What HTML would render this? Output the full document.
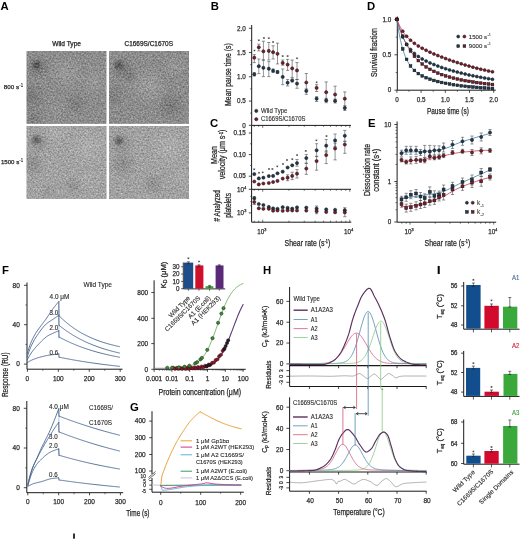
<!DOCTYPE html>
<html><head><meta charset="utf-8"><style>
html,body{margin:0;padding:0;background:#fff;width:520px;height:540px;overflow:hidden}
svg{display:block;will-change:transform}
text{font-family:"Liberation Sans", sans-serif}
</style></head><body>
<svg width="520" height="540" viewBox="0 0 520 540" font-family="Liberation Sans, sans-serif">
<defs>
<filter id="tex" x="0" y="0" width="1" height="1" color-interpolation-filters="sRGB">
<feTurbulence type="fractalNoise" baseFrequency="0.6" numOctaves="2" seed="7" result="n"/>
<feColorMatrix in="n" type="matrix" values="1 0 0 0 0  1 0 0 0 0  1 0 0 0 0  0 0 0 0 1" result="g"/>
<feGaussianBlur in="g" stdDeviation="0.35" result="gb"/>
<feComposite in="SourceGraphic" in2="gb" operator="arithmetic" k1="0" k2="1" k3="0.42" k4="-0.21"/>
</filter>
</defs>
<rect width="520" height="540" fill="#fff"/>
<text x="0.4" y="9.5" font-size="11.3" fill="#000" font-weight="bold">A</text>
<text x="52.2" y="45.8" font-size="6.3" fill="#262626" stroke="#262626" stroke-width="0.25" textLength="28.8" lengthAdjust="spacingAndGlyphs">Wild Type</text>
<text x="124.5" y="45.8" font-size="6.3" fill="#262626" stroke="#262626" stroke-width="0.25" textLength="48.5" lengthAdjust="spacingAndGlyphs">C1669S/C1670S</text>
<text x="3.75" y="89.4" font-size="6.2" fill="#262626" stroke="#262626" stroke-width="0.25" textLength="15.3" lengthAdjust="spacingAndGlyphs">800 s</text>
<text x="19.3" y="87.3" font-size="4.8" fill="#2b2b2b" stroke="#2b2b2b" stroke-width="0.12" textLength="3.9" lengthAdjust="spacingAndGlyphs">-1</text>
<text x="0.9" y="164.4" font-size="6.2" fill="#262626" stroke="#262626" stroke-width="0.25" textLength="18.4" lengthAdjust="spacingAndGlyphs">1500 s</text>
<text x="19.3" y="162.3" font-size="4.8" fill="#2b2b2b" stroke="#2b2b2b" stroke-width="0.12" textLength="3.9" lengthAdjust="spacingAndGlyphs">-1</text>
<defs><radialGradient id="blobk"><stop offset="0" stop-color="#000" stop-opacity="1"/><stop offset="1" stop-color="#000" stop-opacity="0"/></radialGradient><radialGradient id="blobw"><stop offset="0" stop-color="#fff" stop-opacity="1"/><stop offset="1" stop-color="#fff" stop-opacity="0"/></radialGradient></defs>
<clipPath id="cq0"><rect x="26.5" y="51.0" width="80" height="72.7"/></clipPath>
<g clip-path="url(#cq0)"><g filter="url(#tex)"><rect x="26.5" y="51.0" width="80" height="72.7" fill="#8c8c8c"/><circle cx="36.3" cy="65.2" r="6" fill="url(#blobk)" opacity="0.4"/><circle cx="38.5" cy="67.0" r="13" fill="url(#blobk)" opacity="0.16"/><circle cx="31.5" cy="96.0" r="16" fill="url(#blobk)" opacity="0.14"/><circle cx="34.5" cy="119.0" r="12" fill="url(#blobk)" opacity="0.1"/><circle cx="76.5" cy="103.0" r="12" fill="url(#blobk)" opacity="0.12"/><circle cx="66.5" cy="73.0" r="18" fill="url(#blobw)" opacity="0.12"/><circle cx="94.5" cy="81.0" r="16" fill="url(#blobw)" opacity="0.1"/><circle cx="56.5" cy="111.0" r="12" fill="url(#blobw)" opacity="0.05"/></g></g>
<clipPath id="cq1"><rect x="109.0" y="51.0" width="80" height="72.7"/></clipPath>
<g clip-path="url(#cq1)"><g filter="url(#tex)"><rect x="109.0" y="51.0" width="80" height="72.7" fill="#8c8c8c"/><circle cx="118.8" cy="65.0" r="6" fill="url(#blobk)" opacity="0.4"/><circle cx="123.0" cy="69.0" r="13" fill="url(#blobk)" opacity="0.16"/><circle cx="131.0" cy="77.0" r="8" fill="url(#blobk)" opacity="0.1"/><circle cx="113.0" cy="96.0" r="14" fill="url(#blobk)" opacity="0.1"/><circle cx="171.0" cy="106.0" r="15" fill="url(#blobk)" opacity="0.14"/><circle cx="149.0" cy="86.0" r="20" fill="url(#blobw)" opacity="0.14"/><circle cx="174.0" cy="66.0" r="14" fill="url(#blobw)" opacity="0.08"/></g></g>
<clipPath id="cq2"><rect x="26.5" y="126.0" width="80" height="72.7"/></clipPath>
<g clip-path="url(#cq2)"><g filter="url(#tex)"><rect x="26.5" y="126.0" width="80" height="72.7" fill="#a2a2a2"/><circle cx="36.4" cy="139.9" r="6" fill="url(#blobk)" opacity="0.4"/><circle cx="38.5" cy="142.0" r="13" fill="url(#blobk)" opacity="0.14"/><circle cx="32.5" cy="164.0" r="14" fill="url(#blobk)" opacity="0.14"/><circle cx="73.5" cy="186.0" r="10" fill="url(#blobk)" opacity="0.12"/><circle cx="48.5" cy="191.0" r="10" fill="url(#blobk)" opacity="0.06"/><circle cx="54.5" cy="132.0" r="14" fill="url(#blobw)" opacity="0.1"/><circle cx="88.5" cy="148.0" r="20" fill="url(#blobw)" opacity="0.12"/><circle cx="88.5" cy="181.0" r="14" fill="url(#blobw)" opacity="0.06"/></g></g>
<clipPath id="cq3"><rect x="109.0" y="126.0" width="80" height="72.7"/></clipPath>
<g clip-path="url(#cq3)"><g filter="url(#tex)"><rect x="109.0" y="126.0" width="80" height="72.7" fill="#a1a1a1"/><circle cx="118.8" cy="140.5" r="6" fill="url(#blobk)" opacity="0.4"/><circle cx="121.0" cy="143.0" r="13" fill="url(#blobk)" opacity="0.14"/><circle cx="123.0" cy="164.0" r="15" fill="url(#blobk)" opacity="0.14"/><circle cx="153.0" cy="184.0" r="12" fill="url(#blobk)" opacity="0.12"/><circle cx="169.0" cy="148.0" r="20" fill="url(#blobw)" opacity="0.14"/><circle cx="181.0" cy="176.0" r="12" fill="url(#blobw)" opacity="0.08"/></g></g>
<text x="210.7" y="9.5" font-size="11.3" fill="#000" font-weight="bold">B</text>
<line x1="251.7" y1="25" x2="251.7" y2="125.4" stroke="#1a1a1a" stroke-width="1.0" />
<line x1="248.9" y1="125.3" x2="251.7" y2="125.3" stroke="#1a1a1a" stroke-width="0.8" />
<text x="245.8" y="127.5" font-size="7.09" text-anchor="end" fill="#2a2a2a" stroke="#2a2a2a" stroke-width="0.25" textLength="3.51" lengthAdjust="spacingAndGlyphs">0</text>
<line x1="248.9" y1="101.05" x2="251.7" y2="101.05" stroke="#1a1a1a" stroke-width="0.8" />
<text x="245.8" y="103.25" font-size="7.09" text-anchor="end" fill="#2a2a2a" stroke="#2a2a2a" stroke-width="0.25" textLength="8.77" lengthAdjust="spacingAndGlyphs">0.5</text>
<line x1="248.9" y1="76.8" x2="251.7" y2="76.8" stroke="#1a1a1a" stroke-width="0.8" />
<text x="245.8" y="79" font-size="7.09" text-anchor="end" fill="#2a2a2a" stroke="#2a2a2a" stroke-width="0.25" textLength="8.77" lengthAdjust="spacingAndGlyphs">1.0</text>
<line x1="248.9" y1="52.55" x2="251.7" y2="52.55" stroke="#1a1a1a" stroke-width="0.8" />
<text x="245.8" y="54.75" font-size="7.09" text-anchor="end" fill="#2a2a2a" stroke="#2a2a2a" stroke-width="0.25" textLength="8.77" lengthAdjust="spacingAndGlyphs">1.5</text>
<line x1="248.9" y1="28.3" x2="251.7" y2="28.3" stroke="#1a1a1a" stroke-width="0.8" />
<text x="245.8" y="30.5" font-size="7.09" text-anchor="end" fill="#2a2a2a" stroke="#2a2a2a" stroke-width="0.25" textLength="8.77" lengthAdjust="spacingAndGlyphs">2.0</text>
<line x1="250.1" y1="113.17" x2="251.7" y2="113.17" stroke="#1a1a1a" stroke-width="0.6" />
<line x1="250.1" y1="88.92" x2="251.7" y2="88.92" stroke="#1a1a1a" stroke-width="0.6" />
<line x1="250.1" y1="64.67" x2="251.7" y2="64.67" stroke="#1a1a1a" stroke-width="0.6" />
<line x1="250.1" y1="40.42" x2="251.7" y2="40.42" stroke="#1a1a1a" stroke-width="0.6" />
<text x="231.2" y="74.6" font-size="8.6" text-anchor="middle" fill="#262626" stroke="#262626" stroke-width="0.25" textLength="62.6" lengthAdjust="spacingAndGlyphs" transform="rotate(-90 231.2 74.6)">Mean pause time (s)</text>
<line x1="251.7" y1="125.4" x2="351" y2="125.4" stroke="#1a1a1a" stroke-width="1.0" />
<line x1="254.26" y1="125.4" x2="254.26" y2="126.9" stroke="#1a1a1a" stroke-width="0.6" />
<line x1="258.71" y1="125.4" x2="258.71" y2="126.9" stroke="#1a1a1a" stroke-width="0.6" />
<line x1="262.7" y1="125.4" x2="262.7" y2="127.9" stroke="#1a1a1a" stroke-width="0.6" />
<line x1="288.92" y1="125.4" x2="288.92" y2="126.9" stroke="#1a1a1a" stroke-width="0.6" />
<line x1="304.26" y1="125.4" x2="304.26" y2="126.9" stroke="#1a1a1a" stroke-width="0.6" />
<line x1="315.14" y1="125.4" x2="315.14" y2="126.9" stroke="#1a1a1a" stroke-width="0.6" />
<line x1="323.58" y1="125.4" x2="323.58" y2="126.9" stroke="#1a1a1a" stroke-width="0.6" />
<line x1="330.48" y1="125.4" x2="330.48" y2="126.9" stroke="#1a1a1a" stroke-width="0.6" />
<line x1="336.31" y1="125.4" x2="336.31" y2="126.9" stroke="#1a1a1a" stroke-width="0.6" />
<line x1="341.36" y1="125.4" x2="341.36" y2="126.9" stroke="#1a1a1a" stroke-width="0.6" />
<line x1="345.81" y1="125.4" x2="345.81" y2="126.9" stroke="#1a1a1a" stroke-width="0.6" />
<line x1="349.8" y1="125.4" x2="349.8" y2="127.9" stroke="#1a1a1a" stroke-width="0.6" />
<line x1="254.3" y1="72.5" x2="254.3" y2="76" stroke="#4a5058" stroke-width="0.6" />
<line x1="252.7" y1="72.5" x2="255.9" y2="72.5" stroke="#4a5058" stroke-width="0.6" />
<line x1="252.7" y1="76" x2="255.9" y2="76" stroke="#4a5058" stroke-width="0.6" />
<line x1="254.3" y1="54.6" x2="254.3" y2="62.6" stroke="#4a4a4a" stroke-width="0.6" />
<line x1="252.7" y1="54.6" x2="255.9" y2="54.6" stroke="#4a4a4a" stroke-width="0.6" />
<line x1="252.7" y1="62.6" x2="255.9" y2="62.6" stroke="#4a4a4a" stroke-width="0.6" />
<line x1="258.8" y1="59" x2="258.8" y2="73.6" stroke="#4a5058" stroke-width="0.6" />
<line x1="257.2" y1="59" x2="260.4" y2="59" stroke="#4a5058" stroke-width="0.6" />
<line x1="257.2" y1="73.6" x2="260.4" y2="73.6" stroke="#4a5058" stroke-width="0.6" />
<line x1="258.8" y1="44.2" x2="258.8" y2="50.9" stroke="#4a4a4a" stroke-width="0.6" />
<line x1="257.2" y1="44.2" x2="260.4" y2="44.2" stroke="#4a4a4a" stroke-width="0.6" />
<line x1="257.2" y1="50.9" x2="260.4" y2="50.9" stroke="#4a4a4a" stroke-width="0.6" />
<line x1="263.4" y1="60" x2="263.4" y2="76.6" stroke="#4a5058" stroke-width="0.6" />
<line x1="261.8" y1="60" x2="265" y2="60" stroke="#4a5058" stroke-width="0.6" />
<line x1="261.8" y1="76.6" x2="265" y2="76.6" stroke="#4a5058" stroke-width="0.6" />
<line x1="263.4" y1="41.2" x2="263.4" y2="60" stroke="#4a4a4a" stroke-width="0.6" />
<line x1="261.8" y1="41.2" x2="265" y2="41.2" stroke="#4a4a4a" stroke-width="0.6" />
<line x1="261.8" y1="60" x2="265" y2="60" stroke="#4a4a4a" stroke-width="0.6" />
<line x1="268.8" y1="61.6" x2="268.8" y2="76.6" stroke="#4a5058" stroke-width="0.6" />
<line x1="267.2" y1="61.6" x2="270.4" y2="61.6" stroke="#4a5058" stroke-width="0.6" />
<line x1="267.2" y1="76.6" x2="270.4" y2="76.6" stroke="#4a5058" stroke-width="0.6" />
<line x1="268.8" y1="42.5" x2="268.8" y2="60" stroke="#4a4a4a" stroke-width="0.6" />
<line x1="267.2" y1="42.5" x2="270.4" y2="42.5" stroke="#4a4a4a" stroke-width="0.6" />
<line x1="267.2" y1="60" x2="270.4" y2="60" stroke="#4a4a4a" stroke-width="0.6" />
<line x1="273.1" y1="69" x2="273.1" y2="72.5" stroke="#4a5058" stroke-width="0.6" />
<line x1="271.5" y1="69" x2="274.7" y2="69" stroke="#4a5058" stroke-width="0.6" />
<line x1="271.5" y1="72.5" x2="274.7" y2="72.5" stroke="#4a5058" stroke-width="0.6" />
<line x1="273.1" y1="45.8" x2="273.1" y2="59" stroke="#4a4a4a" stroke-width="0.6" />
<line x1="271.5" y1="45.8" x2="274.7" y2="45.8" stroke="#4a4a4a" stroke-width="0.6" />
<line x1="271.5" y1="59" x2="274.7" y2="59" stroke="#4a4a4a" stroke-width="0.6" />
<line x1="277.5" y1="70.5" x2="277.5" y2="73.5" stroke="#4a5058" stroke-width="0.6" />
<line x1="275.9" y1="70.5" x2="279.1" y2="70.5" stroke="#4a5058" stroke-width="0.6" />
<line x1="275.9" y1="73.5" x2="279.1" y2="73.5" stroke="#4a5058" stroke-width="0.6" />
<line x1="277.5" y1="43.2" x2="277.5" y2="63.9" stroke="#4a4a4a" stroke-width="0.6" />
<line x1="275.9" y1="43.2" x2="279.1" y2="43.2" stroke="#4a4a4a" stroke-width="0.6" />
<line x1="275.9" y1="63.9" x2="279.1" y2="63.9" stroke="#4a4a4a" stroke-width="0.6" />
<line x1="282.7" y1="69" x2="282.7" y2="84.7" stroke="#4a5058" stroke-width="0.6" />
<line x1="281.1" y1="69" x2="284.3" y2="69" stroke="#4a5058" stroke-width="0.6" />
<line x1="281.1" y1="84.7" x2="284.3" y2="84.7" stroke="#4a5058" stroke-width="0.6" />
<line x1="282.7" y1="60" x2="282.7" y2="65.2" stroke="#4a4a4a" stroke-width="0.6" />
<line x1="281.1" y1="60" x2="284.3" y2="60" stroke="#4a4a4a" stroke-width="0.6" />
<line x1="281.1" y1="65.2" x2="284.3" y2="65.2" stroke="#4a4a4a" stroke-width="0.6" />
<line x1="287.6" y1="79.5" x2="287.6" y2="86" stroke="#4a5058" stroke-width="0.6" />
<line x1="286" y1="79.5" x2="289.2" y2="79.5" stroke="#4a5058" stroke-width="0.6" />
<line x1="286" y1="86" x2="289.2" y2="86" stroke="#4a5058" stroke-width="0.6" />
<line x1="287.6" y1="59.4" x2="287.6" y2="70.4" stroke="#4a4a4a" stroke-width="0.6" />
<line x1="286" y1="59.4" x2="289.2" y2="59.4" stroke="#4a4a4a" stroke-width="0.6" />
<line x1="286" y1="70.4" x2="289.2" y2="70.4" stroke="#4a4a4a" stroke-width="0.6" />
<line x1="292.2" y1="79" x2="292.2" y2="82" stroke="#4a5058" stroke-width="0.6" />
<line x1="290.6" y1="79" x2="293.8" y2="79" stroke="#4a5058" stroke-width="0.6" />
<line x1="290.6" y1="82" x2="293.8" y2="82" stroke="#4a5058" stroke-width="0.6" />
<line x1="292.2" y1="60" x2="292.2" y2="77.5" stroke="#4a4a4a" stroke-width="0.6" />
<line x1="290.6" y1="60" x2="293.8" y2="60" stroke="#4a4a4a" stroke-width="0.6" />
<line x1="290.6" y1="77.5" x2="293.8" y2="77.5" stroke="#4a4a4a" stroke-width="0.6" />
<line x1="297" y1="79.5" x2="297" y2="88.3" stroke="#4a5058" stroke-width="0.6" />
<line x1="295.4" y1="79.5" x2="298.6" y2="79.5" stroke="#4a5058" stroke-width="0.6" />
<line x1="295.4" y1="88.3" x2="298.6" y2="88.3" stroke="#4a5058" stroke-width="0.6" />
<line x1="297" y1="62.6" x2="297" y2="79.5" stroke="#4a4a4a" stroke-width="0.6" />
<line x1="295.4" y1="62.6" x2="298.6" y2="62.6" stroke="#4a4a4a" stroke-width="0.6" />
<line x1="295.4" y1="79.5" x2="298.6" y2="79.5" stroke="#4a4a4a" stroke-width="0.6" />
<line x1="306.3" y1="88.9" x2="306.3" y2="94.3" stroke="#4a5058" stroke-width="0.6" />
<line x1="304.7" y1="88.9" x2="307.9" y2="88.9" stroke="#4a5058" stroke-width="0.6" />
<line x1="304.7" y1="94.3" x2="307.9" y2="94.3" stroke="#4a5058" stroke-width="0.6" />
<line x1="306.3" y1="73.5" x2="306.3" y2="90.1" stroke="#4a4a4a" stroke-width="0.6" />
<line x1="304.7" y1="73.5" x2="307.9" y2="73.5" stroke="#4a4a4a" stroke-width="0.6" />
<line x1="304.7" y1="90.1" x2="307.9" y2="90.1" stroke="#4a4a4a" stroke-width="0.6" />
<line x1="316.6" y1="96.7" x2="316.6" y2="101.5" stroke="#4a5058" stroke-width="0.6" />
<line x1="315" y1="96.7" x2="318.2" y2="96.7" stroke="#4a5058" stroke-width="0.6" />
<line x1="315" y1="101.5" x2="318.2" y2="101.5" stroke="#4a5058" stroke-width="0.6" />
<line x1="316.6" y1="84.7" x2="316.6" y2="91.5" stroke="#4a4a4a" stroke-width="0.6" />
<line x1="315" y1="84.7" x2="318.2" y2="84.7" stroke="#4a4a4a" stroke-width="0.6" />
<line x1="315" y1="91.5" x2="318.2" y2="91.5" stroke="#4a4a4a" stroke-width="0.6" />
<line x1="326.2" y1="98.3" x2="326.2" y2="102.7" stroke="#4a5058" stroke-width="0.6" />
<line x1="324.6" y1="98.3" x2="327.8" y2="98.3" stroke="#4a5058" stroke-width="0.6" />
<line x1="324.6" y1="102.7" x2="327.8" y2="102.7" stroke="#4a5058" stroke-width="0.6" />
<line x1="326.2" y1="81.9" x2="326.2" y2="101.5" stroke="#4a4a4a" stroke-width="0.6" />
<line x1="324.6" y1="81.9" x2="327.8" y2="81.9" stroke="#4a4a4a" stroke-width="0.6" />
<line x1="324.6" y1="101.5" x2="327.8" y2="101.5" stroke="#4a4a4a" stroke-width="0.6" />
<line x1="335.1" y1="99.1" x2="335.1" y2="103" stroke="#4a5058" stroke-width="0.6" />
<line x1="333.5" y1="99.1" x2="336.7" y2="99.1" stroke="#4a5058" stroke-width="0.6" />
<line x1="333.5" y1="103" x2="336.7" y2="103" stroke="#4a5058" stroke-width="0.6" />
<line x1="335.1" y1="86.2" x2="335.1" y2="101.5" stroke="#4a4a4a" stroke-width="0.6" />
<line x1="333.5" y1="86.2" x2="336.7" y2="86.2" stroke="#4a4a4a" stroke-width="0.6" />
<line x1="333.5" y1="101.5" x2="336.7" y2="101.5" stroke="#4a4a4a" stroke-width="0.6" />
<line x1="344.8" y1="105.7" x2="344.8" y2="110.5" stroke="#4a5058" stroke-width="0.6" />
<line x1="343.2" y1="105.7" x2="346.4" y2="105.7" stroke="#4a5058" stroke-width="0.6" />
<line x1="343.2" y1="110.5" x2="346.4" y2="110.5" stroke="#4a5058" stroke-width="0.6" />
<line x1="344.8" y1="91.9" x2="344.8" y2="106.9" stroke="#4a4a4a" stroke-width="0.6" />
<line x1="343.2" y1="91.9" x2="346.4" y2="91.9" stroke="#4a4a4a" stroke-width="0.6" />
<line x1="343.2" y1="106.9" x2="346.4" y2="106.9" stroke="#4a4a4a" stroke-width="0.6" />
<circle cx="254.30" cy="74.30" r="1.6" fill="#1d3a52" stroke="#111" stroke-width="0.5"/>
<circle cx="258.80" cy="66.20" r="1.6" fill="#1d3a52" stroke="#111" stroke-width="0.5"/>
<circle cx="263.40" cy="67.80" r="1.6" fill="#1d3a52" stroke="#111" stroke-width="0.5"/>
<circle cx="268.80" cy="68.70" r="1.6" fill="#1d3a52" stroke="#111" stroke-width="0.5"/>
<circle cx="273.10" cy="70.70" r="1.6" fill="#1d3a52" stroke="#111" stroke-width="0.5"/>
<circle cx="277.50" cy="72.00" r="1.6" fill="#1d3a52" stroke="#111" stroke-width="0.5"/>
<circle cx="282.70" cy="76.90" r="1.6" fill="#1d3a52" stroke="#111" stroke-width="0.5"/>
<circle cx="287.60" cy="82.70" r="1.6" fill="#1d3a52" stroke="#111" stroke-width="0.5"/>
<circle cx="292.20" cy="80.50" r="1.6" fill="#1d3a52" stroke="#111" stroke-width="0.5"/>
<circle cx="297.00" cy="83.60" r="1.6" fill="#1d3a52" stroke="#111" stroke-width="0.5"/>
<circle cx="306.30" cy="91.00" r="1.6" fill="#1d3a52" stroke="#111" stroke-width="0.5"/>
<circle cx="316.60" cy="98.70" r="1.6" fill="#1d3a52" stroke="#111" stroke-width="0.5"/>
<circle cx="326.20" cy="100.30" r="1.6" fill="#1d3a52" stroke="#111" stroke-width="0.5"/>
<circle cx="335.10" cy="100.90" r="1.6" fill="#1d3a52" stroke="#111" stroke-width="0.5"/>
<circle cx="344.80" cy="108.10" r="1.6" fill="#1d3a52" stroke="#111" stroke-width="0.5"/>
<circle cx="254.30" cy="57.70" r="1.6" fill="#7d1a2e" stroke="#111" stroke-width="0.5"/>
<circle cx="258.80" cy="47.30" r="1.6" fill="#7d1a2e" stroke="#111" stroke-width="0.5"/>
<circle cx="263.40" cy="51.30" r="1.6" fill="#7d1a2e" stroke="#111" stroke-width="0.5"/>
<circle cx="268.80" cy="50.90" r="1.6" fill="#7d1a2e" stroke="#111" stroke-width="0.5"/>
<circle cx="273.10" cy="52.20" r="1.6" fill="#7d1a2e" stroke="#111" stroke-width="0.5"/>
<circle cx="277.50" cy="53.80" r="1.6" fill="#7d1a2e" stroke="#111" stroke-width="0.5"/>
<circle cx="282.70" cy="62.90" r="1.6" fill="#7d1a2e" stroke="#111" stroke-width="0.5"/>
<circle cx="287.60" cy="64.60" r="1.6" fill="#7d1a2e" stroke="#111" stroke-width="0.5"/>
<circle cx="292.20" cy="68.40" r="1.6" fill="#7d1a2e" stroke="#111" stroke-width="0.5"/>
<circle cx="297.00" cy="70.40" r="1.6" fill="#7d1a2e" stroke="#111" stroke-width="0.5"/>
<circle cx="306.30" cy="82.50" r="1.6" fill="#7d1a2e" stroke="#111" stroke-width="0.5"/>
<circle cx="316.60" cy="87.90" r="1.6" fill="#7d1a2e" stroke="#111" stroke-width="0.5"/>
<circle cx="326.20" cy="92.20" r="1.6" fill="#7d1a2e" stroke="#111" stroke-width="0.5"/>
<circle cx="335.10" cy="94.50" r="1.6" fill="#7d1a2e" stroke="#111" stroke-width="0.5"/>
<circle cx="344.80" cy="98.70" r="1.6" fill="#7d1a2e" stroke="#111" stroke-width="0.5"/>
<path d="M253.60,50.50 h1.8 M254.50,49.60 v1.8 M253.85,49.85 l1.3,1.3 M253.85,51.15 l1.3,-1.3" stroke="#3a3a3a" stroke-width="0.55"/>
<path d="M257.90,40.30 h1.8 M258.80,39.40 v1.8 M258.15,39.65 l1.3,1.3 M258.15,40.95 l1.3,-1.3" stroke="#3a3a3a" stroke-width="0.55"/>
<path d="M263.00,38.00 h1.8 M263.90,37.10 v1.8 M263.25,37.35 l1.3,1.3 M263.25,38.65 l1.3,-1.3" stroke="#3a3a3a" stroke-width="0.55"/>
<path d="M267.90,38.20 h1.8 M268.80,37.30 v1.8 M268.15,37.55 l1.3,1.3 M268.15,38.85 l1.3,-1.3" stroke="#3a3a3a" stroke-width="0.55"/>
<path d="M272.20,42.00 h1.8 M273.10,41.10 v1.8 M272.45,41.35 l1.3,1.3 M272.45,42.65 l1.3,-1.3" stroke="#3a3a3a" stroke-width="0.55"/>
<path d="M281.80,56.10 h1.8 M282.70,55.20 v1.8 M282.05,55.45 l1.3,1.3 M282.05,56.75 l1.3,-1.3" stroke="#3a3a3a" stroke-width="0.55"/>
<path d="M286.70,56.10 h1.8 M287.60,55.20 v1.8 M286.95,55.45 l1.3,1.3 M286.95,56.75 l1.3,-1.3" stroke="#3a3a3a" stroke-width="0.55"/>
<path d="M296.10,58.30 h1.8 M297.00,57.40 v1.8 M296.35,57.65 l1.3,1.3 M296.35,58.95 l1.3,-1.3" stroke="#3a3a3a" stroke-width="0.55"/>
<path d="M315.70,82.30 h1.8 M316.60,81.40 v1.8 M315.95,81.65 l1.3,1.3 M315.95,82.95 l1.3,-1.3" stroke="#3a3a3a" stroke-width="0.55"/>
<circle cx="256.30" cy="110.90" r="1.6" fill="#1d3a52" stroke="#111" stroke-width="0.5"/>
<circle cx="256.30" cy="119.20" r="1.6" fill="#7d1a2e" stroke="#111" stroke-width="0.5"/>
<text x="261" y="113.2" font-size="6.3" fill="#2b2b2b" stroke="#2b2b2b" stroke-width="0.12" textLength="26.4" lengthAdjust="spacingAndGlyphs">Wild Type</text>
<text x="261" y="121.4" font-size="6.3" fill="#2b2b2b" stroke="#2b2b2b" stroke-width="0.12" textLength="44.4" lengthAdjust="spacingAndGlyphs">C1669S/C1670S</text>
<text x="210.1" y="127" font-size="11.3" fill="#000" font-weight="bold">C</text>
<line x1="251.6" y1="125.4" x2="251.6" y2="222.2" stroke="#1a1a1a" stroke-width="1.0" />
<line x1="248.8" y1="176.2" x2="251.6" y2="176.2" stroke="#1a1a1a" stroke-width="0.8" />
<text x="245.8" y="178.4" font-size="7.09" text-anchor="end" fill="#2a2a2a" stroke="#2a2a2a" stroke-width="0.25" textLength="12.27" lengthAdjust="spacingAndGlyphs">0.05</text>
<line x1="248.8" y1="154.6" x2="251.6" y2="154.6" stroke="#1a1a1a" stroke-width="0.8" />
<text x="245.8" y="156.8" font-size="7.09" text-anchor="end" fill="#2a2a2a" stroke="#2a2a2a" stroke-width="0.25" textLength="12.27" lengthAdjust="spacingAndGlyphs">0.10</text>
<line x1="248.8" y1="133" x2="251.6" y2="133" stroke="#1a1a1a" stroke-width="0.8" />
<text x="245.8" y="135.2" font-size="7.09" text-anchor="end" fill="#2a2a2a" stroke="#2a2a2a" stroke-width="0.25" textLength="12.27" lengthAdjust="spacingAndGlyphs">0.15</text>
<line x1="250" y1="165.4" x2="251.6" y2="165.4" stroke="#1a1a1a" stroke-width="0.6" />
<line x1="250" y1="143.8" x2="251.6" y2="143.8" stroke="#1a1a1a" stroke-width="0.6" />
<line x1="251.6" y1="189.3" x2="351" y2="189.3" stroke="#1a1a1a" stroke-width="1.0" />
<line x1="254.26" y1="189.3" x2="254.26" y2="190.8" stroke="#1a1a1a" stroke-width="0.6" />
<line x1="258.71" y1="189.3" x2="258.71" y2="190.8" stroke="#1a1a1a" stroke-width="0.6" />
<line x1="262.7" y1="189.3" x2="262.7" y2="191.8" stroke="#1a1a1a" stroke-width="0.6" />
<line x1="288.92" y1="189.3" x2="288.92" y2="190.8" stroke="#1a1a1a" stroke-width="0.6" />
<line x1="304.26" y1="189.3" x2="304.26" y2="190.8" stroke="#1a1a1a" stroke-width="0.6" />
<line x1="315.14" y1="189.3" x2="315.14" y2="190.8" stroke="#1a1a1a" stroke-width="0.6" />
<line x1="323.58" y1="189.3" x2="323.58" y2="190.8" stroke="#1a1a1a" stroke-width="0.6" />
<line x1="330.48" y1="189.3" x2="330.48" y2="190.8" stroke="#1a1a1a" stroke-width="0.6" />
<line x1="336.31" y1="189.3" x2="336.31" y2="190.8" stroke="#1a1a1a" stroke-width="0.6" />
<line x1="341.36" y1="189.3" x2="341.36" y2="190.8" stroke="#1a1a1a" stroke-width="0.6" />
<line x1="345.81" y1="189.3" x2="345.81" y2="190.8" stroke="#1a1a1a" stroke-width="0.6" />
<line x1="349.8" y1="189.3" x2="349.8" y2="191.8" stroke="#1a1a1a" stroke-width="0.6" />
<line x1="251.6" y1="222.2" x2="351.3" y2="222.2" stroke="#1a1a1a" stroke-width="1.0" />
<line x1="254.26" y1="222.2" x2="254.26" y2="220.7" stroke="#1a1a1a" stroke-width="0.6" />
<line x1="258.71" y1="222.2" x2="258.71" y2="220.7" stroke="#1a1a1a" stroke-width="0.6" />
<line x1="262.7" y1="222.2" x2="262.7" y2="219.7" stroke="#1a1a1a" stroke-width="0.6" />
<line x1="288.92" y1="222.2" x2="288.92" y2="220.7" stroke="#1a1a1a" stroke-width="0.6" />
<line x1="304.26" y1="222.2" x2="304.26" y2="220.7" stroke="#1a1a1a" stroke-width="0.6" />
<line x1="315.14" y1="222.2" x2="315.14" y2="220.7" stroke="#1a1a1a" stroke-width="0.6" />
<line x1="323.58" y1="222.2" x2="323.58" y2="220.7" stroke="#1a1a1a" stroke-width="0.6" />
<line x1="330.48" y1="222.2" x2="330.48" y2="220.7" stroke="#1a1a1a" stroke-width="0.6" />
<line x1="336.31" y1="222.2" x2="336.31" y2="220.7" stroke="#1a1a1a" stroke-width="0.6" />
<line x1="341.36" y1="222.2" x2="341.36" y2="220.7" stroke="#1a1a1a" stroke-width="0.6" />
<line x1="345.81" y1="222.2" x2="345.81" y2="220.7" stroke="#1a1a1a" stroke-width="0.6" />
<line x1="349.8" y1="222.2" x2="349.8" y2="219.7" stroke="#1a1a1a" stroke-width="0.6" />
<line x1="248.8" y1="212.9" x2="251.6" y2="212.9" stroke="#1a1a1a" stroke-width="0.8" />
<line x1="248.8" y1="189.3" x2="251.6" y2="189.3" stroke="#1a1a1a" stroke-width="0.8" />
<line x1="250.1" y1="205.8" x2="251.6" y2="205.8" stroke="#1a1a1a" stroke-width="0.5" />
<line x1="250.1" y1="201.64" x2="251.6" y2="201.64" stroke="#1a1a1a" stroke-width="0.5" />
<line x1="250.1" y1="196.4" x2="251.6" y2="196.4" stroke="#1a1a1a" stroke-width="0.5" />
<text x="240.5" y="191.6" font-size="7.09" text-anchor="middle" fill="#2a2a2a" stroke="#2a2a2a" stroke-width="0.25" textLength="7.01" lengthAdjust="spacingAndGlyphs">10</text>
<text x="245.2" y="188.8" font-size="4.34" text-anchor="middle" fill="#2a2a2a" stroke="#2a2a2a" stroke-width="0.25" textLength="2.15" lengthAdjust="spacingAndGlyphs">4</text>
<text x="240.5" y="215.2" font-size="7.09" text-anchor="middle" fill="#2a2a2a" stroke="#2a2a2a" stroke-width="0.25" textLength="7.01" lengthAdjust="spacingAndGlyphs">10</text>
<text x="245.2" y="212.4" font-size="4.34" text-anchor="middle" fill="#2a2a2a" stroke="#2a2a2a" stroke-width="0.25" textLength="2.15" lengthAdjust="spacingAndGlyphs">3</text>
<text x="217.2" y="155" font-size="8.2" text-anchor="middle" fill="#262626" stroke="#262626" stroke-width="0.25" textLength="17.8" lengthAdjust="spacingAndGlyphs" transform="rotate(-90 217.2 155)">Mean</text>
<text x="225.3" y="154.4" font-size="8.2" text-anchor="middle" fill="#262626" stroke="#262626" stroke-width="0.25" textLength="49.7" lengthAdjust="spacingAndGlyphs" transform="rotate(-90 225.3 154.4)">velocity (μm s<tspan dy="-2.6" font-size="4.8">-1</tspan><tspan dy="2.6">)</tspan></text>
<text x="219.8" y="205.8" font-size="8.2" text-anchor="middle" fill="#262626" stroke="#262626" stroke-width="0.25" textLength="31.5" lengthAdjust="spacingAndGlyphs" transform="rotate(-90 219.8 205.8)"># Analyzed</text>
<text x="230.6" y="205.4" font-size="8.2" text-anchor="middle" fill="#262626" stroke="#262626" stroke-width="0.25" textLength="24.7" lengthAdjust="spacingAndGlyphs" transform="rotate(-90 230.6 205.4)">platelets</text>
<line x1="287.6" y1="174.8" x2="287.6" y2="180.7" stroke="#4a4a4a" stroke-width="0.6" />
<line x1="286" y1="174.8" x2="289.2" y2="174.8" stroke="#4a4a4a" stroke-width="0.6" />
<line x1="286" y1="180.7" x2="289.2" y2="180.7" stroke="#4a4a4a" stroke-width="0.6" />
<line x1="292.2" y1="172.2" x2="292.2" y2="179.6" stroke="#4a4a4a" stroke-width="0.6" />
<line x1="290.6" y1="172.2" x2="293.8" y2="172.2" stroke="#4a4a4a" stroke-width="0.6" />
<line x1="290.6" y1="179.6" x2="293.8" y2="179.6" stroke="#4a4a4a" stroke-width="0.6" />
<line x1="297" y1="159.5" x2="297" y2="166.2" stroke="#4a5058" stroke-width="0.6" />
<line x1="295.4" y1="159.5" x2="298.6" y2="159.5" stroke="#4a5058" stroke-width="0.6" />
<line x1="295.4" y1="166.2" x2="298.6" y2="166.2" stroke="#4a5058" stroke-width="0.6" />
<line x1="297" y1="169.6" x2="297" y2="178" stroke="#4a4a4a" stroke-width="0.6" />
<line x1="295.4" y1="169.6" x2="298.6" y2="169.6" stroke="#4a4a4a" stroke-width="0.6" />
<line x1="295.4" y1="178" x2="298.6" y2="178" stroke="#4a4a4a" stroke-width="0.6" />
<line x1="306.3" y1="154.5" x2="306.3" y2="163.3" stroke="#4a5058" stroke-width="0.6" />
<line x1="304.7" y1="154.5" x2="307.9" y2="154.5" stroke="#4a5058" stroke-width="0.6" />
<line x1="304.7" y1="163.3" x2="307.9" y2="163.3" stroke="#4a5058" stroke-width="0.6" />
<line x1="306.3" y1="163.3" x2="306.3" y2="174.4" stroke="#4a4a4a" stroke-width="0.6" />
<line x1="304.7" y1="163.3" x2="307.9" y2="163.3" stroke="#4a4a4a" stroke-width="0.6" />
<line x1="304.7" y1="174.4" x2="307.9" y2="174.4" stroke="#4a4a4a" stroke-width="0.6" />
<line x1="316.6" y1="143.7" x2="316.6" y2="156.3" stroke="#4a5058" stroke-width="0.6" />
<line x1="315" y1="143.7" x2="318.2" y2="143.7" stroke="#4a5058" stroke-width="0.6" />
<line x1="315" y1="156.3" x2="318.2" y2="156.3" stroke="#4a5058" stroke-width="0.6" />
<line x1="316.6" y1="156.6" x2="316.6" y2="170.2" stroke="#4a4a4a" stroke-width="0.6" />
<line x1="315" y1="156.6" x2="318.2" y2="156.6" stroke="#4a4a4a" stroke-width="0.6" />
<line x1="315" y1="170.2" x2="318.2" y2="170.2" stroke="#4a4a4a" stroke-width="0.6" />
<line x1="326.2" y1="139.5" x2="326.2" y2="152.1" stroke="#4a5058" stroke-width="0.6" />
<line x1="324.6" y1="139.5" x2="327.8" y2="139.5" stroke="#4a5058" stroke-width="0.6" />
<line x1="324.6" y1="152.1" x2="327.8" y2="152.1" stroke="#4a5058" stroke-width="0.6" />
<line x1="326.2" y1="150.9" x2="326.2" y2="163.6" stroke="#4a4a4a" stroke-width="0.6" />
<line x1="324.6" y1="150.9" x2="327.8" y2="150.9" stroke="#4a4a4a" stroke-width="0.6" />
<line x1="324.6" y1="163.6" x2="327.8" y2="163.6" stroke="#4a4a4a" stroke-width="0.6" />
<line x1="335.1" y1="134" x2="335.1" y2="146.7" stroke="#4a5058" stroke-width="0.6" />
<line x1="333.5" y1="134" x2="336.7" y2="134" stroke="#4a5058" stroke-width="0.6" />
<line x1="333.5" y1="146.7" x2="336.7" y2="146.7" stroke="#4a5058" stroke-width="0.6" />
<line x1="335.1" y1="143.1" x2="335.1" y2="159.9" stroke="#4a4a4a" stroke-width="0.6" />
<line x1="333.5" y1="143.1" x2="336.7" y2="143.1" stroke="#4a4a4a" stroke-width="0.6" />
<line x1="333.5" y1="159.9" x2="336.7" y2="159.9" stroke="#4a4a4a" stroke-width="0.6" />
<line x1="344.8" y1="130.4" x2="344.8" y2="141.3" stroke="#4a5058" stroke-width="0.6" />
<line x1="343.2" y1="130.4" x2="346.4" y2="130.4" stroke="#4a5058" stroke-width="0.6" />
<line x1="343.2" y1="141.3" x2="346.4" y2="141.3" stroke="#4a5058" stroke-width="0.6" />
<line x1="344.8" y1="141.3" x2="344.8" y2="153.3" stroke="#4a4a4a" stroke-width="0.6" />
<line x1="343.2" y1="141.3" x2="346.4" y2="141.3" stroke="#4a4a4a" stroke-width="0.6" />
<line x1="343.2" y1="153.3" x2="346.4" y2="153.3" stroke="#4a4a4a" stroke-width="0.6" />
<circle cx="254.30" cy="174.10" r="1.6" fill="#1d3a52" stroke="#111" stroke-width="0.5"/>
<circle cx="258.80" cy="178.40" r="1.6" fill="#1d3a52" stroke="#111" stroke-width="0.5"/>
<circle cx="263.40" cy="177.70" r="1.6" fill="#1d3a52" stroke="#111" stroke-width="0.5"/>
<circle cx="268.80" cy="176.10" r="1.6" fill="#1d3a52" stroke="#111" stroke-width="0.5"/>
<circle cx="273.10" cy="175.90" r="1.6" fill="#1d3a52" stroke="#111" stroke-width="0.5"/>
<circle cx="277.50" cy="173.30" r="1.6" fill="#1d3a52" stroke="#111" stroke-width="0.5"/>
<circle cx="282.70" cy="171.70" r="1.6" fill="#1d3a52" stroke="#111" stroke-width="0.5"/>
<circle cx="287.60" cy="167.50" r="1.6" fill="#1d3a52" stroke="#111" stroke-width="0.5"/>
<circle cx="292.20" cy="165.30" r="1.6" fill="#1d3a52" stroke="#111" stroke-width="0.5"/>
<circle cx="297.00" cy="163.10" r="1.6" fill="#1d3a52" stroke="#111" stroke-width="0.5"/>
<circle cx="306.30" cy="158.10" r="1.6" fill="#1d3a52" stroke="#111" stroke-width="0.5"/>
<circle cx="316.60" cy="150.30" r="1.6" fill="#1d3a52" stroke="#111" stroke-width="0.5"/>
<circle cx="326.20" cy="145.70" r="1.6" fill="#1d3a52" stroke="#111" stroke-width="0.5"/>
<circle cx="335.10" cy="140.40" r="1.6" fill="#1d3a52" stroke="#111" stroke-width="0.5"/>
<circle cx="344.80" cy="135.80" r="1.6" fill="#1d3a52" stroke="#111" stroke-width="0.5"/>
<circle cx="254.30" cy="181.50" r="1.6" fill="#7d1a2e" stroke="#111" stroke-width="0.5"/>
<circle cx="258.80" cy="184.40" r="1.6" fill="#7d1a2e" stroke="#111" stroke-width="0.5"/>
<circle cx="263.40" cy="183.50" r="1.6" fill="#7d1a2e" stroke="#111" stroke-width="0.5"/>
<circle cx="268.80" cy="183.00" r="1.6" fill="#7d1a2e" stroke="#111" stroke-width="0.5"/>
<circle cx="273.10" cy="182.00" r="1.6" fill="#7d1a2e" stroke="#111" stroke-width="0.5"/>
<circle cx="277.50" cy="180.90" r="1.6" fill="#7d1a2e" stroke="#111" stroke-width="0.5"/>
<circle cx="282.70" cy="178.60" r="1.6" fill="#7d1a2e" stroke="#111" stroke-width="0.5"/>
<circle cx="287.60" cy="177.70" r="1.6" fill="#7d1a2e" stroke="#111" stroke-width="0.5"/>
<circle cx="292.20" cy="175.90" r="1.6" fill="#7d1a2e" stroke="#111" stroke-width="0.5"/>
<circle cx="297.00" cy="173.70" r="1.6" fill="#7d1a2e" stroke="#111" stroke-width="0.5"/>
<circle cx="306.30" cy="168.60" r="1.6" fill="#7d1a2e" stroke="#111" stroke-width="0.5"/>
<circle cx="316.60" cy="161.10" r="1.6" fill="#7d1a2e" stroke="#111" stroke-width="0.5"/>
<circle cx="326.20" cy="155.10" r="1.6" fill="#7d1a2e" stroke="#111" stroke-width="0.5"/>
<circle cx="335.10" cy="148.50" r="1.6" fill="#7d1a2e" stroke="#111" stroke-width="0.5"/>
<circle cx="344.80" cy="144.50" r="1.6" fill="#7d1a2e" stroke="#111" stroke-width="0.5"/>
<path d="M253.30,169.30 h1.8 M254.20,168.40 v1.8 M253.55,168.65 l1.3,1.3 M253.55,169.95 l1.3,-1.3" stroke="#3a3a3a" stroke-width="0.55"/>
<path d="M258.10,172.80 h1.8 M259.00,171.90 v1.8 M258.35,172.15 l1.3,1.3 M258.35,173.45 l1.3,-1.3" stroke="#3a3a3a" stroke-width="0.55"/>
<path d="M261.80,172.40 h1.8 M262.70,171.50 v1.8 M262.05,171.75 l1.3,1.3 M262.05,173.05 l1.3,-1.3" stroke="#3a3a3a" stroke-width="0.55"/>
<path d="M268.10,169.00 h1.8 M269.00,168.10 v1.8 M268.35,168.35 l1.3,1.3 M268.35,169.65 l1.3,-1.3" stroke="#3a3a3a" stroke-width="0.55"/>
<path d="M271.50,169.00 h1.8 M272.40,168.10 v1.8 M271.75,168.35 l1.3,1.3 M271.75,169.65 l1.3,-1.3" stroke="#3a3a3a" stroke-width="0.55"/>
<path d="M276.40,166.40 h1.8 M277.30,165.50 v1.8 M276.65,165.75 l1.3,1.3 M276.65,167.05 l1.3,-1.3" stroke="#3a3a3a" stroke-width="0.55"/>
<path d="M282.10,164.00 h1.8 M283.00,163.10 v1.8 M282.35,163.35 l1.3,1.3 M282.35,164.65 l1.3,-1.3" stroke="#3a3a3a" stroke-width="0.55"/>
<path d="M286.10,160.00 h1.8 M287.00,159.10 v1.8 M286.35,159.35 l1.3,1.3 M286.35,160.65 l1.3,-1.3" stroke="#3a3a3a" stroke-width="0.55"/>
<path d="M291.40,159.20 h1.8 M292.30,158.30 v1.8 M291.65,158.55 l1.3,1.3 M291.65,159.85 l1.3,-1.3" stroke="#3a3a3a" stroke-width="0.55"/>
<path d="M296.20,155.10 h1.8 M297.10,154.20 v1.8 M296.45,154.45 l1.3,1.3 M296.45,155.75 l1.3,-1.3" stroke="#3a3a3a" stroke-width="0.55"/>
<path d="M304.90,150.90 h1.8 M305.80,150.00 v1.8 M305.15,150.25 l1.3,1.3 M305.15,151.55 l1.3,-1.3" stroke="#3a3a3a" stroke-width="0.55"/>
<path d="M315.50,140.40 h1.8 M316.40,139.50 v1.8 M315.75,139.75 l1.3,1.3 M315.75,141.05 l1.3,-1.3" stroke="#3a3a3a" stroke-width="0.55"/>
<path d="M325.60,136.10 h1.8 M326.50,135.20 v1.8 M325.85,135.45 l1.3,1.3 M325.85,136.75 l1.3,-1.3" stroke="#3a3a3a" stroke-width="0.55"/>
<line x1="254.3" y1="196.5" x2="254.3" y2="204.5" stroke="#4a4a4a" stroke-width="0.6" />
<line x1="252.7" y1="196.5" x2="255.9" y2="196.5" stroke="#4a4a4a" stroke-width="0.6" />
<line x1="252.7" y1="204.5" x2="255.9" y2="204.5" stroke="#4a4a4a" stroke-width="0.6" />
<line x1="316.6" y1="206" x2="316.6" y2="213.7" stroke="#4a4a4a" stroke-width="0.6" />
<line x1="315" y1="206" x2="318.2" y2="206" stroke="#4a4a4a" stroke-width="0.6" />
<line x1="315" y1="213.7" x2="318.2" y2="213.7" stroke="#4a4a4a" stroke-width="0.6" />
<line x1="344.8" y1="207.7" x2="344.8" y2="216.7" stroke="#4a4a4a" stroke-width="0.6" />
<line x1="343.2" y1="207.7" x2="346.4" y2="207.7" stroke="#4a4a4a" stroke-width="0.6" />
<line x1="343.2" y1="216.7" x2="346.4" y2="216.7" stroke="#4a4a4a" stroke-width="0.6" />
<circle cx="254.30" cy="198.30" r="1.6" fill="#1d3a52" stroke="#111" stroke-width="0.5"/>
<circle cx="254.30" cy="202.00" r="1.6" fill="#7d1a2e" stroke="#111" stroke-width="0.5"/>
<circle cx="258.80" cy="204.00" r="1.6" fill="#1d3a52" stroke="#111" stroke-width="0.5"/>
<circle cx="258.80" cy="208.30" r="1.6" fill="#7d1a2e" stroke="#111" stroke-width="0.5"/>
<circle cx="263.40" cy="205.00" r="1.6" fill="#1d3a52" stroke="#111" stroke-width="0.5"/>
<circle cx="263.40" cy="208.80" r="1.6" fill="#7d1a2e" stroke="#111" stroke-width="0.5"/>
<circle cx="268.80" cy="206.90" r="1.6" fill="#1d3a52" stroke="#111" stroke-width="0.5"/>
<circle cx="268.80" cy="208.80" r="1.6" fill="#7d1a2e" stroke="#111" stroke-width="0.5"/>
<circle cx="273.10" cy="208.40" r="1.6" fill="#1d3a52" stroke="#111" stroke-width="0.5"/>
<circle cx="273.10" cy="210.70" r="1.6" fill="#7d1a2e" stroke="#111" stroke-width="0.5"/>
<circle cx="277.50" cy="208.80" r="1.6" fill="#1d3a52" stroke="#111" stroke-width="0.5"/>
<circle cx="277.50" cy="210.50" r="1.6" fill="#7d1a2e" stroke="#111" stroke-width="0.5"/>
<circle cx="282.70" cy="207.20" r="1.6" fill="#1d3a52" stroke="#111" stroke-width="0.5"/>
<circle cx="282.70" cy="210.80" r="1.6" fill="#7d1a2e" stroke="#111" stroke-width="0.5"/>
<circle cx="287.60" cy="207.90" r="1.6" fill="#1d3a52" stroke="#111" stroke-width="0.5"/>
<circle cx="287.60" cy="210.30" r="1.6" fill="#7d1a2e" stroke="#111" stroke-width="0.5"/>
<circle cx="292.20" cy="208.60" r="1.6" fill="#1d3a52" stroke="#111" stroke-width="0.5"/>
<circle cx="292.20" cy="210.50" r="1.6" fill="#7d1a2e" stroke="#111" stroke-width="0.5"/>
<circle cx="297.00" cy="207.40" r="1.6" fill="#1d3a52" stroke="#111" stroke-width="0.5"/>
<circle cx="297.00" cy="210.50" r="1.6" fill="#7d1a2e" stroke="#111" stroke-width="0.5"/>
<circle cx="306.30" cy="207.60" r="1.6" fill="#1d3a52" stroke="#111" stroke-width="0.5"/>
<circle cx="306.30" cy="210.60" r="1.6" fill="#7d1a2e" stroke="#111" stroke-width="0.5"/>
<circle cx="316.60" cy="208.60" r="1.6" fill="#1d3a52" stroke="#111" stroke-width="0.5"/>
<circle cx="316.60" cy="211.20" r="1.6" fill="#7d1a2e" stroke="#111" stroke-width="0.5"/>
<circle cx="326.20" cy="209.40" r="1.6" fill="#1d3a52" stroke="#111" stroke-width="0.5"/>
<circle cx="326.20" cy="212.00" r="1.6" fill="#7d1a2e" stroke="#111" stroke-width="0.5"/>
<circle cx="335.10" cy="209.80" r="1.6" fill="#1d3a52" stroke="#111" stroke-width="0.5"/>
<circle cx="335.10" cy="212.30" r="1.6" fill="#7d1a2e" stroke="#111" stroke-width="0.5"/>
<circle cx="344.80" cy="210.20" r="1.6" fill="#1d3a52" stroke="#111" stroke-width="0.5"/>
<circle cx="344.80" cy="212.40" r="1.6" fill="#7d1a2e" stroke="#111" stroke-width="0.5"/>
<text x="260.8" y="234.2" font-size="7.09" text-anchor="middle" fill="#2a2a2a" stroke="#2a2a2a" stroke-width="0.25" textLength="7.01" lengthAdjust="spacingAndGlyphs">10</text>
<text x="265.4" y="231.2" font-size="4.34" text-anchor="middle" fill="#2a2a2a" stroke="#2a2a2a" stroke-width="0.25" textLength="2.15" lengthAdjust="spacingAndGlyphs">3</text>
<text x="347.6" y="234.2" font-size="7.09" text-anchor="middle" fill="#2a2a2a" stroke="#2a2a2a" stroke-width="0.25" textLength="7.01" lengthAdjust="spacingAndGlyphs">10</text>
<text x="352.2" y="231.2" font-size="4.34" text-anchor="middle" fill="#2a2a2a" stroke="#2a2a2a" stroke-width="0.25" textLength="2.15" lengthAdjust="spacingAndGlyphs">4</text>
<text x="284.6" y="246.1" font-size="8.6" fill="#262626" stroke="#262626" stroke-width="0.25" textLength="45.6" lengthAdjust="spacingAndGlyphs">Shear rate (s<tspan dy="-3" font-size="4.8">-1</tspan><tspan dy="3">)</tspan></text>
<text x="366.9" y="9.8" font-size="11.3" fill="#000" font-weight="bold">D</text>
<line x1="397.3" y1="16.5" x2="397.3" y2="90.2" stroke="#1a1a1a" stroke-width="1.0" />
<line x1="394.5" y1="90.2" x2="397.3" y2="90.2" stroke="#1a1a1a" stroke-width="0.8" />
<text x="391.3" y="92.4" font-size="7.09" text-anchor="end" fill="#2a2a2a" stroke="#2a2a2a" stroke-width="0.25" textLength="3.51" lengthAdjust="spacingAndGlyphs">0</text>
<line x1="394.5" y1="54.8" x2="397.3" y2="54.8" stroke="#1a1a1a" stroke-width="0.8" />
<text x="391.3" y="57" font-size="7.09" text-anchor="end" fill="#2a2a2a" stroke="#2a2a2a" stroke-width="0.25" textLength="8.77" lengthAdjust="spacingAndGlyphs">0.5</text>
<line x1="394.5" y1="19.4" x2="397.3" y2="19.4" stroke="#1a1a1a" stroke-width="0.8" />
<text x="391.3" y="21.6" font-size="7.09" text-anchor="end" fill="#2a2a2a" stroke="#2a2a2a" stroke-width="0.25" textLength="8.77" lengthAdjust="spacingAndGlyphs">1.0</text>
<line x1="395.7" y1="72.5" x2="397.3" y2="72.5" stroke="#1a1a1a" stroke-width="0.6" />
<line x1="395.7" y1="37.1" x2="397.3" y2="37.1" stroke="#1a1a1a" stroke-width="0.6" />
<line x1="397.3" y1="90.2" x2="495.8" y2="90.2" stroke="#1a1a1a" stroke-width="1.0" />
<line x1="396.9" y1="90.2" x2="396.9" y2="92.8" stroke="#1a1a1a" stroke-width="0.8" />
<text x="396.9" y="102.2" font-size="7.09" text-anchor="middle" fill="#2a2a2a" stroke="#2a2a2a" stroke-width="0.25" textLength="3.51" lengthAdjust="spacingAndGlyphs">0</text>
<line x1="421.1" y1="90.2" x2="421.1" y2="92.8" stroke="#1a1a1a" stroke-width="0.8" />
<text x="421.1" y="102.2" font-size="7.09" text-anchor="middle" fill="#2a2a2a" stroke="#2a2a2a" stroke-width="0.25" textLength="8.77" lengthAdjust="spacingAndGlyphs">0.5</text>
<line x1="445.3" y1="90.2" x2="445.3" y2="92.8" stroke="#1a1a1a" stroke-width="0.8" />
<text x="445.3" y="102.2" font-size="7.09" text-anchor="middle" fill="#2a2a2a" stroke="#2a2a2a" stroke-width="0.25" textLength="8.77" lengthAdjust="spacingAndGlyphs">1.0</text>
<line x1="469.5" y1="90.2" x2="469.5" y2="92.8" stroke="#1a1a1a" stroke-width="0.8" />
<text x="469.5" y="102.2" font-size="7.09" text-anchor="middle" fill="#2a2a2a" stroke="#2a2a2a" stroke-width="0.25" textLength="8.77" lengthAdjust="spacingAndGlyphs">1.5</text>
<line x1="493.7" y1="90.2" x2="493.7" y2="92.8" stroke="#1a1a1a" stroke-width="0.8" />
<text x="493.7" y="102.2" font-size="7.09" text-anchor="middle" fill="#2a2a2a" stroke="#2a2a2a" stroke-width="0.25" textLength="8.77" lengthAdjust="spacingAndGlyphs">2.0</text>
<line x1="409" y1="90.2" x2="409" y2="91.8" stroke="#1a1a1a" stroke-width="0.6" />
<line x1="433.2" y1="90.2" x2="433.2" y2="91.8" stroke="#1a1a1a" stroke-width="0.6" />
<line x1="457.4" y1="90.2" x2="457.4" y2="91.8" stroke="#1a1a1a" stroke-width="0.6" />
<line x1="481.6" y1="90.2" x2="481.6" y2="91.8" stroke="#1a1a1a" stroke-width="0.6" />
<text x="447.9" y="114" font-size="8.6" text-anchor="middle" fill="#262626" stroke="#262626" stroke-width="0.25" textLength="42" lengthAdjust="spacingAndGlyphs">Pause time (s)</text>
<text x="377.2" y="52.6" font-size="8.6" text-anchor="middle" fill="#262626" stroke="#262626" stroke-width="0.25" textLength="48.7" lengthAdjust="spacingAndGlyphs" transform="rotate(-90 377.2 52.6)">Survival fraction</text>
<polyline points="396.90,19.40 398.13,22.46 399.35,25.18 400.58,27.59 401.80,29.74 403.03,31.68 404.25,33.42 405.48,35.00 406.70,36.45 407.93,37.77 409.15,38.99 410.38,40.12 411.60,41.17 412.83,42.16 414.05,43.09 415.28,43.97 416.51,44.80 417.73,45.59 418.96,46.35 420.18,47.08 421.41,47.79 422.63,48.46 423.86,49.12 425.08,49.76 426.31,50.38 427.53,50.98 428.76,51.57 429.98,52.14 431.21,52.71 432.43,53.26 433.66,53.80 434.88,54.32 436.11,54.84 437.34,55.35 438.56,55.85 439.79,56.35 441.01,56.83 442.24,57.31 443.46,57.77 444.69,58.23 445.91,58.69 447.14,59.14 448.36,59.58 449.59,60.01 450.81,60.44 452.04,60.86 453.26,61.27 454.49,61.68 455.72,62.08 456.94,62.48 458.17,62.87 459.39,63.26 460.62,63.64 461.84,64.01 463.07,64.38 464.29,64.74 465.52,65.10 466.74,65.46 467.97,65.81 469.19,66.15 470.42,66.49 471.64,66.82 472.87,67.15 474.09,67.48 475.32,67.80 476.55,68.11 477.77,68.42 479.00,68.73 480.22,69.03 481.45,69.33 482.67,69.62 483.90,69.91 485.12,70.20 486.35,70.48 487.57,70.76 488.80,71.03 490.02,71.30 491.25,71.57 492.47,71.83 493.70,72.09" fill="none" stroke="#c23a4e" stroke-width="0.8" stroke-linejoin="round" stroke-linecap="round" />
<polyline points="396.90,19.40 398.13,24.02 399.35,28.08 400.58,31.67 401.80,34.84 403.03,37.65 404.25,40.16 405.48,42.40 406.70,44.41 407.93,46.22 409.15,47.85 410.38,49.34 411.60,50.69 412.83,51.94 414.05,53.08 415.28,54.14 416.51,55.12 417.73,56.03 418.96,56.89 420.18,57.70 421.41,58.46 422.63,59.18 423.86,59.86 425.08,60.52 426.31,61.14 427.53,61.74 428.76,62.32 429.98,62.87 431.21,63.41 432.43,63.93 433.66,64.43 434.88,64.92 436.11,65.39 437.34,65.86 438.56,66.31 439.79,66.75 441.01,67.17 442.24,67.59 443.46,68.00 444.69,68.40 445.91,68.80 447.14,69.18 448.36,69.55 449.59,69.92 450.81,70.28 452.04,70.64 453.26,70.99 454.49,71.33 455.72,71.66 456.94,71.99 458.17,72.31 459.39,72.63 460.62,72.94 461.84,73.24 463.07,73.54 464.29,73.83 465.52,74.12 466.74,74.40 467.97,74.68 469.19,74.95 470.42,75.22 471.64,75.49 472.87,75.74 474.09,76.00 475.32,76.25 476.55,76.49 477.77,76.73 479.00,76.97 480.22,77.20 481.45,77.43 482.67,77.66 483.90,77.88 485.12,78.09 486.35,78.31 487.57,78.51 488.80,78.72 490.02,78.92 491.25,79.12 492.47,79.31 493.70,79.50" fill="none" stroke="#3d7ca0" stroke-width="0.8" stroke-linejoin="round" stroke-linecap="round" />
<polyline points="396.90,19.40 398.13,23.47 399.35,27.24 400.58,30.72 401.80,33.95 403.03,36.94 404.25,39.71 405.48,42.28 406.70,44.66 407.93,46.88 409.15,48.95 410.38,50.87 411.60,52.66 412.83,54.34 414.05,55.90 415.28,57.36 416.51,58.73 417.73,60.01 418.96,61.21 420.18,62.34 421.41,63.40 422.63,64.40 423.86,65.34 425.08,66.22 426.31,67.06 427.53,67.86 428.76,68.61 429.98,69.32 431.21,69.99 432.43,70.64 433.66,71.25 434.88,71.83 436.11,72.38 437.34,72.91 438.56,73.41 439.79,73.90 441.01,74.36 442.24,74.80 443.46,75.23 444.69,75.63 445.91,76.03 447.14,76.40 448.36,76.77 449.59,77.12 450.81,77.45 452.04,77.78 453.26,78.09 454.49,78.40 455.72,78.69 456.94,78.97 458.17,79.25 459.39,79.52 460.62,79.77 461.84,80.03 463.07,80.27 464.29,80.50 465.52,80.73 466.74,80.96 467.97,81.17 469.19,81.38 470.42,81.59 471.64,81.79 472.87,81.98 474.09,82.17 475.32,82.35 476.55,82.53 477.77,82.71 479.00,82.88 480.22,83.04 481.45,83.20 482.67,83.36 483.90,83.52 485.12,83.67 486.35,83.81 487.57,83.96 488.80,84.09 490.02,84.23 491.25,84.36 492.47,84.49 493.70,84.62" fill="none" stroke="#c23a4e" stroke-width="0.8" stroke-linejoin="round" stroke-linecap="round" />
<polyline points="396.90,19.40 398.13,27.68 399.35,34.69 400.58,40.63 401.80,45.68 403.03,49.99 404.25,53.68 405.48,56.85 406.70,59.59 407.93,61.96 409.15,64.03 410.38,65.84 411.60,67.43 412.83,68.85 414.05,70.10 415.28,71.23 416.51,72.24 417.73,73.16 418.96,73.99 420.18,74.75 421.41,75.46 422.63,76.11 423.86,76.71 425.08,77.27 426.31,77.80 427.53,78.29 428.76,78.76 429.98,79.20 431.21,79.62 432.43,80.02 433.66,80.39 434.88,80.75 436.11,81.10 437.34,81.43 438.56,81.74 439.79,82.05 441.01,82.34 442.24,82.61 443.46,82.88 444.69,83.14 445.91,83.39 447.14,83.63 448.36,83.85 449.59,84.08 450.81,84.29 452.04,84.49 453.26,84.69 454.49,84.88 455.72,85.07 456.94,85.25 458.17,85.42 459.39,85.58 460.62,85.74 461.84,85.90 463.07,86.05 464.29,86.19 465.52,86.33 466.74,86.46 467.97,86.59 469.19,86.72 470.42,86.84 471.64,86.95 472.87,87.06 474.09,87.17 475.32,87.28 476.55,87.38 477.77,87.48 479.00,87.57 480.22,87.66 481.45,87.75 482.67,87.83 483.90,87.91 485.12,87.99 486.35,88.07 487.57,88.14 488.80,88.21 490.02,88.28 491.25,88.35 492.47,88.41 493.70,88.47" fill="none" stroke="#3d7ca0" stroke-width="0.8" stroke-linejoin="round" stroke-linecap="round" />
<rect x="395.55" y="18.05" width="2.70" height="2.70" fill="#1d3a52" stroke="#111" stroke-width="0.5"/>
<rect x="401.36" y="47.58" width="2.70" height="2.70" fill="#1d3a52" stroke="#111" stroke-width="0.5"/>
<rect x="405.26" y="58.04" width="2.70" height="2.70" fill="#1d3a52" stroke="#111" stroke-width="0.5"/>
<rect x="409.16" y="64.67" width="2.70" height="2.70" fill="#1d3a52" stroke="#111" stroke-width="0.5"/>
<rect x="413.06" y="69.09" width="2.70" height="2.70" fill="#1d3a52" stroke="#111" stroke-width="0.5"/>
<rect x="416.96" y="72.21" width="2.70" height="2.70" fill="#1d3a52" stroke="#111" stroke-width="0.5"/>
<rect x="420.86" y="74.54" width="2.70" height="2.70" fill="#1d3a52" stroke="#111" stroke-width="0.5"/>
<rect x="424.76" y="76.37" width="2.70" height="2.70" fill="#1d3a52" stroke="#111" stroke-width="0.5"/>
<rect x="428.67" y="77.86" width="2.70" height="2.70" fill="#1d3a52" stroke="#111" stroke-width="0.5"/>
<rect x="432.57" y="79.12" width="2.70" height="2.70" fill="#1d3a52" stroke="#111" stroke-width="0.5"/>
<rect x="436.47" y="80.20" width="2.70" height="2.70" fill="#1d3a52" stroke="#111" stroke-width="0.5"/>
<rect x="440.37" y="81.15" width="2.70" height="2.70" fill="#1d3a52" stroke="#111" stroke-width="0.5"/>
<rect x="444.27" y="81.98" width="2.70" height="2.70" fill="#1d3a52" stroke="#111" stroke-width="0.5"/>
<rect x="448.17" y="82.71" width="2.70" height="2.70" fill="#1d3a52" stroke="#111" stroke-width="0.5"/>
<rect x="452.07" y="83.37" width="2.70" height="2.70" fill="#1d3a52" stroke="#111" stroke-width="0.5"/>
<rect x="455.97" y="83.95" width="2.70" height="2.70" fill="#1d3a52" stroke="#111" stroke-width="0.5"/>
<rect x="459.87" y="84.47" width="2.70" height="2.70" fill="#1d3a52" stroke="#111" stroke-width="0.5"/>
<rect x="463.77" y="84.93" width="2.70" height="2.70" fill="#1d3a52" stroke="#111" stroke-width="0.5"/>
<rect x="467.68" y="85.35" width="2.70" height="2.70" fill="#1d3a52" stroke="#111" stroke-width="0.5"/>
<rect x="471.58" y="85.72" width="2.70" height="2.70" fill="#1d3a52" stroke="#111" stroke-width="0.5"/>
<rect x="475.48" y="86.05" width="2.70" height="2.70" fill="#1d3a52" stroke="#111" stroke-width="0.5"/>
<rect x="479.38" y="86.35" width="2.70" height="2.70" fill="#1d3a52" stroke="#111" stroke-width="0.5"/>
<rect x="483.28" y="86.61" width="2.70" height="2.70" fill="#1d3a52" stroke="#111" stroke-width="0.5"/>
<rect x="487.18" y="86.85" width="2.70" height="2.70" fill="#1d3a52" stroke="#111" stroke-width="0.5"/>
<rect x="491.08" y="87.06" width="2.70" height="2.70" fill="#1d3a52" stroke="#111" stroke-width="0.5"/>
<rect x="395.55" y="18.05" width="2.70" height="2.70" fill="#7d1a2e" stroke="#111" stroke-width="0.5"/>
<rect x="401.36" y="34.83" width="2.70" height="2.70" fill="#7d1a2e" stroke="#111" stroke-width="0.5"/>
<rect x="405.26" y="43.14" width="2.70" height="2.70" fill="#7d1a2e" stroke="#111" stroke-width="0.5"/>
<rect x="409.16" y="49.72" width="2.70" height="2.70" fill="#7d1a2e" stroke="#111" stroke-width="0.5"/>
<rect x="413.06" y="54.98" width="2.70" height="2.70" fill="#7d1a2e" stroke="#111" stroke-width="0.5"/>
<rect x="416.96" y="59.24" width="2.70" height="2.70" fill="#7d1a2e" stroke="#111" stroke-width="0.5"/>
<rect x="420.86" y="62.71" width="2.70" height="2.70" fill="#7d1a2e" stroke="#111" stroke-width="0.5"/>
<rect x="424.76" y="65.58" width="2.70" height="2.70" fill="#7d1a2e" stroke="#111" stroke-width="0.5"/>
<rect x="428.67" y="67.99" width="2.70" height="2.70" fill="#7d1a2e" stroke="#111" stroke-width="0.5"/>
<rect x="432.57" y="70.02" width="2.70" height="2.70" fill="#7d1a2e" stroke="#111" stroke-width="0.5"/>
<rect x="436.47" y="71.76" width="2.70" height="2.70" fill="#7d1a2e" stroke="#111" stroke-width="0.5"/>
<rect x="440.37" y="73.27" width="2.70" height="2.70" fill="#7d1a2e" stroke="#111" stroke-width="0.5"/>
<rect x="444.27" y="74.58" width="2.70" height="2.70" fill="#7d1a2e" stroke="#111" stroke-width="0.5"/>
<rect x="448.17" y="75.75" width="2.70" height="2.70" fill="#7d1a2e" stroke="#111" stroke-width="0.5"/>
<rect x="452.07" y="76.78" width="2.70" height="2.70" fill="#7d1a2e" stroke="#111" stroke-width="0.5"/>
<rect x="455.97" y="77.71" width="2.70" height="2.70" fill="#7d1a2e" stroke="#111" stroke-width="0.5"/>
<rect x="459.87" y="78.55" width="2.70" height="2.70" fill="#7d1a2e" stroke="#111" stroke-width="0.5"/>
<rect x="463.77" y="79.31" width="2.70" height="2.70" fill="#7d1a2e" stroke="#111" stroke-width="0.5"/>
<rect x="467.68" y="80.00" width="2.70" height="2.70" fill="#7d1a2e" stroke="#111" stroke-width="0.5"/>
<rect x="471.58" y="80.64" width="2.70" height="2.70" fill="#7d1a2e" stroke="#111" stroke-width="0.5"/>
<rect x="475.48" y="81.22" width="2.70" height="2.70" fill="#7d1a2e" stroke="#111" stroke-width="0.5"/>
<rect x="479.38" y="81.76" width="2.70" height="2.70" fill="#7d1a2e" stroke="#111" stroke-width="0.5"/>
<rect x="483.28" y="82.26" width="2.70" height="2.70" fill="#7d1a2e" stroke="#111" stroke-width="0.5"/>
<rect x="487.18" y="82.71" width="2.70" height="2.70" fill="#7d1a2e" stroke="#111" stroke-width="0.5"/>
<rect x="491.08" y="83.14" width="2.70" height="2.70" fill="#7d1a2e" stroke="#111" stroke-width="0.5"/>
<circle cx="396.90" cy="19.40" r="1.5" fill="#1d3a52" stroke="#111" stroke-width="0.5"/>
<circle cx="402.71" cy="36.95" r="1.5" fill="#1d3a52" stroke="#111" stroke-width="0.5"/>
<circle cx="406.61" cy="44.26" r="1.5" fill="#1d3a52" stroke="#111" stroke-width="0.5"/>
<circle cx="410.51" cy="49.49" r="1.5" fill="#1d3a52" stroke="#111" stroke-width="0.5"/>
<circle cx="414.41" cy="53.40" r="1.5" fill="#1d3a52" stroke="#111" stroke-width="0.5"/>
<circle cx="418.31" cy="56.45" r="1.5" fill="#1d3a52" stroke="#111" stroke-width="0.5"/>
<circle cx="422.21" cy="58.94" r="1.5" fill="#1d3a52" stroke="#111" stroke-width="0.5"/>
<circle cx="426.11" cy="61.05" r="1.5" fill="#1d3a52" stroke="#111" stroke-width="0.5"/>
<circle cx="430.02" cy="62.89" r="1.5" fill="#1d3a52" stroke="#111" stroke-width="0.5"/>
<circle cx="433.92" cy="64.54" r="1.5" fill="#1d3a52" stroke="#111" stroke-width="0.5"/>
<circle cx="437.82" cy="66.04" r="1.5" fill="#1d3a52" stroke="#111" stroke-width="0.5"/>
<circle cx="441.72" cy="67.42" r="1.5" fill="#1d3a52" stroke="#111" stroke-width="0.5"/>
<circle cx="445.62" cy="68.70" r="1.5" fill="#1d3a52" stroke="#111" stroke-width="0.5"/>
<circle cx="449.52" cy="69.90" r="1.5" fill="#1d3a52" stroke="#111" stroke-width="0.5"/>
<circle cx="453.42" cy="71.03" r="1.5" fill="#1d3a52" stroke="#111" stroke-width="0.5"/>
<circle cx="457.32" cy="72.09" r="1.5" fill="#1d3a52" stroke="#111" stroke-width="0.5"/>
<circle cx="461.22" cy="73.09" r="1.5" fill="#1d3a52" stroke="#111" stroke-width="0.5"/>
<circle cx="465.12" cy="74.03" r="1.5" fill="#1d3a52" stroke="#111" stroke-width="0.5"/>
<circle cx="469.03" cy="74.92" r="1.5" fill="#1d3a52" stroke="#111" stroke-width="0.5"/>
<circle cx="472.93" cy="75.76" r="1.5" fill="#1d3a52" stroke="#111" stroke-width="0.5"/>
<circle cx="476.83" cy="76.55" r="1.5" fill="#1d3a52" stroke="#111" stroke-width="0.5"/>
<circle cx="480.73" cy="77.30" r="1.5" fill="#1d3a52" stroke="#111" stroke-width="0.5"/>
<circle cx="484.63" cy="78.01" r="1.5" fill="#1d3a52" stroke="#111" stroke-width="0.5"/>
<circle cx="488.53" cy="78.67" r="1.5" fill="#1d3a52" stroke="#111" stroke-width="0.5"/>
<circle cx="492.43" cy="79.31" r="1.5" fill="#1d3a52" stroke="#111" stroke-width="0.5"/>
<circle cx="396.90" cy="19.40" r="1.5" fill="#7d1a2e" stroke="#111" stroke-width="0.5"/>
<circle cx="402.71" cy="31.19" r="1.5" fill="#7d1a2e" stroke="#111" stroke-width="0.5"/>
<circle cx="406.61" cy="36.34" r="1.5" fill="#7d1a2e" stroke="#111" stroke-width="0.5"/>
<circle cx="410.51" cy="40.24" r="1.5" fill="#7d1a2e" stroke="#111" stroke-width="0.5"/>
<circle cx="414.41" cy="43.35" r="1.5" fill="#7d1a2e" stroke="#111" stroke-width="0.5"/>
<circle cx="418.31" cy="45.96" r="1.5" fill="#7d1a2e" stroke="#111" stroke-width="0.5"/>
<circle cx="422.21" cy="48.24" r="1.5" fill="#7d1a2e" stroke="#111" stroke-width="0.5"/>
<circle cx="426.11" cy="50.28" r="1.5" fill="#7d1a2e" stroke="#111" stroke-width="0.5"/>
<circle cx="430.02" cy="52.16" r="1.5" fill="#7d1a2e" stroke="#111" stroke-width="0.5"/>
<circle cx="433.92" cy="53.91" r="1.5" fill="#7d1a2e" stroke="#111" stroke-width="0.5"/>
<circle cx="437.82" cy="55.55" r="1.5" fill="#7d1a2e" stroke="#111" stroke-width="0.5"/>
<circle cx="441.72" cy="57.10" r="1.5" fill="#7d1a2e" stroke="#111" stroke-width="0.5"/>
<circle cx="445.62" cy="58.58" r="1.5" fill="#7d1a2e" stroke="#111" stroke-width="0.5"/>
<circle cx="449.52" cy="59.99" r="1.5" fill="#7d1a2e" stroke="#111" stroke-width="0.5"/>
<circle cx="453.42" cy="61.32" r="1.5" fill="#7d1a2e" stroke="#111" stroke-width="0.5"/>
<circle cx="457.32" cy="62.60" r="1.5" fill="#7d1a2e" stroke="#111" stroke-width="0.5"/>
<circle cx="461.22" cy="63.82" r="1.5" fill="#7d1a2e" stroke="#111" stroke-width="0.5"/>
<circle cx="465.12" cy="64.99" r="1.5" fill="#7d1a2e" stroke="#111" stroke-width="0.5"/>
<circle cx="469.03" cy="66.10" r="1.5" fill="#7d1a2e" stroke="#111" stroke-width="0.5"/>
<circle cx="472.93" cy="67.17" r="1.5" fill="#7d1a2e" stroke="#111" stroke-width="0.5"/>
<circle cx="476.83" cy="68.18" r="1.5" fill="#7d1a2e" stroke="#111" stroke-width="0.5"/>
<circle cx="480.73" cy="69.16" r="1.5" fill="#7d1a2e" stroke="#111" stroke-width="0.5"/>
<circle cx="484.63" cy="70.08" r="1.5" fill="#7d1a2e" stroke="#111" stroke-width="0.5"/>
<circle cx="488.53" cy="70.97" r="1.5" fill="#7d1a2e" stroke="#111" stroke-width="0.5"/>
<circle cx="492.43" cy="71.82" r="1.5" fill="#7d1a2e" stroke="#111" stroke-width="0.5"/>
<circle cx="458.20" cy="36.50" r="1.5" fill="#1d3a52" stroke="#111" stroke-width="0.5"/>
<circle cx="464.40" cy="36.50" r="1.5" fill="#7d1a2e" stroke="#111" stroke-width="0.5"/>
<rect x="456.85" y="44.75" width="2.70" height="2.70" fill="#1d3a52" stroke="#111" stroke-width="0.5"/>
<rect x="463.05" y="44.75" width="2.70" height="2.70" fill="#7d1a2e" stroke="#111" stroke-width="0.5"/>
<text x="468.8" y="38.5" font-size="6.2" fill="#2b2b2b" stroke="#2b2b2b" stroke-width="0.12" textLength="18.2" lengthAdjust="spacingAndGlyphs">1500 s</text>
<text x="487.6" y="35.6" font-size="3.6" fill="#555" stroke="#555" stroke-width="0.12" textLength="3.4" lengthAdjust="spacingAndGlyphs">-1</text>
<text x="468.8" y="48.3" font-size="6.2" fill="#2b2b2b" stroke="#2b2b2b" stroke-width="0.12" textLength="18.2" lengthAdjust="spacingAndGlyphs">9000 s</text>
<text x="487.6" y="45.4" font-size="3.6" fill="#555" stroke="#555" stroke-width="0.12" textLength="3.4" lengthAdjust="spacingAndGlyphs">-1</text>
<text x="368" y="126.8" font-size="11.3" fill="#000" font-weight="bold">E</text>
<line x1="397.1" y1="121.5" x2="397.1" y2="222.2" stroke="#1a1a1a" stroke-width="1.0" />
<line x1="394.3" y1="124.5" x2="397.1" y2="124.5" stroke="#1a1a1a" stroke-width="0.8" />
<text x="391.3" y="126.7" font-size="7.09" text-anchor="end" fill="#2a2a2a" stroke="#2a2a2a" stroke-width="0.25" textLength="7.01" lengthAdjust="spacingAndGlyphs">10</text>
<line x1="394.3" y1="181.5" x2="397.1" y2="181.5" stroke="#1a1a1a" stroke-width="0.8" />
<text x="391.3" y="183.7" font-size="7.09" text-anchor="end" fill="#2a2a2a" stroke="#2a2a2a" stroke-width="0.25" textLength="3.51" lengthAdjust="spacingAndGlyphs">1</text>
<line x1="394.3" y1="222" x2="397.1" y2="222" stroke="#1a1a1a" stroke-width="0.8" />
<text x="391.3" y="224.2" font-size="7.09" text-anchor="end" fill="#2a2a2a" stroke="#2a2a2a" stroke-width="0.25" textLength="3.51" lengthAdjust="spacingAndGlyphs">0</text>
<line x1="395.5" y1="164.43" x2="397.1" y2="164.43" stroke="#1a1a1a" stroke-width="0.6" />
<line x1="395.5" y1="154.45" x2="397.1" y2="154.45" stroke="#1a1a1a" stroke-width="0.6" />
<line x1="395.5" y1="147.36" x2="397.1" y2="147.36" stroke="#1a1a1a" stroke-width="0.6" />
<line x1="395.5" y1="141.87" x2="397.1" y2="141.87" stroke="#1a1a1a" stroke-width="0.6" />
<line x1="395.5" y1="137.38" x2="397.1" y2="137.38" stroke="#1a1a1a" stroke-width="0.6" />
<line x1="395.5" y1="133.58" x2="397.1" y2="133.58" stroke="#1a1a1a" stroke-width="0.6" />
<line x1="395.5" y1="130.29" x2="397.1" y2="130.29" stroke="#1a1a1a" stroke-width="0.6" />
<line x1="395.5" y1="127.39" x2="397.1" y2="127.39" stroke="#1a1a1a" stroke-width="0.6" />
<line x1="395.5" y1="209.81" x2="397.1" y2="209.81" stroke="#1a1a1a" stroke-width="0.6" />
<line x1="395.5" y1="202.68" x2="397.1" y2="202.68" stroke="#1a1a1a" stroke-width="0.6" />
<line x1="395.5" y1="197.62" x2="397.1" y2="197.62" stroke="#1a1a1a" stroke-width="0.6" />
<line x1="395.5" y1="193.69" x2="397.1" y2="193.69" stroke="#1a1a1a" stroke-width="0.6" />
<line x1="395.5" y1="190.48" x2="397.1" y2="190.48" stroke="#1a1a1a" stroke-width="0.6" />
<line x1="395.5" y1="187.77" x2="397.1" y2="187.77" stroke="#1a1a1a" stroke-width="0.6" />
<line x1="395.5" y1="185.42" x2="397.1" y2="185.42" stroke="#1a1a1a" stroke-width="0.6" />
<line x1="395.5" y1="183.35" x2="397.1" y2="183.35" stroke="#1a1a1a" stroke-width="0.6" />
<line x1="397.1" y1="222.2" x2="496.2" y2="222.2" stroke="#1a1a1a" stroke-width="1.0" />
<line x1="401.89" y1="222.2" x2="401.89" y2="223.7" stroke="#1a1a1a" stroke-width="0.6" />
<line x1="406.17" y1="222.2" x2="406.17" y2="223.7" stroke="#1a1a1a" stroke-width="0.6" />
<line x1="410" y1="222.2" x2="410" y2="224.7" stroke="#1a1a1a" stroke-width="0.6" />
<line x1="435.2" y1="222.2" x2="435.2" y2="223.7" stroke="#1a1a1a" stroke-width="0.6" />
<line x1="449.94" y1="222.2" x2="449.94" y2="223.7" stroke="#1a1a1a" stroke-width="0.6" />
<line x1="460.39" y1="222.2" x2="460.39" y2="223.7" stroke="#1a1a1a" stroke-width="0.6" />
<line x1="468.5" y1="222.2" x2="468.5" y2="223.7" stroke="#1a1a1a" stroke-width="0.6" />
<line x1="475.13" y1="222.2" x2="475.13" y2="223.7" stroke="#1a1a1a" stroke-width="0.6" />
<line x1="480.73" y1="222.2" x2="480.73" y2="223.7" stroke="#1a1a1a" stroke-width="0.6" />
<line x1="485.59" y1="222.2" x2="485.59" y2="223.7" stroke="#1a1a1a" stroke-width="0.6" />
<line x1="489.87" y1="222.2" x2="489.87" y2="223.7" stroke="#1a1a1a" stroke-width="0.6" />
<line x1="493.7" y1="222.2" x2="493.7" y2="224.7" stroke="#1a1a1a" stroke-width="0.6" />
<text x="408" y="234" font-size="7.09" text-anchor="middle" fill="#2a2a2a" stroke="#2a2a2a" stroke-width="0.25" textLength="7.01" lengthAdjust="spacingAndGlyphs">10</text>
<text x="412.6" y="231" font-size="4.34" text-anchor="middle" fill="#2a2a2a" stroke="#2a2a2a" stroke-width="0.25" textLength="2.15" lengthAdjust="spacingAndGlyphs">3</text>
<text x="491.7" y="234" font-size="7.09" text-anchor="middle" fill="#2a2a2a" stroke="#2a2a2a" stroke-width="0.25" textLength="7.01" lengthAdjust="spacingAndGlyphs">10</text>
<text x="496.3" y="231" font-size="4.34" text-anchor="middle" fill="#2a2a2a" stroke="#2a2a2a" stroke-width="0.25" textLength="2.15" lengthAdjust="spacingAndGlyphs">4</text>
<text x="424.6" y="245.8" font-size="8.6" fill="#262626" stroke="#262626" stroke-width="0.25" textLength="45.6" lengthAdjust="spacingAndGlyphs">Shear rate (s<tspan dy="-3" font-size="4.8">-1</tspan><tspan dy="3">)</tspan></text>
<text x="370" y="170" font-size="8.6" text-anchor="middle" fill="#262626" stroke="#262626" stroke-width="0.25" textLength="52.2" lengthAdjust="spacingAndGlyphs" transform="rotate(-90 370 170)">Dissociation rate</text>
<text x="379.2" y="170.2" font-size="8.6" text-anchor="middle" fill="#262626" stroke="#262626" stroke-width="0.25" textLength="43" lengthAdjust="spacingAndGlyphs" transform="rotate(-90 379.2 170.2)">constant (s<tspan dy="-2.6" font-size="4.8">-1</tspan><tspan dy="2.6">)</tspan></text>
<polyline points="401.50,152.30 403.00,152.26 404.50,152.22 406.00,152.17 407.50,152.11 409.00,152.05 410.50,151.99 412.00,151.92 413.50,151.85 415.00,151.77 416.50,151.69 418.00,151.61 419.50,151.53 421.00,151.44 422.50,151.36 424.00,151.27 425.50,151.17 427.00,151.07 428.50,150.97 430.00,150.85 431.50,150.73 433.00,150.60 434.50,150.45 436.00,150.29 437.50,150.12 439.00,149.93 440.50,149.73 442.00,149.43 443.50,149.05 445.00,148.58 446.50,148.05 448.00,147.47 449.50,146.85 451.00,146.20 452.50,145.54 454.00,144.88 455.50,144.23 457.00,143.61 458.50,143.03 460.00,142.50 461.50,142.00 463.00,141.51 464.50,141.03 466.00,140.54 467.50,140.06 469.00,139.59 470.50,139.12 472.00,138.65 473.50,138.19 475.00,137.74 476.50,137.29 478.00,136.84 479.50,136.40 481.00,135.97 482.50,135.54 484.00,135.12 485.50,134.71 487.00,134.30 488.50,133.89 490.00,133.50" fill="none" stroke="#3d7ca0" stroke-width="0.8" stroke-linejoin="round" stroke-linecap="round" />
<polyline points="401.50,161.50 403.00,161.41 404.50,161.31 406.00,161.20 407.50,161.08 409.00,160.95 410.50,160.81 412.00,160.67 413.50,160.52 415.00,160.36 416.50,160.20 418.00,160.03 419.50,159.86 421.00,159.68 422.50,159.48 424.00,159.27 425.50,159.05 427.00,158.81 428.50,158.56 430.00,158.31 431.50,158.05 433.00,157.78 434.50,157.51 436.00,157.23 437.50,156.96 439.00,156.68 440.50,156.41 442.00,156.12 443.50,155.80 445.00,155.47 446.50,155.13 448.00,154.78 449.50,154.44 451.00,154.10 452.50,153.77 454.00,153.46 455.50,153.17 457.00,152.91 458.50,152.69 460.00,152.50 461.50,152.33 463.00,152.17 464.50,152.01 466.00,151.85 467.50,151.69 469.00,151.54 470.50,151.39 472.00,151.25 473.50,151.11 475.00,150.98 476.50,150.87 478.00,150.76 479.50,150.66 481.00,150.57 482.50,150.49 484.00,150.42 485.50,150.37 487.00,150.33 488.50,150.31 490.00,150.30" fill="none" stroke="#c23a4e" stroke-width="0.8" stroke-linejoin="round" stroke-linecap="round" />
<polyline points="401.50,198.50 403.00,198.29 404.50,198.09 406.00,197.87 407.50,197.66 409.00,197.45 410.50,197.23 412.00,197.01 413.50,196.79 415.00,196.56 416.50,196.34 418.00,196.11 419.50,195.88 421.00,195.65 422.50,195.43 424.00,195.22 425.50,195.01 427.00,194.80 428.50,194.59 430.00,194.37 431.50,194.14 433.00,193.90 434.50,193.64 436.00,193.36 437.50,193.06 439.00,192.73 440.50,192.37 442.00,191.94 443.50,191.42 445.00,190.84 446.50,190.19 448.00,189.50 449.50,188.77 451.00,188.01 452.50,187.24 454.00,186.46 455.50,185.69 457.00,184.93 458.50,184.20 460.00,183.50 461.50,182.82 463.00,182.15 464.50,181.47 466.00,180.80 467.50,180.12 469.00,179.45 470.50,178.78 472.00,178.10 473.50,177.43 475.00,176.75 476.50,176.07 478.00,175.40 479.50,174.72 481.00,174.05 482.50,173.38 484.00,172.70 485.50,172.03 487.00,171.35 488.50,170.68 490.00,170.00" fill="none" stroke="#3d7ca0" stroke-width="0.8" stroke-linejoin="round" stroke-linecap="round" />
<polyline points="401.50,206.50 403.00,206.48 404.50,206.42 406.00,206.33 407.50,206.21 409.00,206.06 410.50,205.89 412.00,205.71 413.50,205.50 415.00,205.28 416.50,205.06 418.00,204.82 419.50,204.58 421.00,204.33 422.50,204.02 424.00,203.67 425.50,203.27 427.00,202.83 428.50,202.36 430.00,201.85 431.50,201.32 433.00,200.76 434.50,200.19 436.00,199.60 437.50,199.00 439.00,198.40 440.50,197.79 442.00,197.13 443.50,196.40 445.00,195.62 446.50,194.79 448.00,193.94 449.50,193.07 451.00,192.20 452.50,191.33 454.00,190.48 455.50,189.66 457.00,188.88 458.50,188.16 460.00,187.50 461.50,186.88 463.00,186.27 464.50,185.67 466.00,185.08 467.50,184.50 469.00,183.93 470.50,183.37 472.00,182.82 473.50,182.29 475.00,181.77 476.50,181.26 478.00,180.77 479.50,180.30 481.00,179.84 482.50,179.40 484.00,178.98 485.50,178.58 487.00,178.20 488.50,177.84 490.00,177.50" fill="none" stroke="#c23a4e" stroke-width="0.8" stroke-linejoin="round" stroke-linecap="round" />
<line x1="401.5" y1="150.2" x2="401.5" y2="156.2" stroke="#4a5058" stroke-width="0.6" />
<line x1="399.9" y1="150.2" x2="403.1" y2="150.2" stroke="#4a5058" stroke-width="0.6" />
<line x1="399.9" y1="156.2" x2="403.1" y2="156.2" stroke="#4a5058" stroke-width="0.6" />
<line x1="401.5" y1="157.9" x2="401.5" y2="161.9" stroke="#4a4a4a" stroke-width="0.6" />
<line x1="399.9" y1="157.9" x2="403.1" y2="157.9" stroke="#4a4a4a" stroke-width="0.6" />
<line x1="399.9" y1="161.9" x2="403.1" y2="161.9" stroke="#4a4a4a" stroke-width="0.6" />
<line x1="401.5" y1="196.3" x2="401.5" y2="202.3" stroke="#4a5058" stroke-width="0.6" />
<line x1="399.9" y1="196.3" x2="403.1" y2="196.3" stroke="#4a5058" stroke-width="0.6" />
<line x1="399.9" y1="202.3" x2="403.1" y2="202.3" stroke="#4a5058" stroke-width="0.6" />
<line x1="401.5" y1="201.2" x2="401.5" y2="207.2" stroke="#4a4a4a" stroke-width="0.6" />
<line x1="399.9" y1="201.2" x2="403.1" y2="201.2" stroke="#4a4a4a" stroke-width="0.6" />
<line x1="399.9" y1="207.2" x2="403.1" y2="207.2" stroke="#4a4a4a" stroke-width="0.6" />
<line x1="406.2" y1="146.3" x2="406.2" y2="154.3" stroke="#4a5058" stroke-width="0.6" />
<line x1="404.6" y1="146.3" x2="407.8" y2="146.3" stroke="#4a5058" stroke-width="0.6" />
<line x1="404.6" y1="154.3" x2="407.8" y2="154.3" stroke="#4a5058" stroke-width="0.6" />
<line x1="406.2" y1="160" x2="406.2" y2="164" stroke="#4a4a4a" stroke-width="0.6" />
<line x1="404.6" y1="160" x2="407.8" y2="160" stroke="#4a4a4a" stroke-width="0.6" />
<line x1="404.6" y1="164" x2="407.8" y2="164" stroke="#4a4a4a" stroke-width="0.6" />
<line x1="406.2" y1="193.3" x2="406.2" y2="201.3" stroke="#4a5058" stroke-width="0.6" />
<line x1="404.6" y1="193.3" x2="407.8" y2="193.3" stroke="#4a5058" stroke-width="0.6" />
<line x1="404.6" y1="201.3" x2="407.8" y2="201.3" stroke="#4a5058" stroke-width="0.6" />
<line x1="406.2" y1="204.1" x2="406.2" y2="212.1" stroke="#4a4a4a" stroke-width="0.6" />
<line x1="404.6" y1="204.1" x2="407.8" y2="204.1" stroke="#4a4a4a" stroke-width="0.6" />
<line x1="404.6" y1="212.1" x2="407.8" y2="212.1" stroke="#4a4a4a" stroke-width="0.6" />
<line x1="410.8" y1="146.3" x2="410.8" y2="154.3" stroke="#4a5058" stroke-width="0.6" />
<line x1="409.2" y1="146.3" x2="412.4" y2="146.3" stroke="#4a5058" stroke-width="0.6" />
<line x1="409.2" y1="154.3" x2="412.4" y2="154.3" stroke="#4a5058" stroke-width="0.6" />
<line x1="410.8" y1="156.9" x2="410.8" y2="163.9" stroke="#4a4a4a" stroke-width="0.6" />
<line x1="409.2" y1="156.9" x2="412.4" y2="156.9" stroke="#4a4a4a" stroke-width="0.6" />
<line x1="409.2" y1="163.9" x2="412.4" y2="163.9" stroke="#4a4a4a" stroke-width="0.6" />
<line x1="410.8" y1="190.7" x2="410.8" y2="198.7" stroke="#4a5058" stroke-width="0.6" />
<line x1="409.2" y1="190.7" x2="412.4" y2="190.7" stroke="#4a5058" stroke-width="0.6" />
<line x1="409.2" y1="198.7" x2="412.4" y2="198.7" stroke="#4a5058" stroke-width="0.6" />
<line x1="410.8" y1="203.3" x2="410.8" y2="211.3" stroke="#4a4a4a" stroke-width="0.6" />
<line x1="409.2" y1="203.3" x2="412.4" y2="203.3" stroke="#4a4a4a" stroke-width="0.6" />
<line x1="409.2" y1="211.3" x2="412.4" y2="211.3" stroke="#4a4a4a" stroke-width="0.6" />
<line x1="416.1" y1="146.3" x2="416.1" y2="154.3" stroke="#4a5058" stroke-width="0.6" />
<line x1="414.5" y1="146.3" x2="417.7" y2="146.3" stroke="#4a5058" stroke-width="0.6" />
<line x1="414.5" y1="154.3" x2="417.7" y2="154.3" stroke="#4a5058" stroke-width="0.6" />
<line x1="416.1" y1="156.4" x2="416.1" y2="163.4" stroke="#4a4a4a" stroke-width="0.6" />
<line x1="414.5" y1="156.4" x2="417.7" y2="156.4" stroke="#4a4a4a" stroke-width="0.6" />
<line x1="414.5" y1="163.4" x2="417.7" y2="163.4" stroke="#4a4a4a" stroke-width="0.6" />
<line x1="416.1" y1="189.5" x2="416.1" y2="197.5" stroke="#4a5058" stroke-width="0.6" />
<line x1="414.5" y1="189.5" x2="417.7" y2="189.5" stroke="#4a5058" stroke-width="0.6" />
<line x1="414.5" y1="197.5" x2="417.7" y2="197.5" stroke="#4a5058" stroke-width="0.6" />
<line x1="416.1" y1="201.8" x2="416.1" y2="209.8" stroke="#4a4a4a" stroke-width="0.6" />
<line x1="414.5" y1="201.8" x2="417.7" y2="201.8" stroke="#4a4a4a" stroke-width="0.6" />
<line x1="414.5" y1="209.8" x2="417.7" y2="209.8" stroke="#4a4a4a" stroke-width="0.6" />
<line x1="420.5" y1="149.5" x2="420.5" y2="155.5" stroke="#4a5058" stroke-width="0.6" />
<line x1="418.9" y1="149.5" x2="422.1" y2="149.5" stroke="#4a5058" stroke-width="0.6" />
<line x1="418.9" y1="155.5" x2="422.1" y2="155.5" stroke="#4a5058" stroke-width="0.6" />
<line x1="420.5" y1="158.4" x2="420.5" y2="162.4" stroke="#4a4a4a" stroke-width="0.6" />
<line x1="418.9" y1="158.4" x2="422.1" y2="158.4" stroke="#4a4a4a" stroke-width="0.6" />
<line x1="418.9" y1="162.4" x2="422.1" y2="162.4" stroke="#4a4a4a" stroke-width="0.6" />
<line x1="420.5" y1="192.5" x2="420.5" y2="200.5" stroke="#4a5058" stroke-width="0.6" />
<line x1="418.9" y1="192.5" x2="422.1" y2="192.5" stroke="#4a5058" stroke-width="0.6" />
<line x1="418.9" y1="200.5" x2="422.1" y2="200.5" stroke="#4a5058" stroke-width="0.6" />
<line x1="420.5" y1="200.5" x2="420.5" y2="208.5" stroke="#4a4a4a" stroke-width="0.6" />
<line x1="418.9" y1="200.5" x2="422.1" y2="200.5" stroke="#4a4a4a" stroke-width="0.6" />
<line x1="418.9" y1="208.5" x2="422.1" y2="208.5" stroke="#4a4a4a" stroke-width="0.6" />
<line x1="424.7" y1="145.4" x2="424.7" y2="157.4" stroke="#4a5058" stroke-width="0.6" />
<line x1="423.1" y1="145.4" x2="426.3" y2="145.4" stroke="#4a5058" stroke-width="0.6" />
<line x1="423.1" y1="157.4" x2="426.3" y2="157.4" stroke="#4a5058" stroke-width="0.6" />
<line x1="424.7" y1="157.9" x2="424.7" y2="162.9" stroke="#4a4a4a" stroke-width="0.6" />
<line x1="423.1" y1="157.9" x2="426.3" y2="157.9" stroke="#4a4a4a" stroke-width="0.6" />
<line x1="423.1" y1="162.9" x2="426.3" y2="162.9" stroke="#4a4a4a" stroke-width="0.6" />
<line x1="424.7" y1="193.8" x2="424.7" y2="201.8" stroke="#4a5058" stroke-width="0.6" />
<line x1="423.1" y1="193.8" x2="426.3" y2="193.8" stroke="#4a5058" stroke-width="0.6" />
<line x1="423.1" y1="201.8" x2="426.3" y2="201.8" stroke="#4a5058" stroke-width="0.6" />
<line x1="424.7" y1="199.5" x2="424.7" y2="207.5" stroke="#4a4a4a" stroke-width="0.6" />
<line x1="423.1" y1="199.5" x2="426.3" y2="199.5" stroke="#4a4a4a" stroke-width="0.6" />
<line x1="423.1" y1="207.5" x2="426.3" y2="207.5" stroke="#4a4a4a" stroke-width="0.6" />
<line x1="429.8" y1="145.4" x2="429.8" y2="157.4" stroke="#4a5058" stroke-width="0.6" />
<line x1="428.2" y1="145.4" x2="431.4" y2="145.4" stroke="#4a5058" stroke-width="0.6" />
<line x1="428.2" y1="157.4" x2="431.4" y2="157.4" stroke="#4a5058" stroke-width="0.6" />
<line x1="429.8" y1="152.7" x2="429.8" y2="159.7" stroke="#4a4a4a" stroke-width="0.6" />
<line x1="428.2" y1="152.7" x2="431.4" y2="152.7" stroke="#4a4a4a" stroke-width="0.6" />
<line x1="428.2" y1="159.7" x2="431.4" y2="159.7" stroke="#4a4a4a" stroke-width="0.6" />
<line x1="429.8" y1="186.9" x2="429.8" y2="196.9" stroke="#4a5058" stroke-width="0.6" />
<line x1="428.2" y1="186.9" x2="431.4" y2="186.9" stroke="#4a5058" stroke-width="0.6" />
<line x1="428.2" y1="196.9" x2="431.4" y2="196.9" stroke="#4a5058" stroke-width="0.6" />
<line x1="429.8" y1="197.2" x2="429.8" y2="205.2" stroke="#4a4a4a" stroke-width="0.6" />
<line x1="428.2" y1="197.2" x2="431.4" y2="197.2" stroke="#4a4a4a" stroke-width="0.6" />
<line x1="428.2" y1="205.2" x2="431.4" y2="205.2" stroke="#4a4a4a" stroke-width="0.6" />
<line x1="434.4" y1="145.8" x2="434.4" y2="154.8" stroke="#4a5058" stroke-width="0.6" />
<line x1="432.8" y1="145.8" x2="436" y2="145.8" stroke="#4a5058" stroke-width="0.6" />
<line x1="432.8" y1="154.8" x2="436" y2="154.8" stroke="#4a5058" stroke-width="0.6" />
<line x1="434.4" y1="155.8" x2="434.4" y2="159.8" stroke="#4a4a4a" stroke-width="0.6" />
<line x1="432.8" y1="155.8" x2="436" y2="155.8" stroke="#4a4a4a" stroke-width="0.6" />
<line x1="432.8" y1="159.8" x2="436" y2="159.8" stroke="#4a4a4a" stroke-width="0.6" />
<line x1="434.4" y1="190.8" x2="434.4" y2="200.8" stroke="#4a5058" stroke-width="0.6" />
<line x1="432.8" y1="190.8" x2="436" y2="190.8" stroke="#4a5058" stroke-width="0.6" />
<line x1="432.8" y1="200.8" x2="436" y2="200.8" stroke="#4a5058" stroke-width="0.6" />
<line x1="434.4" y1="196.4" x2="434.4" y2="204.4" stroke="#4a4a4a" stroke-width="0.6" />
<line x1="432.8" y1="196.4" x2="436" y2="196.4" stroke="#4a4a4a" stroke-width="0.6" />
<line x1="432.8" y1="204.4" x2="436" y2="204.4" stroke="#4a4a4a" stroke-width="0.6" />
<line x1="439.1" y1="145.8" x2="439.1" y2="154.8" stroke="#4a5058" stroke-width="0.6" />
<line x1="437.5" y1="145.8" x2="440.7" y2="145.8" stroke="#4a5058" stroke-width="0.6" />
<line x1="437.5" y1="154.8" x2="440.7" y2="154.8" stroke="#4a5058" stroke-width="0.6" />
<line x1="439.1" y1="155.2" x2="439.1" y2="159.2" stroke="#4a4a4a" stroke-width="0.6" />
<line x1="437.5" y1="155.2" x2="440.7" y2="155.2" stroke="#4a4a4a" stroke-width="0.6" />
<line x1="437.5" y1="159.2" x2="440.7" y2="159.2" stroke="#4a4a4a" stroke-width="0.6" />
<line x1="439.1" y1="191" x2="439.1" y2="199" stroke="#4a5058" stroke-width="0.6" />
<line x1="437.5" y1="191" x2="440.7" y2="191" stroke="#4a5058" stroke-width="0.6" />
<line x1="437.5" y1="199" x2="440.7" y2="199" stroke="#4a5058" stroke-width="0.6" />
<line x1="439.1" y1="193" x2="439.1" y2="201" stroke="#4a4a4a" stroke-width="0.6" />
<line x1="437.5" y1="193" x2="440.7" y2="193" stroke="#4a4a4a" stroke-width="0.6" />
<line x1="437.5" y1="201" x2="440.7" y2="201" stroke="#4a4a4a" stroke-width="0.6" />
<line x1="443.6" y1="143" x2="443.6" y2="152" stroke="#4a5058" stroke-width="0.6" />
<line x1="442" y1="143" x2="445.2" y2="143" stroke="#4a5058" stroke-width="0.6" />
<line x1="442" y1="152" x2="445.2" y2="152" stroke="#4a5058" stroke-width="0.6" />
<line x1="443.6" y1="153.6" x2="443.6" y2="157.6" stroke="#4a4a4a" stroke-width="0.6" />
<line x1="442" y1="153.6" x2="445.2" y2="153.6" stroke="#4a4a4a" stroke-width="0.6" />
<line x1="442" y1="157.6" x2="445.2" y2="157.6" stroke="#4a4a4a" stroke-width="0.6" />
<line x1="443.6" y1="185" x2="443.6" y2="194" stroke="#4a5058" stroke-width="0.6" />
<line x1="442" y1="185" x2="445.2" y2="185" stroke="#4a5058" stroke-width="0.6" />
<line x1="442" y1="194" x2="445.2" y2="194" stroke="#4a5058" stroke-width="0.6" />
<line x1="443.6" y1="190" x2="443.6" y2="200" stroke="#4a4a4a" stroke-width="0.6" />
<line x1="442" y1="190" x2="445.2" y2="190" stroke="#4a4a4a" stroke-width="0.6" />
<line x1="442" y1="200" x2="445.2" y2="200" stroke="#4a4a4a" stroke-width="0.6" />
<line x1="452.5" y1="140.5" x2="452.5" y2="148.5" stroke="#4a5058" stroke-width="0.6" />
<line x1="450.9" y1="140.5" x2="454.1" y2="140.5" stroke="#4a5058" stroke-width="0.6" />
<line x1="450.9" y1="148.5" x2="454.1" y2="148.5" stroke="#4a5058" stroke-width="0.6" />
<line x1="452.5" y1="150.5" x2="452.5" y2="154.5" stroke="#4a4a4a" stroke-width="0.6" />
<line x1="450.9" y1="150.5" x2="454.1" y2="150.5" stroke="#4a4a4a" stroke-width="0.6" />
<line x1="450.9" y1="154.5" x2="454.1" y2="154.5" stroke="#4a4a4a" stroke-width="0.6" />
<line x1="452.5" y1="182.3" x2="452.5" y2="190.3" stroke="#4a5058" stroke-width="0.6" />
<line x1="450.9" y1="182.3" x2="454.1" y2="182.3" stroke="#4a5058" stroke-width="0.6" />
<line x1="450.9" y1="190.3" x2="454.1" y2="190.3" stroke="#4a5058" stroke-width="0.6" />
<line x1="452.5" y1="184.5" x2="452.5" y2="194.5" stroke="#4a4a4a" stroke-width="0.6" />
<line x1="450.9" y1="184.5" x2="454.1" y2="184.5" stroke="#4a4a4a" stroke-width="0.6" />
<line x1="450.9" y1="194.5" x2="454.1" y2="194.5" stroke="#4a4a4a" stroke-width="0.6" />
<line x1="462.5" y1="137.3" x2="462.5" y2="145.3" stroke="#4a5058" stroke-width="0.6" />
<line x1="460.9" y1="137.3" x2="464.1" y2="137.3" stroke="#4a5058" stroke-width="0.6" />
<line x1="460.9" y1="145.3" x2="464.1" y2="145.3" stroke="#4a5058" stroke-width="0.6" />
<line x1="462.5" y1="149.3" x2="462.5" y2="153.3" stroke="#4a4a4a" stroke-width="0.6" />
<line x1="460.9" y1="149.3" x2="464.1" y2="149.3" stroke="#4a4a4a" stroke-width="0.6" />
<line x1="460.9" y1="153.3" x2="464.1" y2="153.3" stroke="#4a4a4a" stroke-width="0.6" />
<line x1="462.5" y1="178" x2="462.5" y2="186" stroke="#4a5058" stroke-width="0.6" />
<line x1="460.9" y1="178" x2="464.1" y2="178" stroke="#4a5058" stroke-width="0.6" />
<line x1="460.9" y1="186" x2="464.1" y2="186" stroke="#4a5058" stroke-width="0.6" />
<line x1="462.5" y1="182.3" x2="462.5" y2="190.3" stroke="#4a4a4a" stroke-width="0.6" />
<line x1="460.9" y1="182.3" x2="464.1" y2="182.3" stroke="#4a4a4a" stroke-width="0.6" />
<line x1="460.9" y1="190.3" x2="464.1" y2="190.3" stroke="#4a4a4a" stroke-width="0.6" />
<line x1="472" y1="136" x2="472" y2="144" stroke="#4a5058" stroke-width="0.6" />
<line x1="470.4" y1="136" x2="473.6" y2="136" stroke="#4a5058" stroke-width="0.6" />
<line x1="470.4" y1="144" x2="473.6" y2="144" stroke="#4a5058" stroke-width="0.6" />
<line x1="472" y1="149.5" x2="472" y2="155.5" stroke="#4a4a4a" stroke-width="0.6" />
<line x1="470.4" y1="149.5" x2="473.6" y2="149.5" stroke="#4a4a4a" stroke-width="0.6" />
<line x1="470.4" y1="155.5" x2="473.6" y2="155.5" stroke="#4a4a4a" stroke-width="0.6" />
<line x1="472" y1="175" x2="472" y2="185" stroke="#4a5058" stroke-width="0.6" />
<line x1="470.4" y1="175" x2="473.6" y2="175" stroke="#4a5058" stroke-width="0.6" />
<line x1="470.4" y1="185" x2="473.6" y2="185" stroke="#4a5058" stroke-width="0.6" />
<line x1="472" y1="177.5" x2="472" y2="187.5" stroke="#4a4a4a" stroke-width="0.6" />
<line x1="470.4" y1="177.5" x2="473.6" y2="177.5" stroke="#4a4a4a" stroke-width="0.6" />
<line x1="470.4" y1="187.5" x2="473.6" y2="187.5" stroke="#4a4a4a" stroke-width="0.6" />
<line x1="481.2" y1="133" x2="481.2" y2="141" stroke="#4a5058" stroke-width="0.6" />
<line x1="479.6" y1="133" x2="482.8" y2="133" stroke="#4a5058" stroke-width="0.6" />
<line x1="479.6" y1="141" x2="482.8" y2="141" stroke="#4a5058" stroke-width="0.6" />
<line x1="481.2" y1="147.8" x2="481.2" y2="153.8" stroke="#4a4a4a" stroke-width="0.6" />
<line x1="479.6" y1="147.8" x2="482.8" y2="147.8" stroke="#4a4a4a" stroke-width="0.6" />
<line x1="479.6" y1="153.8" x2="482.8" y2="153.8" stroke="#4a4a4a" stroke-width="0.6" />
<line x1="481.2" y1="168.5" x2="481.2" y2="176.5" stroke="#4a5058" stroke-width="0.6" />
<line x1="479.6" y1="168.5" x2="482.8" y2="168.5" stroke="#4a5058" stroke-width="0.6" />
<line x1="479.6" y1="176.5" x2="482.8" y2="176.5" stroke="#4a5058" stroke-width="0.6" />
<line x1="481.2" y1="176.3" x2="481.2" y2="186.3" stroke="#4a4a4a" stroke-width="0.6" />
<line x1="479.6" y1="176.3" x2="482.8" y2="176.3" stroke="#4a4a4a" stroke-width="0.6" />
<line x1="479.6" y1="186.3" x2="482.8" y2="186.3" stroke="#4a4a4a" stroke-width="0.6" />
<line x1="490" y1="129.5" x2="490" y2="135.5" stroke="#4a5058" stroke-width="0.6" />
<line x1="488.4" y1="129.5" x2="491.6" y2="129.5" stroke="#4a5058" stroke-width="0.6" />
<line x1="488.4" y1="135.5" x2="491.6" y2="135.5" stroke="#4a5058" stroke-width="0.6" />
<line x1="490" y1="148.5" x2="490" y2="152.5" stroke="#4a4a4a" stroke-width="0.6" />
<line x1="488.4" y1="148.5" x2="491.6" y2="148.5" stroke="#4a4a4a" stroke-width="0.6" />
<line x1="488.4" y1="152.5" x2="491.6" y2="152.5" stroke="#4a4a4a" stroke-width="0.6" />
<line x1="490" y1="167.5" x2="490" y2="171.5" stroke="#4a5058" stroke-width="0.6" />
<line x1="488.4" y1="167.5" x2="491.6" y2="167.5" stroke="#4a5058" stroke-width="0.6" />
<line x1="488.4" y1="171.5" x2="491.6" y2="171.5" stroke="#4a5058" stroke-width="0.6" />
<line x1="490" y1="174" x2="490" y2="180" stroke="#4a4a4a" stroke-width="0.6" />
<line x1="488.4" y1="174" x2="491.6" y2="174" stroke="#4a4a4a" stroke-width="0.6" />
<line x1="488.4" y1="180" x2="491.6" y2="180" stroke="#4a4a4a" stroke-width="0.6" />
<circle cx="401.50" cy="153.20" r="1.6" fill="#1d3a52" stroke="#111" stroke-width="0.5"/>
<circle cx="401.50" cy="159.90" r="1.6" fill="#7d1a2e" stroke="#111" stroke-width="0.5"/>
<rect x="400.05" y="197.85" width="2.90" height="2.90" fill="#1d3a52" stroke="#111" stroke-width="0.5"/>
<rect x="400.05" y="202.75" width="2.90" height="2.90" fill="#7d1a2e" stroke="#111" stroke-width="0.5"/>
<circle cx="406.20" cy="150.30" r="1.6" fill="#1d3a52" stroke="#111" stroke-width="0.5"/>
<circle cx="406.20" cy="162.00" r="1.6" fill="#7d1a2e" stroke="#111" stroke-width="0.5"/>
<rect x="404.75" y="195.85" width="2.90" height="2.90" fill="#1d3a52" stroke="#111" stroke-width="0.5"/>
<rect x="404.75" y="206.65" width="2.90" height="2.90" fill="#7d1a2e" stroke="#111" stroke-width="0.5"/>
<circle cx="410.80" cy="150.30" r="1.6" fill="#1d3a52" stroke="#111" stroke-width="0.5"/>
<circle cx="410.80" cy="160.40" r="1.6" fill="#7d1a2e" stroke="#111" stroke-width="0.5"/>
<rect x="409.35" y="193.25" width="2.90" height="2.90" fill="#1d3a52" stroke="#111" stroke-width="0.5"/>
<rect x="409.35" y="205.85" width="2.90" height="2.90" fill="#7d1a2e" stroke="#111" stroke-width="0.5"/>
<circle cx="416.10" cy="150.30" r="1.6" fill="#1d3a52" stroke="#111" stroke-width="0.5"/>
<circle cx="416.10" cy="159.90" r="1.6" fill="#7d1a2e" stroke="#111" stroke-width="0.5"/>
<rect x="414.65" y="192.05" width="2.90" height="2.90" fill="#1d3a52" stroke="#111" stroke-width="0.5"/>
<rect x="414.65" y="204.35" width="2.90" height="2.90" fill="#7d1a2e" stroke="#111" stroke-width="0.5"/>
<circle cx="420.50" cy="152.50" r="1.6" fill="#1d3a52" stroke="#111" stroke-width="0.5"/>
<circle cx="420.50" cy="160.40" r="1.6" fill="#7d1a2e" stroke="#111" stroke-width="0.5"/>
<rect x="419.05" y="195.05" width="2.90" height="2.90" fill="#1d3a52" stroke="#111" stroke-width="0.5"/>
<rect x="419.05" y="203.05" width="2.90" height="2.90" fill="#7d1a2e" stroke="#111" stroke-width="0.5"/>
<circle cx="424.70" cy="151.40" r="1.6" fill="#1d3a52" stroke="#111" stroke-width="0.5"/>
<circle cx="424.70" cy="160.40" r="1.6" fill="#7d1a2e" stroke="#111" stroke-width="0.5"/>
<rect x="423.25" y="196.35" width="2.90" height="2.90" fill="#1d3a52" stroke="#111" stroke-width="0.5"/>
<rect x="423.25" y="202.05" width="2.90" height="2.90" fill="#7d1a2e" stroke="#111" stroke-width="0.5"/>
<circle cx="429.80" cy="151.40" r="1.6" fill="#1d3a52" stroke="#111" stroke-width="0.5"/>
<circle cx="429.80" cy="156.20" r="1.6" fill="#7d1a2e" stroke="#111" stroke-width="0.5"/>
<rect x="428.35" y="190.45" width="2.90" height="2.90" fill="#1d3a52" stroke="#111" stroke-width="0.5"/>
<rect x="428.35" y="199.75" width="2.90" height="2.90" fill="#7d1a2e" stroke="#111" stroke-width="0.5"/>
<circle cx="434.40" cy="150.30" r="1.6" fill="#1d3a52" stroke="#111" stroke-width="0.5"/>
<circle cx="434.40" cy="157.80" r="1.6" fill="#7d1a2e" stroke="#111" stroke-width="0.5"/>
<rect x="432.95" y="194.35" width="2.90" height="2.90" fill="#1d3a52" stroke="#111" stroke-width="0.5"/>
<rect x="432.95" y="198.95" width="2.90" height="2.90" fill="#7d1a2e" stroke="#111" stroke-width="0.5"/>
<circle cx="439.10" cy="150.30" r="1.6" fill="#1d3a52" stroke="#111" stroke-width="0.5"/>
<circle cx="439.10" cy="157.20" r="1.6" fill="#7d1a2e" stroke="#111" stroke-width="0.5"/>
<rect x="437.65" y="193.55" width="2.90" height="2.90" fill="#1d3a52" stroke="#111" stroke-width="0.5"/>
<rect x="437.65" y="195.55" width="2.90" height="2.90" fill="#7d1a2e" stroke="#111" stroke-width="0.5"/>
<circle cx="443.60" cy="147.50" r="1.6" fill="#1d3a52" stroke="#111" stroke-width="0.5"/>
<circle cx="443.60" cy="155.60" r="1.6" fill="#7d1a2e" stroke="#111" stroke-width="0.5"/>
<rect x="442.15" y="188.05" width="2.90" height="2.90" fill="#1d3a52" stroke="#111" stroke-width="0.5"/>
<rect x="442.15" y="193.55" width="2.90" height="2.90" fill="#7d1a2e" stroke="#111" stroke-width="0.5"/>
<circle cx="452.50" cy="144.50" r="1.6" fill="#1d3a52" stroke="#111" stroke-width="0.5"/>
<circle cx="452.50" cy="152.50" r="1.6" fill="#7d1a2e" stroke="#111" stroke-width="0.5"/>
<rect x="451.05" y="184.85" width="2.90" height="2.90" fill="#1d3a52" stroke="#111" stroke-width="0.5"/>
<rect x="451.05" y="188.05" width="2.90" height="2.90" fill="#7d1a2e" stroke="#111" stroke-width="0.5"/>
<circle cx="462.50" cy="141.30" r="1.6" fill="#1d3a52" stroke="#111" stroke-width="0.5"/>
<circle cx="462.50" cy="151.30" r="1.6" fill="#7d1a2e" stroke="#111" stroke-width="0.5"/>
<rect x="461.05" y="180.55" width="2.90" height="2.90" fill="#1d3a52" stroke="#111" stroke-width="0.5"/>
<rect x="461.05" y="184.85" width="2.90" height="2.90" fill="#7d1a2e" stroke="#111" stroke-width="0.5"/>
<circle cx="472.00" cy="140.00" r="1.6" fill="#1d3a52" stroke="#111" stroke-width="0.5"/>
<circle cx="472.00" cy="152.50" r="1.6" fill="#7d1a2e" stroke="#111" stroke-width="0.5"/>
<rect x="470.55" y="178.55" width="2.90" height="2.90" fill="#1d3a52" stroke="#111" stroke-width="0.5"/>
<rect x="470.55" y="181.05" width="2.90" height="2.90" fill="#7d1a2e" stroke="#111" stroke-width="0.5"/>
<circle cx="481.20" cy="137.00" r="1.6" fill="#1d3a52" stroke="#111" stroke-width="0.5"/>
<circle cx="481.20" cy="150.80" r="1.6" fill="#7d1a2e" stroke="#111" stroke-width="0.5"/>
<rect x="479.75" y="171.05" width="2.90" height="2.90" fill="#1d3a52" stroke="#111" stroke-width="0.5"/>
<rect x="479.75" y="179.85" width="2.90" height="2.90" fill="#7d1a2e" stroke="#111" stroke-width="0.5"/>
<circle cx="490.00" cy="132.50" r="1.6" fill="#1d3a52" stroke="#111" stroke-width="0.5"/>
<circle cx="490.00" cy="150.50" r="1.6" fill="#7d1a2e" stroke="#111" stroke-width="0.5"/>
<rect x="488.55" y="168.05" width="2.90" height="2.90" fill="#1d3a52" stroke="#111" stroke-width="0.5"/>
<rect x="488.55" y="175.55" width="2.90" height="2.90" fill="#7d1a2e" stroke="#111" stroke-width="0.5"/>
<circle cx="466.90" cy="202.70" r="1.5" fill="#1d3a52" stroke="#111" stroke-width="0.5"/>
<circle cx="472.70" cy="202.70" r="1.5" fill="#7d1a2e" stroke="#111" stroke-width="0.5"/>
<rect x="465.55" y="210.55" width="2.70" height="2.70" fill="#1d3a52" stroke="#111" stroke-width="0.5"/>
<rect x="471.35" y="210.55" width="2.70" height="2.70" fill="#7d1a2e" stroke="#111" stroke-width="0.5"/>
<text x="477" y="204.6" font-size="6.4" fill="#444" stroke="#444" stroke-width="0.12">k</text>
<text x="480.5" y="206.6" font-size="3.6" fill="#555" stroke="#555" stroke-width="0.12" textLength="3.6" lengthAdjust="spacingAndGlyphs">-1</text>
<text x="477" y="213.8" font-size="6.4" fill="#444" stroke="#444" stroke-width="0.12">k</text>
<text x="480.5" y="215.8" font-size="3.6" fill="#555" stroke="#555" stroke-width="0.12" textLength="3.6" lengthAdjust="spacingAndGlyphs">-2</text>
<text x="2.1" y="273.5" font-size="11.3" fill="#000" font-weight="bold">F</text>
<line x1="27" y1="282.5" x2="27" y2="369.2" stroke="#1a1a1a" stroke-width="1.0" />
<line x1="27" y1="369.2" x2="122.5" y2="369.2" stroke="#1a1a1a" stroke-width="1.0" />
<line x1="24" y1="364.1" x2="27" y2="364.1" stroke="#1a1a1a" stroke-width="0.8" />
<text x="19.8" y="366.4" font-size="7.31" text-anchor="end" fill="#2a2a2a" stroke="#2a2a2a" stroke-width="0.25" textLength="3.62" lengthAdjust="spacingAndGlyphs">0</text>
<line x1="24" y1="324.7" x2="27" y2="324.7" stroke="#1a1a1a" stroke-width="0.8" />
<text x="19.8" y="327" font-size="7.31" text-anchor="end" fill="#2a2a2a" stroke="#2a2a2a" stroke-width="0.25" textLength="7.24" lengthAdjust="spacingAndGlyphs">40</text>
<line x1="24" y1="285.3" x2="27" y2="285.3" stroke="#1a1a1a" stroke-width="0.8" />
<text x="19.8" y="287.6" font-size="7.31" text-anchor="end" fill="#2a2a2a" stroke="#2a2a2a" stroke-width="0.25" textLength="7.24" lengthAdjust="spacingAndGlyphs">80</text>
<line x1="25.4" y1="344.4" x2="27" y2="344.4" stroke="#1a1a1a" stroke-width="0.6" />
<line x1="25.4" y1="305" x2="27" y2="305" stroke="#1a1a1a" stroke-width="0.6" />
<line x1="27.4" y1="369.2" x2="27.4" y2="371.8" stroke="#1a1a1a" stroke-width="0.8" />
<text x="27.4" y="380.6" font-size="7.31" text-anchor="middle" fill="#2a2a2a" stroke="#2a2a2a" stroke-width="0.25" textLength="3.62" lengthAdjust="spacingAndGlyphs">0</text>
<line x1="58.33" y1="369.2" x2="58.33" y2="371.8" stroke="#1a1a1a" stroke-width="0.8" />
<text x="58.33" y="380.6" font-size="7.31" text-anchor="middle" fill="#2a2a2a" stroke="#2a2a2a" stroke-width="0.25" textLength="10.86" lengthAdjust="spacingAndGlyphs">100</text>
<line x1="89.26" y1="369.2" x2="89.26" y2="371.8" stroke="#1a1a1a" stroke-width="0.8" />
<text x="89.26" y="380.6" font-size="7.31" text-anchor="middle" fill="#2a2a2a" stroke="#2a2a2a" stroke-width="0.25" textLength="10.86" lengthAdjust="spacingAndGlyphs">200</text>
<line x1="120.19" y1="369.2" x2="120.19" y2="371.8" stroke="#1a1a1a" stroke-width="0.8" />
<text x="120.19" y="380.6" font-size="7.31" text-anchor="middle" fill="#2a2a2a" stroke="#2a2a2a" stroke-width="0.25" textLength="10.86" lengthAdjust="spacingAndGlyphs">300</text>
<line x1="42.87" y1="369.2" x2="42.87" y2="370.8" stroke="#1a1a1a" stroke-width="0.6" />
<line x1="73.8" y1="369.2" x2="73.8" y2="370.8" stroke="#1a1a1a" stroke-width="0.6" />
<line x1="104.72" y1="369.2" x2="104.72" y2="370.8" stroke="#1a1a1a" stroke-width="0.6" />
<text x="8.3" y="374.7" font-size="8.6" text-anchor="middle" fill="#262626" stroke="#262626" stroke-width="0.25" textLength="44.8" lengthAdjust="spacingAndGlyphs" transform="rotate(-90 8.3 374.7)">Response (RU)</text>
<text x="83.5" y="286.8" font-size="6.3" fill="#2b2b2b" stroke="#2b2b2b" stroke-width="0.12" textLength="28.5" lengthAdjust="spacingAndGlyphs">Wild Type</text>
<line x1="58.9" y1="301.6" x2="58.9" y2="338.5" stroke="#b0c0d8" stroke-width="0.7" />
<polyline points="27.30,353.50 28.11,350.78 28.92,348.20 29.72,345.81 30.53,343.67 31.34,341.75 32.15,339.95 32.95,338.26 33.76,336.68 34.57,335.18 35.38,333.77 36.18,332.44 36.99,331.20 37.80,330.04 38.61,328.94 39.42,327.87 40.22,326.81 41.03,325.73 41.84,324.63 42.65,323.56 43.45,322.49 44.26,321.42 45.07,320.34 45.88,319.24 46.68,318.09 47.49,316.89 48.30,315.64 49.11,314.38 49.92,313.12 50.72,311.90 51.53,310.73 52.34,309.63 53.15,308.54 53.95,307.47 54.76,306.43 55.57,305.41 56.38,304.42 57.18,303.45 57.99,302.51 58.80,301.60" fill="none" stroke="#4a6890" stroke-width="0.9" stroke-linejoin="round" stroke-linecap="round" />
<polyline points="58.80,301.60 59.00,316.00" fill="none" stroke="#4a6890" stroke-width="0.9" stroke-linejoin="round" stroke-linecap="round" />
<polyline points="59.30,316.00 60.32,317.01 61.34,318.00 62.36,318.96 63.37,319.90 64.39,320.81 65.41,321.69 66.43,322.56 67.45,323.40 68.47,324.22 69.49,325.02 70.51,325.79 71.52,326.55 72.54,327.29 73.56,328.00 74.58,328.70 75.60,329.38 76.62,330.04 77.64,330.69 78.65,331.32 79.67,331.93 80.69,332.53 81.71,333.11 82.73,333.67 83.75,334.22 84.77,334.76 85.78,335.28 86.80,335.79 87.82,336.28 88.84,336.76 89.86,337.23 90.88,337.69 91.90,338.14 92.92,338.57 93.93,338.99 94.95,339.40 95.97,339.80 96.99,340.19 98.01,340.57 99.03,340.94 100.05,341.30 101.06,341.65 102.08,341.99 103.10,342.32 104.12,342.65 105.14,342.96 106.16,343.27 107.18,343.57 108.19,343.86 109.21,344.14 110.23,344.42 111.25,344.69 112.27,344.95 113.29,345.20 114.31,345.45 115.33,345.69 116.34,345.93 117.36,346.16 118.38,346.38 119.40,346.60" fill="none" stroke="#4a6890" stroke-width="0.9" stroke-linejoin="round" stroke-linecap="round" />
<polyline points="27.30,356.70 28.11,354.25 28.92,351.89 29.72,349.66 30.53,347.59 31.34,345.73 32.15,344.05 32.95,342.46 33.76,340.96 34.57,339.53 35.38,338.18 36.18,336.88 36.99,335.64 37.80,334.44 38.61,333.27 39.42,332.13 40.22,331.01 41.03,329.91 41.84,328.84 42.65,327.82 43.45,326.84 44.26,325.93 45.07,325.07 45.88,324.29 46.68,323.59 47.49,322.94 48.30,322.35 49.11,321.80 49.92,321.27 50.72,320.76 51.53,320.26 52.34,319.75 53.15,319.21 53.95,318.65 54.76,318.08 55.57,317.51 56.38,316.94 57.18,316.36 57.99,315.78 58.80,315.20" fill="none" stroke="#4a6890" stroke-width="0.9" stroke-linejoin="round" stroke-linecap="round" />
<polyline points="58.80,315.20 59.00,325.50" fill="none" stroke="#4a6890" stroke-width="0.9" stroke-linejoin="round" stroke-linecap="round" />
<polyline points="59.30,325.50 60.32,326.32 61.34,327.12 62.36,327.90 63.37,328.66 64.39,329.41 65.41,330.15 66.43,330.86 67.45,331.57 68.47,332.25 69.49,332.92 70.51,333.58 71.52,334.23 72.54,334.86 73.56,335.47 74.58,336.08 75.60,336.67 76.62,337.24 77.64,337.81 78.65,338.36 79.67,338.90 80.69,339.43 81.71,339.95 82.73,340.46 83.75,340.95 84.77,341.44 85.78,341.92 86.80,342.38 87.82,342.84 88.84,343.28 89.86,343.72 90.88,344.14 91.90,344.56 92.92,344.97 93.93,345.37 94.95,345.76 95.97,346.14 96.99,346.52 98.01,346.88 99.03,347.24 100.05,347.59 101.06,347.94 102.08,348.27 103.10,348.60 104.12,348.92 105.14,349.24 106.16,349.55 107.18,349.85 108.19,350.14 109.21,350.43 110.23,350.71 111.25,350.99 112.27,351.26 113.29,351.53 114.31,351.79 115.33,352.04 116.34,352.29 117.36,352.53 118.38,352.77 119.40,353.00" fill="none" stroke="#4a6890" stroke-width="0.9" stroke-linejoin="round" stroke-linecap="round" />
<polyline points="27.30,359.60 28.11,358.16 28.92,356.76 29.72,355.42 30.53,354.13 31.34,352.90 32.15,351.73 32.95,350.63 33.76,349.59 34.57,348.60 35.38,347.66 36.18,346.75 36.99,345.88 37.80,345.03 38.61,344.20 39.42,343.37 40.22,342.54 41.03,341.72 41.84,340.90 42.65,340.10 43.45,339.32 44.26,338.57 45.07,337.86 45.88,337.20 46.68,336.59 47.49,336.03 48.30,335.54 49.11,335.09 49.92,334.68 50.72,334.30 51.53,333.93 52.34,333.57 53.15,333.21 53.95,332.84 54.76,332.47 55.57,332.10 56.38,331.74 57.18,331.39 57.99,331.04 58.80,330.70" fill="none" stroke="#4a6890" stroke-width="0.9" stroke-linejoin="round" stroke-linecap="round" />
<polyline points="58.80,330.70 59.00,337.10" fill="none" stroke="#4a6890" stroke-width="0.9" stroke-linejoin="round" stroke-linecap="round" />
<polyline points="59.30,337.10 60.32,337.65 61.34,338.19 62.36,338.73 63.37,339.25 64.39,339.76 65.41,340.27 66.43,340.76 67.45,341.25 68.47,341.72 69.49,342.19 70.51,342.65 71.52,343.10 72.54,343.55 73.56,343.98 74.58,344.41 75.60,344.83 76.62,345.24 77.64,345.64 78.65,346.04 79.67,346.43 80.69,346.81 81.71,347.19 82.73,347.56 83.75,347.92 84.77,348.28 85.78,348.63 86.80,348.97 87.82,349.31 88.84,349.64 89.86,349.96 90.88,350.28 91.90,350.59 92.92,350.90 93.93,351.20 94.95,351.50 95.97,351.79 96.99,352.08 98.01,352.36 99.03,352.63 100.05,352.90 101.06,353.17 102.08,353.43 103.10,353.68 104.12,353.93 105.14,354.18 106.16,354.42 107.18,354.66 108.19,354.89 109.21,355.12 110.23,355.35 111.25,355.57 112.27,355.79 113.29,356.00 114.31,356.21 115.33,356.41 116.34,356.62 117.36,356.81 118.38,357.01 119.40,357.20" fill="none" stroke="#4a6890" stroke-width="0.9" stroke-linejoin="round" stroke-linecap="round" />
<polyline points="27.30,362.60 28.11,362.11 28.92,361.63 29.72,361.17 30.53,360.73 31.34,360.31 32.15,359.93 32.95,359.58 33.76,359.25 34.57,358.94 35.38,358.64 36.18,358.36 36.99,358.09 37.80,357.82 38.61,357.58 39.42,357.34 40.22,357.11 41.03,356.90 41.84,356.69 42.65,356.49 43.45,356.30 44.26,356.11 45.07,355.93 45.88,355.76 46.68,355.59 47.49,355.44 48.30,355.29 49.11,355.15 49.92,355.02 50.72,354.90 51.53,354.78 52.34,354.67 53.15,354.57 53.95,354.47 54.76,354.37 55.57,354.28 56.38,354.20 57.18,354.13 57.99,354.06 58.80,354.00" fill="none" stroke="#4a6890" stroke-width="0.9" stroke-linejoin="round" stroke-linecap="round" />
<polyline points="58.80,354.00 59.00,357.20" fill="none" stroke="#4a6890" stroke-width="0.9" stroke-linejoin="round" stroke-linecap="round" />
<polyline points="59.30,357.20 60.32,357.41 61.34,357.62 62.36,357.82 63.37,358.03 64.39,358.23 65.41,358.43 66.43,358.62 67.45,358.82 68.47,359.01 69.49,359.20 70.51,359.38 71.52,359.57 72.54,359.75 73.56,359.94 74.58,360.11 75.60,360.29 76.62,360.47 77.64,360.64 78.65,360.81 79.67,360.98 80.69,361.15 81.71,361.31 82.73,361.48 83.75,361.64 84.77,361.80 85.78,361.96 86.80,362.12 87.82,362.27 88.84,362.42 89.86,362.58 90.88,362.73 91.90,362.87 92.92,363.02 93.93,363.16 94.95,363.31 95.97,363.45 96.99,363.59 98.01,363.73 99.03,363.86 100.05,364.00 101.06,364.13 102.08,364.27 103.10,364.40 104.12,364.53 105.14,364.65 106.16,364.78 107.18,364.90 108.19,365.03 109.21,365.15 110.23,365.27 111.25,365.39 112.27,365.51 113.29,365.63 114.31,365.74 115.33,365.86 116.34,365.97 117.36,366.08 118.38,366.19 119.40,366.30" fill="none" stroke="#4a6890" stroke-width="0.9" stroke-linejoin="round" stroke-linecap="round" />
<text x="49.6" y="299.4" font-size="6.3" fill="#2b2b2b" stroke="#2b2b2b" stroke-width="0.12" textLength="19.8" lengthAdjust="spacingAndGlyphs">4.0 μM</text>
<text x="49.6" y="315.4" font-size="6.3" fill="#2b2b2b" stroke="#2b2b2b" stroke-width="0.12" textLength="8.6" lengthAdjust="spacingAndGlyphs">3.0</text>
<text x="49.6" y="330.4" font-size="6.3" fill="#2b2b2b" stroke="#2b2b2b" stroke-width="0.12" textLength="8.6" lengthAdjust="spacingAndGlyphs">2.0</text>
<text x="49.6" y="355.3" font-size="6.3" fill="#2b2b2b" stroke="#2b2b2b" stroke-width="0.12" textLength="8.6" lengthAdjust="spacingAndGlyphs">0.6</text>
<line x1="26.8" y1="401" x2="26.8" y2="492.7" stroke="#1a1a1a" stroke-width="1.0" />
<line x1="26.8" y1="492.7" x2="123.2" y2="492.7" stroke="#1a1a1a" stroke-width="1.0" />
<line x1="23.8" y1="487.7" x2="26.8" y2="487.7" stroke="#1a1a1a" stroke-width="0.8" />
<text x="19.8" y="490" font-size="7.31" text-anchor="end" fill="#2a2a2a" stroke="#2a2a2a" stroke-width="0.25" textLength="3.62" lengthAdjust="spacingAndGlyphs">0</text>
<line x1="23.8" y1="448" x2="26.8" y2="448" stroke="#1a1a1a" stroke-width="0.8" />
<text x="19.8" y="450.3" font-size="7.31" text-anchor="end" fill="#2a2a2a" stroke="#2a2a2a" stroke-width="0.25" textLength="7.24" lengthAdjust="spacingAndGlyphs">40</text>
<line x1="23.8" y1="408.3" x2="26.8" y2="408.3" stroke="#1a1a1a" stroke-width="0.8" />
<text x="19.8" y="410.6" font-size="7.31" text-anchor="end" fill="#2a2a2a" stroke="#2a2a2a" stroke-width="0.25" textLength="7.24" lengthAdjust="spacingAndGlyphs">80</text>
<line x1="25.2" y1="467.85" x2="26.8" y2="467.85" stroke="#1a1a1a" stroke-width="0.6" />
<line x1="25.2" y1="428.15" x2="26.8" y2="428.15" stroke="#1a1a1a" stroke-width="0.6" />
<line x1="27.8" y1="492.7" x2="27.8" y2="495.3" stroke="#1a1a1a" stroke-width="0.8" />
<text x="27.8" y="504.3" font-size="7.31" text-anchor="middle" fill="#2a2a2a" stroke="#2a2a2a" stroke-width="0.25" textLength="3.62" lengthAdjust="spacingAndGlyphs">0</text>
<line x1="58.67" y1="492.7" x2="58.67" y2="495.3" stroke="#1a1a1a" stroke-width="0.8" />
<text x="58.67" y="504.3" font-size="7.31" text-anchor="middle" fill="#2a2a2a" stroke="#2a2a2a" stroke-width="0.25" textLength="10.86" lengthAdjust="spacingAndGlyphs">100</text>
<line x1="89.54" y1="492.7" x2="89.54" y2="495.3" stroke="#1a1a1a" stroke-width="0.8" />
<text x="89.54" y="504.3" font-size="7.31" text-anchor="middle" fill="#2a2a2a" stroke="#2a2a2a" stroke-width="0.25" textLength="10.86" lengthAdjust="spacingAndGlyphs">200</text>
<line x1="120.41" y1="492.7" x2="120.41" y2="495.3" stroke="#1a1a1a" stroke-width="0.8" />
<text x="120.41" y="504.3" font-size="7.31" text-anchor="middle" fill="#2a2a2a" stroke="#2a2a2a" stroke-width="0.25" textLength="10.86" lengthAdjust="spacingAndGlyphs">300</text>
<line x1="43.23" y1="492.7" x2="43.23" y2="494.3" stroke="#1a1a1a" stroke-width="0.6" />
<line x1="74.1" y1="492.7" x2="74.1" y2="494.3" stroke="#1a1a1a" stroke-width="0.6" />
<line x1="104.97" y1="492.7" x2="104.97" y2="494.3" stroke="#1a1a1a" stroke-width="0.6" />
<text x="89.1" y="410.4" font-size="6.3" fill="#2b2b2b" stroke="#2b2b2b" stroke-width="0.12" textLength="24" lengthAdjust="spacingAndGlyphs">C1669S/</text>
<text x="89.1" y="424.6" font-size="6.3" fill="#2b2b2b" stroke="#2b2b2b" stroke-width="0.12" textLength="22.8" lengthAdjust="spacingAndGlyphs">C1670S</text>
<line x1="58.9" y1="408.8" x2="58.9" y2="432.5" stroke="#b0c0d8" stroke-width="0.9" />
<line x1="58.9" y1="448.9" x2="58.9" y2="455.5" stroke="#b0c0d8" stroke-width="0.9" />
<polyline points="27.80,484.90 28.59,481.47 29.38,478.28 30.18,475.37 30.97,472.67 31.76,470.16 32.55,467.89 33.35,465.88 34.14,464.06 34.93,462.37 35.72,460.72 36.52,459.06 37.31,457.31 38.10,455.50 38.89,453.68 39.68,451.86 40.48,450.08 41.27,448.35 42.06,446.70 42.85,445.08 43.65,443.50 44.44,441.93 45.23,440.34 46.02,438.75 46.82,437.19 47.61,435.62 48.40,434.03 49.19,432.38 49.98,430.65 50.78,428.84 51.57,426.97 52.36,425.05 53.15,423.10 53.95,421.13 54.74,419.15 55.53,417.14 56.32,415.10 57.12,413.03 57.91,410.93 58.70,408.80" fill="none" stroke="#4a6890" stroke-width="0.9" stroke-linejoin="round" stroke-linecap="round" />
<polyline points="58.70,408.80 59.00,416.20" fill="none" stroke="#4a6890" stroke-width="0.9" stroke-linejoin="round" stroke-linecap="round" />
<polyline points="59.30,416.20 60.32,416.59 61.34,416.98 62.36,417.37 63.37,417.76 64.39,418.14 65.41,418.52 66.43,418.90 67.45,419.27 68.47,419.64 69.49,420.01 70.51,420.38 71.52,420.74 72.54,421.10 73.56,421.46 74.58,421.82 75.60,422.17 76.62,422.52 77.64,422.87 78.65,423.21 79.67,423.56 80.69,423.90 81.71,424.24 82.73,424.57 83.75,424.91 84.77,425.24 85.78,425.57 86.80,425.89 87.82,426.22 88.84,426.54 89.86,426.86 90.88,427.18 91.90,427.49 92.92,427.80 93.93,428.12 94.95,428.42 95.97,428.73 96.99,429.03 98.01,429.34 99.03,429.64 100.05,429.93 101.06,430.23 102.08,430.52 103.10,430.81 104.12,431.10 105.14,431.39 106.16,431.67 107.18,431.96 108.19,432.24 109.21,432.52 110.23,432.79 111.25,433.07 112.27,433.34 113.29,433.61 114.31,433.88 115.33,434.15 116.34,434.42 117.36,434.68 118.38,434.94 119.40,435.20" fill="none" stroke="#4a6890" stroke-width="0.9" stroke-linejoin="round" stroke-linecap="round" />
<polyline points="27.80,484.90 28.59,481.47 29.38,478.28 30.18,475.37 30.97,472.65 31.76,470.13 32.55,467.88 33.35,465.93 34.14,464.17 34.93,462.55 35.72,461.00 36.52,459.46 37.31,457.88 38.10,456.31 38.89,454.76 39.68,453.24 40.48,451.74 41.27,450.27 42.06,448.83 42.85,447.40 43.65,446.00 44.44,444.63 45.23,443.28 46.02,441.97 46.82,440.70 47.61,439.46 48.40,438.21 49.19,436.96 49.98,435.67 50.78,434.33 51.57,432.98 52.36,431.63 53.15,430.33 53.95,429.08 54.74,427.90 55.53,426.75 56.32,425.63 57.12,424.55 57.91,423.50 58.70,422.50" fill="none" stroke="#4a6890" stroke-width="0.9" stroke-linejoin="round" stroke-linecap="round" />
<polyline points="58.70,422.50 59.00,432.00" fill="none" stroke="#4a6890" stroke-width="0.9" stroke-linejoin="round" stroke-linecap="round" />
<polyline points="59.30,432.00 60.32,432.40 61.34,432.80 62.36,433.19 63.37,433.59 64.39,433.97 65.41,434.36 66.43,434.74 67.45,435.12 68.47,435.50 69.49,435.87 70.51,436.24 71.52,436.61 72.54,436.98 73.56,437.34 74.58,437.70 75.60,438.05 76.62,438.41 77.64,438.76 78.65,439.11 79.67,439.45 80.69,439.79 81.71,440.13 82.73,440.47 83.75,440.81 84.77,441.14 85.78,441.47 86.80,441.79 87.82,442.12 88.84,442.44 89.86,442.76 90.88,443.08 91.90,443.39 92.92,443.70 93.93,444.01 94.95,444.32 95.97,444.62 96.99,444.92 98.01,445.22 99.03,445.52 100.05,445.82 101.06,446.11 102.08,446.40 103.10,446.69 104.12,446.97 105.14,447.26 106.16,447.54 107.18,447.82 108.19,448.09 109.21,448.37 110.23,448.64 111.25,448.91 112.27,449.18 113.29,449.45 114.31,449.71 115.33,449.97 116.34,450.23 117.36,450.49 118.38,450.75 119.40,451.00" fill="none" stroke="#4a6890" stroke-width="0.9" stroke-linejoin="round" stroke-linecap="round" />
<polyline points="27.80,486.00 28.59,483.11 29.38,480.39 30.18,477.85 30.97,475.51 31.76,473.39 32.55,471.52 33.35,469.87 34.14,468.38 34.93,467.02 35.72,465.78 36.52,464.65 37.31,463.61 38.10,462.67 38.89,461.81 39.68,461.00 40.48,460.22 41.27,459.43 42.06,458.63 42.85,457.84 43.65,457.07 44.44,456.33 45.23,455.64 46.02,455.00 46.82,454.38 47.61,453.79 48.40,453.24 49.19,452.74 49.98,452.29 50.78,451.89 51.57,451.51 52.36,451.16 53.15,450.84 53.95,450.52 54.74,450.22 55.53,449.92 56.32,449.65 57.12,449.38 57.91,449.13 58.70,448.90" fill="none" stroke="#4a6890" stroke-width="0.9" stroke-linejoin="round" stroke-linecap="round" />
<polyline points="58.70,448.90 59.00,455.30" fill="none" stroke="#4a6890" stroke-width="0.9" stroke-linejoin="round" stroke-linecap="round" />
<polyline points="59.30,455.30 60.32,455.60 61.34,455.90 62.36,456.20 63.37,456.49 64.39,456.78 65.41,457.07 66.43,457.35 67.45,457.63 68.47,457.91 69.49,458.19 70.51,458.47 71.52,458.74 72.54,459.01 73.56,459.27 74.58,459.54 75.60,459.80 76.62,460.06 77.64,460.32 78.65,460.57 79.67,460.82 80.69,461.07 81.71,461.32 82.73,461.56 83.75,461.81 84.77,462.05 85.78,462.28 86.80,462.52 87.82,462.75 88.84,462.99 89.86,463.21 90.88,463.44 91.90,463.67 92.92,463.89 93.93,464.11 94.95,464.33 95.97,464.54 96.99,464.76 98.01,464.97 99.03,465.18 100.05,465.39 101.06,465.60 102.08,465.80 103.10,466.00 104.12,466.21 105.14,466.40 106.16,466.60 107.18,466.80 108.19,466.99 109.21,467.18 110.23,467.37 111.25,467.56 112.27,467.75 113.29,467.93 114.31,468.11 115.33,468.29 116.34,468.47 117.36,468.65 118.38,468.83 119.40,469.00" fill="none" stroke="#4a6890" stroke-width="0.9" stroke-linejoin="round" stroke-linecap="round" />
<polyline points="27.80,486.40 28.59,485.96 29.38,485.53 30.18,485.12 30.97,484.73 31.76,484.37 32.55,484.03 33.35,483.73 34.14,483.46 34.93,483.21 35.72,483.00 36.52,482.80 37.31,482.61 38.10,482.43 38.89,482.26 39.68,482.08 40.48,481.89 41.27,481.68 42.06,481.45 42.85,481.21 43.65,480.95 44.44,480.68 45.23,480.41 46.02,480.13 46.82,479.86 47.61,479.60 48.40,479.36 49.19,479.13 49.98,478.93 50.78,478.76 51.57,478.62 52.36,478.51 53.15,478.40 53.95,478.29 54.74,478.19 55.53,478.11 56.32,478.03 57.12,477.97 57.91,477.93 58.70,477.90" fill="none" stroke="#4a6890" stroke-width="0.9" stroke-linejoin="round" stroke-linecap="round" />
<polyline points="58.70,477.90 59.00,480.00" fill="none" stroke="#4a6890" stroke-width="0.9" stroke-linejoin="round" stroke-linecap="round" />
<polyline points="59.30,480.00 60.32,480.15 61.34,480.29 62.36,480.44 63.37,480.58 64.39,480.73 65.41,480.87 66.43,481.01 67.45,481.15 68.47,481.29 69.49,481.42 70.51,481.56 71.52,481.70 72.54,481.83 73.56,481.96 74.58,482.09 75.60,482.23 76.62,482.36 77.64,482.49 78.65,482.61 79.67,482.74 80.69,482.87 81.71,482.99 82.73,483.12 83.75,483.24 84.77,483.36 85.78,483.48 86.80,483.60 87.82,483.72 88.84,483.84 89.86,483.96 90.88,484.08 91.90,484.19 92.92,484.31 93.93,484.42 94.95,484.53 95.97,484.65 96.99,484.76 98.01,484.87 99.03,484.98 100.05,485.09 101.06,485.19 102.08,485.30 103.10,485.41 104.12,485.51 105.14,485.62 106.16,485.72 107.18,485.82 108.19,485.93 109.21,486.03 110.23,486.13 111.25,486.23 112.27,486.33 113.29,486.43 114.31,486.52 115.33,486.62 116.34,486.72 117.36,486.81 118.38,486.91 119.40,487.00" fill="none" stroke="#4a6890" stroke-width="0.9" stroke-linejoin="round" stroke-linecap="round" />
<text x="49" y="408.9" font-size="6.3" fill="#2b2b2b" stroke="#2b2b2b" stroke-width="0.12" textLength="19.8" lengthAdjust="spacingAndGlyphs">4.0 μM</text>
<text x="49" y="439.1" font-size="6.3" fill="#2b2b2b" stroke="#2b2b2b" stroke-width="0.12" textLength="8.6" lengthAdjust="spacingAndGlyphs">3.0</text>
<text x="49" y="448" font-size="6.3" fill="#2b2b2b" stroke="#2b2b2b" stroke-width="0.12" textLength="8.6" lengthAdjust="spacingAndGlyphs">2.0</text>
<text x="49" y="477.2" font-size="6.3" fill="#2b2b2b" stroke="#2b2b2b" stroke-width="0.12" textLength="8.6" lengthAdjust="spacingAndGlyphs">0.6</text>
<line x1="154.1" y1="280.3" x2="154.1" y2="369.3" stroke="#1a1a1a" stroke-width="1.0" />
<line x1="154.1" y1="369.3" x2="245.8" y2="369.3" stroke="#1a1a1a" stroke-width="1.0" />
<line x1="151.3" y1="292.5" x2="154.1" y2="292.5" stroke="#1a1a1a" stroke-width="0.8" />
<text x="148.2" y="294.8" font-size="7.31" text-anchor="end" fill="#2a2a2a" stroke="#2a2a2a" stroke-width="0.25" textLength="10.86" lengthAdjust="spacingAndGlyphs">800</text>
<line x1="151.3" y1="318.3" x2="154.1" y2="318.3" stroke="#1a1a1a" stroke-width="0.8" />
<text x="148.2" y="320.6" font-size="7.31" text-anchor="end" fill="#2a2a2a" stroke="#2a2a2a" stroke-width="0.25" textLength="10.86" lengthAdjust="spacingAndGlyphs">400</text>
<line x1="151.3" y1="343.6" x2="154.1" y2="343.6" stroke="#1a1a1a" stroke-width="0.8" />
<text x="148.2" y="345.9" font-size="7.31" text-anchor="end" fill="#2a2a2a" stroke="#2a2a2a" stroke-width="0.25" textLength="10.86" lengthAdjust="spacingAndGlyphs">200</text>
<line x1="151.3" y1="369.3" x2="154.1" y2="369.3" stroke="#1a1a1a" stroke-width="0.8" />
<text x="148.2" y="371.6" font-size="7.31" text-anchor="end" fill="#2a2a2a" stroke="#2a2a2a" stroke-width="0.25" textLength="3.62" lengthAdjust="spacingAndGlyphs">0</text>
<line x1="154.1" y1="369.3" x2="154.1" y2="371.8" stroke="#1a1a1a" stroke-width="0.8" />
<line x1="159.46" y1="369.3" x2="159.46" y2="370.7" stroke="#1a1a1a" stroke-width="0.5" />
<line x1="162.59" y1="369.3" x2="162.59" y2="370.7" stroke="#1a1a1a" stroke-width="0.5" />
<line x1="164.82" y1="369.3" x2="164.82" y2="370.7" stroke="#1a1a1a" stroke-width="0.5" />
<line x1="166.54" y1="369.3" x2="166.54" y2="370.7" stroke="#1a1a1a" stroke-width="0.5" />
<line x1="167.95" y1="369.3" x2="167.95" y2="370.7" stroke="#1a1a1a" stroke-width="0.5" />
<line x1="169.14" y1="369.3" x2="169.14" y2="370.7" stroke="#1a1a1a" stroke-width="0.5" />
<line x1="170.18" y1="369.3" x2="170.18" y2="370.7" stroke="#1a1a1a" stroke-width="0.5" />
<line x1="171.09" y1="369.3" x2="171.09" y2="370.7" stroke="#1a1a1a" stroke-width="0.5" />
<line x1="171.9" y1="369.3" x2="171.9" y2="371.8" stroke="#1a1a1a" stroke-width="0.8" />
<line x1="177.26" y1="369.3" x2="177.26" y2="370.7" stroke="#1a1a1a" stroke-width="0.5" />
<line x1="180.39" y1="369.3" x2="180.39" y2="370.7" stroke="#1a1a1a" stroke-width="0.5" />
<line x1="182.62" y1="369.3" x2="182.62" y2="370.7" stroke="#1a1a1a" stroke-width="0.5" />
<line x1="184.34" y1="369.3" x2="184.34" y2="370.7" stroke="#1a1a1a" stroke-width="0.5" />
<line x1="185.75" y1="369.3" x2="185.75" y2="370.7" stroke="#1a1a1a" stroke-width="0.5" />
<line x1="186.94" y1="369.3" x2="186.94" y2="370.7" stroke="#1a1a1a" stroke-width="0.5" />
<line x1="187.98" y1="369.3" x2="187.98" y2="370.7" stroke="#1a1a1a" stroke-width="0.5" />
<line x1="188.89" y1="369.3" x2="188.89" y2="370.7" stroke="#1a1a1a" stroke-width="0.5" />
<line x1="189.7" y1="369.3" x2="189.7" y2="371.8" stroke="#1a1a1a" stroke-width="0.8" />
<line x1="195.06" y1="369.3" x2="195.06" y2="370.7" stroke="#1a1a1a" stroke-width="0.5" />
<line x1="198.19" y1="369.3" x2="198.19" y2="370.7" stroke="#1a1a1a" stroke-width="0.5" />
<line x1="200.42" y1="369.3" x2="200.42" y2="370.7" stroke="#1a1a1a" stroke-width="0.5" />
<line x1="202.14" y1="369.3" x2="202.14" y2="370.7" stroke="#1a1a1a" stroke-width="0.5" />
<line x1="203.55" y1="369.3" x2="203.55" y2="370.7" stroke="#1a1a1a" stroke-width="0.5" />
<line x1="204.74" y1="369.3" x2="204.74" y2="370.7" stroke="#1a1a1a" stroke-width="0.5" />
<line x1="205.78" y1="369.3" x2="205.78" y2="370.7" stroke="#1a1a1a" stroke-width="0.5" />
<line x1="206.69" y1="369.3" x2="206.69" y2="370.7" stroke="#1a1a1a" stroke-width="0.5" />
<line x1="207.5" y1="369.3" x2="207.5" y2="371.8" stroke="#1a1a1a" stroke-width="0.8" />
<line x1="212.86" y1="369.3" x2="212.86" y2="370.7" stroke="#1a1a1a" stroke-width="0.5" />
<line x1="215.99" y1="369.3" x2="215.99" y2="370.7" stroke="#1a1a1a" stroke-width="0.5" />
<line x1="218.22" y1="369.3" x2="218.22" y2="370.7" stroke="#1a1a1a" stroke-width="0.5" />
<line x1="219.94" y1="369.3" x2="219.94" y2="370.7" stroke="#1a1a1a" stroke-width="0.5" />
<line x1="221.35" y1="369.3" x2="221.35" y2="370.7" stroke="#1a1a1a" stroke-width="0.5" />
<line x1="222.54" y1="369.3" x2="222.54" y2="370.7" stroke="#1a1a1a" stroke-width="0.5" />
<line x1="223.58" y1="369.3" x2="223.58" y2="370.7" stroke="#1a1a1a" stroke-width="0.5" />
<line x1="224.49" y1="369.3" x2="224.49" y2="370.7" stroke="#1a1a1a" stroke-width="0.5" />
<line x1="225.3" y1="369.3" x2="225.3" y2="371.8" stroke="#1a1a1a" stroke-width="0.8" />
<line x1="230.66" y1="369.3" x2="230.66" y2="370.7" stroke="#1a1a1a" stroke-width="0.5" />
<line x1="233.79" y1="369.3" x2="233.79" y2="370.7" stroke="#1a1a1a" stroke-width="0.5" />
<line x1="236.02" y1="369.3" x2="236.02" y2="370.7" stroke="#1a1a1a" stroke-width="0.5" />
<line x1="237.74" y1="369.3" x2="237.74" y2="370.7" stroke="#1a1a1a" stroke-width="0.5" />
<line x1="239.15" y1="369.3" x2="239.15" y2="370.7" stroke="#1a1a1a" stroke-width="0.5" />
<line x1="240.34" y1="369.3" x2="240.34" y2="370.7" stroke="#1a1a1a" stroke-width="0.5" />
<line x1="241.38" y1="369.3" x2="241.38" y2="370.7" stroke="#1a1a1a" stroke-width="0.5" />
<line x1="242.29" y1="369.3" x2="242.29" y2="370.7" stroke="#1a1a1a" stroke-width="0.5" />
<line x1="243.1" y1="369.3" x2="243.1" y2="371.8" stroke="#1a1a1a" stroke-width="0.8" />
<text x="154.1" y="380.8" font-size="7.31" text-anchor="middle" fill="#2a2a2a" stroke="#2a2a2a" stroke-width="0.25" textLength="16.29" lengthAdjust="spacingAndGlyphs">0.001</text>
<text x="171.9" y="380.8" font-size="7.31" text-anchor="middle" fill="#2a2a2a" stroke="#2a2a2a" stroke-width="0.25" textLength="12.67" lengthAdjust="spacingAndGlyphs">0.01</text>
<text x="189.7" y="380.8" font-size="7.31" text-anchor="middle" fill="#2a2a2a" stroke="#2a2a2a" stroke-width="0.25" textLength="9.05" lengthAdjust="spacingAndGlyphs">0.1</text>
<text x="207.5" y="380.8" font-size="7.31" text-anchor="middle" fill="#2a2a2a" stroke="#2a2a2a" stroke-width="0.25" textLength="3.62" lengthAdjust="spacingAndGlyphs">1</text>
<text x="225.3" y="380.8" font-size="7.31" text-anchor="middle" fill="#2a2a2a" stroke="#2a2a2a" stroke-width="0.25" textLength="7.24" lengthAdjust="spacingAndGlyphs">10</text>
<text x="243.1" y="380.8" font-size="7.31" text-anchor="middle" fill="#2a2a2a" stroke="#2a2a2a" stroke-width="0.25" textLength="10.86" lengthAdjust="spacingAndGlyphs">100</text>
<text x="199.8" y="394.7" font-size="8.6" text-anchor="middle" fill="#262626" stroke="#262626" stroke-width="0.25" textLength="82.5" lengthAdjust="spacingAndGlyphs">Protein concentration (μM)</text>
<polyline points="154.10,369.30 154.85,369.30 155.60,369.30 156.34,369.30 157.09,369.30 157.84,369.30 158.59,369.29 159.34,369.29 160.08,369.29 160.83,369.29 161.58,369.29 162.33,369.29 163.07,369.29 163.82,369.29 164.57,369.29 165.32,369.29 166.07,369.29 166.81,369.28 167.56,369.28 168.31,369.28 169.06,369.28 169.81,369.28 170.55,369.27 171.30,369.27 172.05,369.27 172.80,369.27 173.55,369.26 174.29,369.26 175.04,369.25 175.79,369.25 176.54,369.25 177.28,369.24 178.03,369.23 178.78,369.23 179.53,369.22 180.28,369.21 181.02,369.20 181.77,369.19 182.52,369.18 183.27,369.17 184.02,369.16 184.76,369.14 185.51,369.13 186.26,369.11 187.01,369.09 187.76,369.07 188.50,369.04 189.25,369.02 190.00,368.99 190.75,368.96 191.49,368.92 192.24,368.89 192.99,368.84 193.74,368.80 194.49,368.75 195.23,368.69 195.98,368.63 196.73,368.56 197.48,368.49 198.23,368.41 198.97,368.32 199.72,368.22 200.47,368.11 201.22,367.99 201.97,367.86 202.71,367.72 203.46,367.56 204.21,367.39 204.96,367.20 205.71,366.99 206.45,366.76 207.20,366.51 207.95,366.24 208.70,365.94 209.44,365.61 210.19,365.26 210.94,364.87 211.69,364.45 212.44,363.98 213.18,363.48 213.93,362.94 214.68,362.35 215.43,361.70 216.18,361.01 216.92,360.26 217.67,359.45 218.42,358.58 219.17,357.65 219.92,356.64 220.66,355.57 221.41,354.43 222.16,353.21 222.91,351.92 223.65,350.56 224.40,349.12 225.15,347.61 225.90,346.03 226.65,344.38 227.39,342.66 228.14,340.89 228.89,339.06 229.64,337.19 230.39,335.27 231.13,333.32 231.88,331.35 232.63,329.36 233.38,327.36 234.13,325.37 234.87,323.39 235.62,321.44 236.37,319.51 237.12,317.62 237.86,315.77 238.61,313.98 239.36,312.25 240.11,310.58 240.86,308.98 241.60,307.44 242.35,305.98 243.10,304.59" fill="none" stroke="#5b3a78" stroke-width="1.1" stroke-linejoin="round" stroke-linecap="round" />
<polyline points="154.10,368.28 154.85,368.27 155.60,368.27 156.34,368.27 157.09,368.27 157.84,368.26 158.59,368.26 159.34,368.25 160.08,368.25 160.83,368.24 161.58,368.24 162.33,368.23 163.07,368.23 163.82,368.22 164.57,368.21 165.32,368.20 166.07,368.19 166.81,368.18 167.56,368.17 168.31,368.15 169.06,368.14 169.81,368.12 170.55,368.10 171.30,368.08 172.05,368.06 172.80,368.04 173.55,368.01 174.29,367.98 175.04,367.95 175.79,367.91 176.54,367.87 177.28,367.83 178.03,367.78 178.78,367.73 179.53,367.67 180.28,367.61 181.02,367.54 181.77,367.47 182.52,367.38 183.27,367.29 184.02,367.19 184.76,367.08 185.51,366.96 186.26,366.82 187.01,366.67 187.76,366.51 188.50,366.33 189.25,366.14 190.00,365.93 190.75,365.69 191.49,365.44 192.24,365.16 192.99,364.85 193.74,364.51 194.49,364.15 195.23,363.75 195.98,363.31 196.73,362.84 197.48,362.32 198.23,361.76 198.97,361.14 199.72,360.48 200.47,359.77 201.22,358.99 201.97,358.15 202.71,357.25 203.46,356.28 204.21,355.24 204.96,354.13 205.71,352.94 206.45,351.68 207.20,350.33 207.95,348.91 208.70,347.41 209.44,345.83 210.19,344.17 210.94,342.44 211.69,340.64 212.44,338.77 213.18,336.84 213.93,334.86 214.68,332.84 215.43,330.77 216.18,328.67 216.92,326.56 217.67,324.43 218.42,322.30 219.17,320.19 219.92,318.09 220.66,316.02 221.41,313.99 222.16,312.00 222.91,310.06 223.65,308.19 224.40,306.38 225.15,304.64 225.90,302.97 226.65,301.38 227.39,299.87 228.14,298.44 228.89,297.09 229.64,295.81 230.39,294.61 231.13,293.49 231.88,292.44 232.63,291.46 233.38,290.55 234.13,289.71 234.87,288.93 235.62,288.20 236.37,287.53 237.12,286.92 237.86,286.35 238.61,285.83 239.36,285.35 240.11,284.91 240.86,284.50 241.60,284.13 242.35,283.79 243.10,283.48" fill="none" stroke="#5aa84a" stroke-width="0.8" stroke-linejoin="round" stroke-linecap="round" />
<circle cx="173.31" cy="367.86" r="1.6" fill="#8a1a2a" stroke="#3a0d14" stroke-width="0.5"/>
<circle cx="175.07" cy="368.85" r="1.6" fill="#8a1a2a" stroke="#3a0d14" stroke-width="0.5"/>
<circle cx="176.84" cy="367.84" r="1.6" fill="#8a1a2a" stroke="#3a0d14" stroke-width="0.5"/>
<circle cx="178.60" cy="368.83" r="1.6" fill="#8a1a2a" stroke="#3a0d14" stroke-width="0.5"/>
<circle cx="180.37" cy="367.81" r="1.6" fill="#8a1a2a" stroke="#3a0d14" stroke-width="0.5"/>
<circle cx="182.13" cy="368.79" r="1.6" fill="#8a1a2a" stroke="#3a0d14" stroke-width="0.5"/>
<circle cx="183.90" cy="367.76" r="1.6" fill="#8a1a2a" stroke="#3a0d14" stroke-width="0.5"/>
<circle cx="185.66" cy="368.72" r="1.6" fill="#8a1a2a" stroke="#3a0d14" stroke-width="0.5"/>
<circle cx="187.43" cy="367.68" r="1.6" fill="#8a1a2a" stroke="#3a0d14" stroke-width="0.5"/>
<circle cx="189.19" cy="368.62" r="1.6" fill="#8a1a2a" stroke="#3a0d14" stroke-width="0.5"/>
<circle cx="190.96" cy="367.55" r="1.6" fill="#8a1a2a" stroke="#3a0d14" stroke-width="0.5"/>
<circle cx="192.72" cy="368.46" r="1.6" fill="#8a1a2a" stroke="#3a0d14" stroke-width="0.5"/>
<circle cx="194.49" cy="367.35" r="1.6" fill="#8a1a2a" stroke="#3a0d14" stroke-width="0.5"/>
<circle cx="196.25" cy="368.21" r="1.6" fill="#8a1a2a" stroke="#3a0d14" stroke-width="0.5"/>
<circle cx="198.02" cy="367.03" r="1.6" fill="#8a1a2a" stroke="#3a0d14" stroke-width="0.5"/>
<circle cx="199.78" cy="367.81" r="1.6" fill="#8a1a2a" stroke="#3a0d14" stroke-width="0.5"/>
<circle cx="201.54" cy="366.53" r="1.6" fill="#8a1a2a" stroke="#3a0d14" stroke-width="0.5"/>
<circle cx="203.31" cy="367.19" r="1.6" fill="#8a1a2a" stroke="#3a0d14" stroke-width="0.5"/>
<circle cx="205.07" cy="365.76" r="1.6" fill="#8a1a2a" stroke="#3a0d14" stroke-width="0.5"/>
<circle cx="206.84" cy="366.23" r="1.6" fill="#8a1a2a" stroke="#3a0d14" stroke-width="0.5"/>
<circle cx="208.60" cy="364.58" r="1.6" fill="#8a1a2a" stroke="#3a0d14" stroke-width="0.5"/>
<circle cx="210.37" cy="364.77" r="1.6" fill="#8a1a2a" stroke="#3a0d14" stroke-width="0.5"/>
<circle cx="212.13" cy="362.78" r="1.6" fill="#8a1a2a" stroke="#3a0d14" stroke-width="0.5"/>
<circle cx="213.90" cy="362.56" r="1.6" fill="#8a1a2a" stroke="#3a0d14" stroke-width="0.5"/>
<circle cx="215.66" cy="360.09" r="1.6" fill="#8a1a2a" stroke="#3a0d14" stroke-width="0.5"/>
<circle cx="217.43" cy="359.32" r="1.6" fill="#8a1a2a" stroke="#3a0d14" stroke-width="0.5"/>
<circle cx="219.19" cy="356.22" r="1.6" fill="#8a1a2a" stroke="#3a0d14" stroke-width="0.5"/>
<circle cx="220.96" cy="354.73" r="1.6" fill="#8a1a2a" stroke="#3a0d14" stroke-width="0.5"/>
<circle cx="222.72" cy="350.85" r="1.6" fill="#8a1a2a" stroke="#3a0d14" stroke-width="0.5"/>
<circle cx="224.49" cy="348.56" r="1.6" fill="#8a1a2a" stroke="#3a0d14" stroke-width="0.5"/>
<circle cx="206.69" cy="366.19" r="1.6" fill="#2a1a2e" stroke="#111" stroke-width="0.5"/>
<circle cx="209.53" cy="365.08" r="1.6" fill="#2a1a2e" stroke="#111" stroke-width="0.5"/>
<circle cx="224.04" cy="349.32" r="1.6" fill="#2a1a2e" stroke="#111" stroke-width="0.5"/>
<circle cx="225.68" cy="346.00" r="1.6" fill="#2a1a2e" stroke="#111" stroke-width="0.5"/>
<circle cx="227.02" cy="343.02" r="1.6" fill="#2a1a2e" stroke="#111" stroke-width="0.5"/>
<circle cx="228.17" cy="340.32" r="1.6" fill="#2a1a2e" stroke="#111" stroke-width="0.5"/>
<circle cx="167.28" cy="367.77" r="1.6" fill="#3e8a3a" stroke="#1c3a1a" stroke-width="0.6"/>
<circle cx="172.13" cy="367.66" r="1.6" fill="#3e8a3a" stroke="#1c3a1a" stroke-width="0.6"/>
<circle cx="178.80" cy="367.33" r="1.6" fill="#3e8a3a" stroke="#1c3a1a" stroke-width="0.6"/>
<circle cx="184.59" cy="366.71" r="1.6" fill="#3e8a3a" stroke="#1c3a1a" stroke-width="0.6"/>
<circle cx="189.38" cy="365.70" r="1.6" fill="#3e8a3a" stroke="#1c3a1a" stroke-width="0.6"/>
<circle cx="195.21" cy="363.36" r="1.6" fill="#3e8a3a" stroke="#1c3a1a" stroke-width="0.6"/>
<circle cx="197.09" cy="362.19" r="1.6" fill="#3e8a3a" stroke="#1c3a1a" stroke-width="0.6"/>
<circle cx="200.42" cy="359.42" r="1.6" fill="#3e8a3a" stroke="#1c3a1a" stroke-width="0.6"/>
<circle cx="201.91" cy="357.82" r="1.6" fill="#3e8a3a" stroke="#1c3a1a" stroke-width="0.6"/>
<circle cx="207.26" cy="349.82" r="1.6" fill="#3e8a3a" stroke="#1c3a1a" stroke-width="0.6"/>
<circle cx="212.50" cy="338.20" r="1.6" fill="#3e8a3a" stroke="#1c3a1a" stroke-width="0.6"/>
<circle cx="218.10" cy="322.81" r="1.6" fill="#3e8a3a" stroke="#1c3a1a" stroke-width="0.6"/>
<circle cx="221.40" cy="313.61" r="1.6" fill="#3e8a3a" stroke="#1c3a1a" stroke-width="0.6"/>
<circle cx="223.51" cy="308.15" r="1.6" fill="#3e8a3a" stroke="#1c3a1a" stroke-width="0.6"/>
<line x1="183.3" y1="262.5" x2="183.3" y2="288.9" stroke="#1a1a1a" stroke-width="0.9" />
<line x1="183.3" y1="288.9" x2="225.2" y2="288.9" stroke="#1a1a1a" stroke-width="0.9" />
<line x1="181.1" y1="288.7" x2="183.3" y2="288.7" stroke="#1a1a1a" stroke-width="0.7" />
<text x="179.6" y="290.9" font-size="7.09" text-anchor="end" fill="#2a2a2a" stroke="#2a2a2a" stroke-width="0.25" textLength="3.51" lengthAdjust="spacingAndGlyphs">0</text>
<line x1="181.1" y1="281.4" x2="183.3" y2="281.4" stroke="#1a1a1a" stroke-width="0.7" />
<text x="179.6" y="283.6" font-size="7.09" text-anchor="end" fill="#2a2a2a" stroke="#2a2a2a" stroke-width="0.25" textLength="7.01" lengthAdjust="spacingAndGlyphs">10</text>
<line x1="181.1" y1="274.1" x2="183.3" y2="274.1" stroke="#1a1a1a" stroke-width="0.7" />
<text x="179.6" y="276.3" font-size="7.09" text-anchor="end" fill="#2a2a2a" stroke="#2a2a2a" stroke-width="0.25" textLength="7.01" lengthAdjust="spacingAndGlyphs">20</text>
<line x1="181.1" y1="266.8" x2="183.3" y2="266.8" stroke="#1a1a1a" stroke-width="0.7" />
<text x="179.6" y="269" font-size="7.09" text-anchor="end" fill="#2a2a2a" stroke="#2a2a2a" stroke-width="0.25" textLength="7.01" lengthAdjust="spacingAndGlyphs">30</text>
<rect x="183.9" y="262.6" width="9.3" height="26.1" fill="#1d4e8a" />
<rect x="195.3" y="265.4" width="8.1" height="23.3" fill="#d0102a" />
<rect x="205.5" y="286.2" width="7.9" height="2.5" fill="#3aa23a" />
<rect x="215.6" y="265.4" width="7.9" height="23.3" fill="#5a2a78" />
<line x1="188.4" y1="261.8" x2="188.4" y2="263.8" stroke="#222" stroke-width="0.6" />
<line x1="186.9" y1="261.8" x2="189.9" y2="261.8" stroke="#222" stroke-width="0.6" />
<line x1="186.9" y1="263.8" x2="189.9" y2="263.8" stroke="#222" stroke-width="0.6" />
<line x1="199" y1="264.8" x2="199" y2="266.6" stroke="#222" stroke-width="0.6" />
<line x1="197.5" y1="264.8" x2="200.5" y2="264.8" stroke="#222" stroke-width="0.6" />
<line x1="197.5" y1="266.6" x2="200.5" y2="266.6" stroke="#222" stroke-width="0.6" />
<line x1="209.6" y1="285.4" x2="209.6" y2="287" stroke="#222" stroke-width="0.6" />
<line x1="208.1" y1="285.4" x2="211.1" y2="285.4" stroke="#222" stroke-width="0.6" />
<line x1="208.1" y1="287" x2="211.1" y2="287" stroke="#222" stroke-width="0.6" />
<line x1="219.3" y1="264.8" x2="219.3" y2="266.6" stroke="#222" stroke-width="0.6" />
<line x1="217.8" y1="264.8" x2="220.8" y2="264.8" stroke="#222" stroke-width="0.6" />
<line x1="217.8" y1="266.6" x2="220.8" y2="266.6" stroke="#222" stroke-width="0.6" />
<path d="M187.50,258.30 h1.8 M188.40,257.40 v1.8 M187.75,257.65 l1.3,1.3 M187.75,258.95 l1.3,-1.3" stroke="#3a3a3a" stroke-width="0.55"/>
<path d="M198.10,261.50 h1.8 M199.00,260.60 v1.8 M198.35,260.85 l1.3,1.3 M198.35,262.15 l1.3,-1.3" stroke="#3a3a3a" stroke-width="0.55"/>
<line x1="188.4" y1="288.9" x2="188.4" y2="290.8" stroke="#1a1a1a" stroke-width="0.6" />
<line x1="199" y1="288.9" x2="199" y2="290.8" stroke="#1a1a1a" stroke-width="0.6" />
<line x1="209.6" y1="288.9" x2="209.6" y2="290.8" stroke="#1a1a1a" stroke-width="0.6" />
<line x1="219.3" y1="288.9" x2="219.3" y2="290.8" stroke="#1a1a1a" stroke-width="0.6" />
<text x="165.6" y="275" font-size="7.6" text-anchor="middle" fill="#262626" stroke="#262626" stroke-width="0.25" transform="rotate(-90 165.6 275)">K<tspan font-size="5.2" dy="1">D</tspan><tspan dy="-1"> (μM)</tspan></text>
<text x="190.6" y="298.5" font-size="6.3" text-anchor="end" fill="#2b2b2b" stroke="#2b2b2b" stroke-width="0.12" textLength="27.5" lengthAdjust="spacingAndGlyphs" transform="rotate(-45 190.6 298.5)">Wild Type</text>
<text x="200.6" y="298.5" font-size="6.3" text-anchor="end" fill="#2b2b2b" stroke="#2b2b2b" stroke-width="0.12" textLength="47" lengthAdjust="spacingAndGlyphs" transform="rotate(-45 200.6 298.5)">C1669S/C1670S</text>
<text x="211" y="298.5" font-size="6.3" text-anchor="end" fill="#2b2b2b" stroke="#2b2b2b" stroke-width="0.12" textLength="29" lengthAdjust="spacingAndGlyphs" transform="rotate(-45 211 298.5)">A1 (E.coli)</text>
<text x="220.8" y="298.5" font-size="6.3" text-anchor="end" fill="#2b2b2b" stroke="#2b2b2b" stroke-width="0.12" textLength="38.5" lengthAdjust="spacingAndGlyphs" transform="rotate(-45 220.8 298.5)">A1 (HEK293)</text>
<text x="129.9" y="410.7" font-size="11.3" fill="#000" font-weight="bold">G</text>
<line x1="152" y1="411.2" x2="152" y2="474" stroke="#1a1a1a" stroke-width="1.0" />
<line x1="152" y1="478" x2="152" y2="492.2" stroke="#1a1a1a" stroke-width="1.0" />
<line x1="152" y1="492.2" x2="243.8" y2="492.2" stroke="#1a1a1a" stroke-width="1.0" />
<line x1="149.2" y1="421.1" x2="152" y2="421.1" stroke="#1a1a1a" stroke-width="0.8" />
<text x="145.7" y="423.4" font-size="7.31" text-anchor="end" fill="#2a2a2a" stroke="#2a2a2a" stroke-width="0.25" textLength="10.86" lengthAdjust="spacingAndGlyphs">400</text>
<line x1="149.2" y1="437.7" x2="152" y2="437.7" stroke="#1a1a1a" stroke-width="0.8" />
<text x="145.7" y="440" font-size="7.31" text-anchor="end" fill="#2a2a2a" stroke="#2a2a2a" stroke-width="0.25" textLength="10.86" lengthAdjust="spacingAndGlyphs">300</text>
<line x1="149.2" y1="454.5" x2="152" y2="454.5" stroke="#1a1a1a" stroke-width="0.8" />
<text x="145.7" y="456.8" font-size="7.31" text-anchor="end" fill="#2a2a2a" stroke="#2a2a2a" stroke-width="0.25" textLength="10.86" lengthAdjust="spacingAndGlyphs">200</text>
<line x1="149.2" y1="471" x2="152" y2="471" stroke="#1a1a1a" stroke-width="0.8" />
<text x="145.7" y="473.3" font-size="7.31" text-anchor="end" fill="#2a2a2a" stroke="#2a2a2a" stroke-width="0.25" textLength="10.86" lengthAdjust="spacingAndGlyphs">100</text>
<line x1="149.2" y1="480.5" x2="152" y2="480.5" stroke="#1a1a1a" stroke-width="0.7" />
<line x1="149.2" y1="485.1" x2="152" y2="485.1" stroke="#1a1a1a" stroke-width="0.7" />
<line x1="149.2" y1="489.3" x2="152" y2="489.3" stroke="#1a1a1a" stroke-width="0.7" />
<line x1="148.5" y1="477.5" x2="155.5" y2="471.5" stroke="#222" stroke-width="0.7" />
<line x1="148.5" y1="479.5" x2="155.5" y2="473.5" stroke="#222" stroke-width="0.7" />
<text x="145.8" y="478.4" font-size="5.26" text-anchor="end" fill="#2a2a2a" stroke="#2a2a2a" stroke-width="0.25" textLength="5.2" lengthAdjust="spacingAndGlyphs">10</text>
<text x="145.8" y="482.5" font-size="5.26" text-anchor="end" fill="#2a2a2a" stroke="#2a2a2a" stroke-width="0.25" textLength="2.6" lengthAdjust="spacingAndGlyphs">5</text>
<text x="145.8" y="486.7" font-size="5.26" text-anchor="end" fill="#2a2a2a" stroke="#2a2a2a" stroke-width="0.25" textLength="2.6" lengthAdjust="spacingAndGlyphs">0</text>
<text x="145.8" y="493.3" font-size="5.26" text-anchor="end" fill="#2a2a2a" stroke="#2a2a2a" stroke-width="0.25" textLength="4.16" lengthAdjust="spacingAndGlyphs">-5</text>
<line x1="160.75" y1="492.2" x2="160.75" y2="494.8" stroke="#1a1a1a" stroke-width="0.8" />
<text x="160.75" y="504.5" font-size="7.31" text-anchor="middle" fill="#2a2a2a" stroke="#2a2a2a" stroke-width="0.25" textLength="3.62" lengthAdjust="spacingAndGlyphs">0</text>
<line x1="200.7" y1="492.2" x2="200.7" y2="494.8" stroke="#1a1a1a" stroke-width="0.8" />
<text x="200.7" y="504.5" font-size="7.31" text-anchor="middle" fill="#2a2a2a" stroke="#2a2a2a" stroke-width="0.25" textLength="10.86" lengthAdjust="spacingAndGlyphs">100</text>
<line x1="240.65" y1="492.2" x2="240.65" y2="494.8" stroke="#1a1a1a" stroke-width="0.8" />
<text x="240.65" y="504.5" font-size="7.31" text-anchor="middle" fill="#2a2a2a" stroke="#2a2a2a" stroke-width="0.25" textLength="10.86" lengthAdjust="spacingAndGlyphs">200</text>
<line x1="180.72" y1="492.2" x2="180.72" y2="493.8" stroke="#1a1a1a" stroke-width="0.6" />
<line x1="220.68" y1="492.2" x2="220.68" y2="493.8" stroke="#1a1a1a" stroke-width="0.6" />
<text x="126.2" y="515.5" font-size="8.6" fill="#262626" stroke="#262626" stroke-width="0.25" textLength="23.3" lengthAdjust="spacingAndGlyphs">Time (s)</text>
<polyline points="160.80,486.00 161.47,478.86 162.14,475.53 162.80,473.28 163.47,471.53 164.14,469.90 164.81,468.07 165.47,466.28 166.14,464.54 166.81,462.86 167.48,461.22 168.15,459.63 168.81,458.08 169.48,456.56 170.15,455.07 170.82,453.60 171.48,452.16 172.15,450.75 172.82,449.36 173.49,448.01 174.16,446.67 174.82,445.37 175.49,444.10 176.16,442.85 176.83,441.63 177.49,440.44 178.16,439.28 178.83,438.14 179.50,437.02 180.17,435.93 180.83,434.86 181.50,433.81 182.17,432.77 182.84,431.75 183.51,430.74 184.17,429.74 184.84,428.75 185.51,427.76 186.18,426.78 186.84,425.81 187.51,424.87 188.18,423.95 188.85,423.06 189.52,422.21 190.18,421.40 190.85,420.63 191.52,419.89 192.19,419.16 192.85,418.44 193.52,417.74 194.19,417.06 194.86,416.40 195.53,415.75 196.19,415.13 196.86,414.53 197.53,413.95 198.20,413.40 198.86,412.87 199.53,412.37 200.20,411.90" fill="none" stroke="#e8a238" stroke-width="1.0" stroke-linejoin="round" stroke-linecap="round" />
<polyline points="200.20,411.90 201.25,412.47 202.30,413.03 203.35,413.59 204.41,414.15 205.46,414.70 206.51,415.26 207.56,415.81 208.61,416.36 209.66,416.91 210.71,417.47 211.76,418.03 212.82,418.58 213.87,419.13 214.92,419.67 215.97,420.20 217.02,420.70 218.07,421.19 219.12,421.65 220.17,422.11 221.23,422.55 222.28,422.99 223.33,423.41 224.38,423.81 225.43,424.21 226.48,424.58 227.53,424.94 228.58,425.29 229.64,425.63 230.69,425.97 231.74,426.29 232.79,426.61 233.84,426.92 234.89,427.22 235.94,427.51 236.99,427.80 238.05,428.06 239.10,428.32 240.15,428.57 241.20,428.80" fill="none" stroke="#e8a238" stroke-width="1.0" stroke-linejoin="round" stroke-linecap="round" />
<line x1="152" y1="485.1" x2="241" y2="485.1" stroke="#cdbedd" stroke-width="1.0" />
<polyline points="160.50,485.60 163.28,485.56 166.05,485.51 168.83,485.47 171.60,485.44 174.38,485.41 177.16,485.38 179.93,485.35 182.71,485.32 185.48,485.29 188.26,485.26 191.03,485.24 193.81,485.22 196.59,485.21 199.36,485.20 202.14,485.20 204.91,485.20 207.69,485.20 210.47,485.20 213.24,485.20 216.02,485.20 218.79,485.20 221.57,485.20 224.34,485.20 227.12,485.20 229.90,485.20 232.67,485.20 235.45,485.20 238.22,485.20 241.00,485.20" fill="none" stroke="#3a9a5c" stroke-width="0.9" stroke-linejoin="round" stroke-linecap="round" />
<polyline points="160.50,486.00 162.56,490.30 164.63,490.20 166.69,489.96 168.76,489.67 170.82,489.39 172.88,489.07 174.95,488.71 177.01,488.33 179.08,487.94 181.14,487.57 183.21,487.24 185.27,486.97 187.33,486.73 189.40,486.51 191.46,486.30 193.53,486.11 195.59,485.93 197.65,485.77 199.72,485.62 201.78,485.47 203.85,485.32 205.91,485.18 207.97,485.04 210.04,484.93 212.10,484.85 214.17,484.80 216.23,484.80 218.29,484.80 220.36,484.80 222.42,484.80 224.49,484.81 226.55,484.82 228.62,484.83 230.68,484.84 232.74,484.86 234.81,484.89 236.87,484.92 238.94,484.96 241.00,485.00" fill="none" stroke="#5ab4dc" stroke-width="0.9" stroke-linejoin="round" stroke-linecap="round" />
<polyline points="160.50,485.50 162.56,487.30 164.63,487.99 166.69,488.36 168.76,488.36 170.82,488.16 172.88,487.83 174.95,487.43 177.01,487.01 179.08,486.64 181.14,486.34 183.21,486.07 185.27,485.80 187.33,485.53 189.40,485.28 191.46,485.02 193.53,484.78 195.59,484.53 197.65,484.33 199.72,484.14 201.78,483.89 203.85,483.45 205.91,482.80 207.97,482.93 210.04,483.24 212.10,483.62 214.17,483.93 216.23,484.08 218.29,484.21 220.36,484.33 222.42,484.45 224.49,484.55 226.55,484.65 228.62,484.74 230.68,484.81 232.74,484.88 234.81,484.93 236.87,484.97 238.94,484.99 241.00,485.00" fill="none" stroke="#d0348a" stroke-width="0.9" stroke-linejoin="round" stroke-linecap="round" />
<line x1="180.6" y1="440.8" x2="192.1" y2="440.8" stroke="#e8a238" stroke-width="1.0" />
<line x1="180.6" y1="447.1" x2="192.1" y2="447.1" stroke="#d0348a" stroke-width="1.0" />
<line x1="180.6" y1="454.8" x2="192.1" y2="454.8" stroke="#5ab4dc" stroke-width="1.0" />
<line x1="180.6" y1="471.2" x2="192.1" y2="471.2" stroke="#3a9a5c" stroke-width="1.0" />
<line x1="180.6" y1="477.9" x2="192.1" y2="477.9" stroke="#cdbedd" stroke-width="1.0" />
<text x="196" y="442.9" font-size="6.2" fill="#2b2b2b" stroke="#2b2b2b" stroke-width="0.12" textLength="33.3" lengthAdjust="spacingAndGlyphs">1 μM Gp1bα</text>
<text x="196" y="449.2" font-size="6.2" fill="#2b2b2b" stroke="#2b2b2b" stroke-width="0.12" textLength="58.2" lengthAdjust="spacingAndGlyphs">1 μM A2WT (HEK293)</text>
<text x="196" y="456.9" font-size="6.2" fill="#2b2b2b" stroke="#2b2b2b" stroke-width="0.12" textLength="48" lengthAdjust="spacingAndGlyphs">1 μM A2 C1669S/</text>
<text x="196" y="463.8" font-size="6.2" fill="#2b2b2b" stroke="#2b2b2b" stroke-width="0.12" textLength="46.7" lengthAdjust="spacingAndGlyphs">C1670S (HEK293)</text>
<text x="196" y="473.3" font-size="6.2" fill="#2b2b2b" stroke="#2b2b2b" stroke-width="0.12" textLength="51" lengthAdjust="spacingAndGlyphs">1 μM A2WT (E.coli)</text>
<text x="196" y="480" font-size="6.2" fill="#2b2b2b" stroke="#2b2b2b" stroke-width="0.12" textLength="57" lengthAdjust="spacingAndGlyphs">1 μM A2ΔCCS (E.coli)</text>
<text x="263.1" y="273.8" font-size="11.3" fill="#000" font-weight="bold">H</text>
<line x1="289.6" y1="287" x2="289.6" y2="386.5" stroke="#1a1a1a" stroke-width="1.0" />
<line x1="289.6" y1="365.6" x2="426.5" y2="365.6" stroke="#1a1a1a" stroke-width="1.2" />
<line x1="289.6" y1="386.5" x2="426.5" y2="386.5" stroke="#1a1a1a" stroke-width="1.0" />
<line x1="309.4" y1="365.6" x2="309.4" y2="368.2" stroke="#1a1a1a" stroke-width="0.8" />
<line x1="309.4" y1="386.5" x2="309.4" y2="389.1" stroke="#1a1a1a" stroke-width="0.8" />
<line x1="338.6" y1="365.6" x2="338.6" y2="368.2" stroke="#1a1a1a" stroke-width="0.8" />
<line x1="338.6" y1="386.5" x2="338.6" y2="389.1" stroke="#1a1a1a" stroke-width="0.8" />
<line x1="367.8" y1="365.6" x2="367.8" y2="368.2" stroke="#1a1a1a" stroke-width="0.8" />
<line x1="367.8" y1="386.5" x2="367.8" y2="389.1" stroke="#1a1a1a" stroke-width="0.8" />
<line x1="397" y1="365.6" x2="397" y2="368.2" stroke="#1a1a1a" stroke-width="0.8" />
<line x1="397" y1="386.5" x2="397" y2="389.1" stroke="#1a1a1a" stroke-width="0.8" />
<line x1="426.2" y1="365.6" x2="426.2" y2="368.2" stroke="#1a1a1a" stroke-width="0.8" />
<line x1="426.2" y1="386.5" x2="426.2" y2="389.1" stroke="#1a1a1a" stroke-width="0.8" />
<line x1="286.4" y1="363.9" x2="289.6" y2="363.9" stroke="#1a1a1a" stroke-width="0.8" />
<text x="283.3" y="366.2" font-size="7.31" text-anchor="end" fill="#2a2a2a" stroke="#2a2a2a" stroke-width="0.25" textLength="3.62" lengthAdjust="spacingAndGlyphs">0</text>
<line x1="286.4" y1="343.06" x2="289.6" y2="343.06" stroke="#1a1a1a" stroke-width="0.8" />
<text x="283.3" y="345.36" font-size="7.31" text-anchor="end" fill="#2a2a2a" stroke="#2a2a2a" stroke-width="0.25" textLength="7.24" lengthAdjust="spacingAndGlyphs">20</text>
<line x1="286.4" y1="322.22" x2="289.6" y2="322.22" stroke="#1a1a1a" stroke-width="0.8" />
<text x="283.3" y="324.52" font-size="7.31" text-anchor="end" fill="#2a2a2a" stroke="#2a2a2a" stroke-width="0.25" textLength="7.24" lengthAdjust="spacingAndGlyphs">40</text>
<line x1="286.4" y1="301.38" x2="289.6" y2="301.38" stroke="#1a1a1a" stroke-width="0.8" />
<text x="283.3" y="303.68" font-size="7.31" text-anchor="end" fill="#2a2a2a" stroke="#2a2a2a" stroke-width="0.25" textLength="7.24" lengthAdjust="spacingAndGlyphs">60</text>
<line x1="286.4" y1="370.6" x2="289.6" y2="370.6" stroke="#1a1a1a" stroke-width="0.8" />
<line x1="286.4" y1="376.4" x2="289.6" y2="376.4" stroke="#1a1a1a" stroke-width="0.8" />
<line x1="286.4" y1="382.3" x2="289.6" y2="382.3" stroke="#1a1a1a" stroke-width="0.8" />
<text x="283" y="370.6" font-size="5.26" text-anchor="middle" fill="#2a2a2a" stroke="#2a2a2a" stroke-width="0.25" textLength="2.6" lengthAdjust="spacingAndGlyphs" transform="rotate(-90 283 370.6)">3</text>
<text x="283" y="376.4" font-size="5.26" text-anchor="middle" fill="#2a2a2a" stroke="#2a2a2a" stroke-width="0.25" textLength="2.6" lengthAdjust="spacingAndGlyphs" transform="rotate(-90 283 376.4)">0</text>
<text x="283" y="382.3" font-size="5.26" text-anchor="middle" fill="#2a2a2a" stroke="#2a2a2a" stroke-width="0.25" textLength="4.16" lengthAdjust="spacingAndGlyphs" transform="rotate(-90 283 382.3)">-3</text>
<text x="267.4" y="326.4" font-size="8" text-anchor="middle" fill="#262626" stroke="#262626" stroke-width="0.25" textLength="41.5" lengthAdjust="spacingAndGlyphs" transform="rotate(-90 267.4 326.4)">C<tspan font-size="5" dy="1">p</tspan><tspan dy="-1"> (kJ/mol•K)</tspan></text>
<text x="270.8" y="374.6" font-size="8" text-anchor="middle" fill="#262626" stroke="#262626" stroke-width="0.25" textLength="28.4" lengthAdjust="spacingAndGlyphs" transform="rotate(-90 270.8 374.6)">Residuals</text>
<polyline points="290.10,363.80 290.78,363.79 291.47,363.79 292.15,363.79 292.83,363.79 293.51,363.79 294.20,363.78 294.88,363.78 295.56,363.78 296.25,363.77 296.93,363.77 297.61,363.77 298.29,363.77 298.98,363.76 299.66,363.76 300.34,363.76 301.03,363.75 301.71,363.75 302.39,363.75 303.08,363.74 303.76,363.74 304.44,363.73 305.12,363.73 305.81,363.73 306.49,363.72 307.17,363.72 307.86,363.71 308.54,363.71 309.22,363.70 309.90,363.69 310.59,363.69 311.27,363.68 311.95,363.67 312.64,363.67 313.32,363.66 314.00,363.65 314.68,363.64 315.37,363.63 316.05,363.62 316.73,363.60 317.42,363.59 318.10,363.57 318.78,363.55 319.47,363.53 320.15,363.50 320.83,363.47 321.51,363.44 322.20,363.40 322.88,363.35 323.56,363.30 324.25,363.24 324.93,363.17 325.61,363.08 326.29,362.99 326.98,362.87 327.66,362.74 328.34,362.60 329.03,362.43 329.71,362.23 330.39,362.01 331.07,361.76 331.76,361.47 332.44,361.15 333.12,360.79 333.81,360.39 334.49,359.95 335.17,359.45 335.86,358.91 336.54,358.32 337.22,357.67 337.90,356.97 338.59,356.21 339.27,355.40 339.95,354.53 340.64,353.61 341.32,352.64 342.00,351.61 342.68,350.55 343.37,349.45 344.05,348.31 344.73,347.15 345.42,345.97 346.10,344.78 346.78,343.59 347.46,342.41 348.15,341.25 348.83,340.12 349.51,339.04 350.20,338.01 350.88,337.05 351.56,336.18 352.25,335.39 352.93,334.71 353.61,334.13 354.29,333.68 354.98,333.35 355.66,333.16 356.34,333.10 357.03,333.18 357.71,333.39 358.39,333.73 359.07,334.20 359.76,334.79 360.44,335.48 361.12,336.28 361.81,337.17 362.49,338.14 363.17,339.17 363.85,340.26 364.54,341.39 365.22,342.55 365.90,343.73 366.59,344.93 367.27,346.11 367.95,347.29 368.64,348.45 369.32,349.59 370.00,350.69 370.68,351.74 371.37,352.76 372.05,353.73 372.73,354.64 373.42,355.50 374.10,356.31 374.78,357.06 375.46,357.75 376.15,358.39 376.83,358.98 377.51,359.52 378.20,360.00 378.88,360.44 379.56,360.84 380.24,361.19 380.93,361.51 381.61,361.79 382.29,362.04 382.98,362.26 383.66,362.45 384.34,362.62 385.03,362.76 385.71,362.89 386.39,363.00 387.07,363.09 387.76,363.18 388.44,363.25 389.12,363.31 389.81,363.36 390.49,363.41 391.17,363.44 391.85,363.48 392.54,363.51 393.22,363.53 393.90,363.55 394.59,363.57 395.27,363.59 395.95,363.60 396.63,363.62 397.32,363.63 398.00,363.64 398.68,363.65 399.37,363.66 400.05,363.67 400.73,363.68 401.42,363.68 402.10,363.69 402.78,363.69 403.46,363.70 404.15,363.71 404.83,363.71 405.51,363.72 406.20,363.72 406.88,363.73 407.56,363.73 408.24,363.73 408.93,363.74 409.61,363.74 410.29,363.75 410.98,363.75 411.66,363.75 412.34,363.76 413.02,363.76 413.71,363.76 414.39,363.77 415.07,363.77 415.76,363.77 416.44,363.78 417.12,363.78 417.81,363.78 418.49,363.78 419.17,363.79 419.85,363.79 420.54,363.79 421.22,363.79 421.90,363.79 422.59,363.80 423.27,363.80 423.95,363.80 424.63,363.80 425.32,363.80 426.00,363.81" fill="none" stroke="#d4587a" stroke-width="0.8" stroke-linejoin="round" stroke-linecap="round" />
<polyline points="290.10,363.80 290.78,363.80 291.47,363.80 292.15,363.80 292.83,363.79 293.51,363.79 294.20,363.79 294.88,363.79 295.56,363.79 296.25,363.78 296.93,363.78 297.61,363.78 298.29,363.78 298.98,363.77 299.66,363.77 300.34,363.77 301.03,363.77 301.71,363.76 302.39,363.76 303.08,363.76 303.76,363.75 304.44,363.75 305.12,363.75 305.81,363.75 306.49,363.74 307.17,363.74 307.86,363.73 308.54,363.73 309.22,363.73 309.90,363.72 310.59,363.72 311.27,363.72 311.95,363.71 312.64,363.71 313.32,363.70 314.00,363.70 314.68,363.69 315.37,363.69 316.05,363.68 316.73,363.68 317.42,363.67 318.10,363.66 318.78,363.66 319.47,363.65 320.15,363.64 320.83,363.64 321.51,363.63 322.20,363.62 322.88,363.61 323.56,363.60 324.25,363.60 324.93,363.59 325.61,363.58 326.29,363.57 326.98,363.56 327.66,363.54 328.34,363.53 329.03,363.52 329.71,363.51 330.39,363.49 331.07,363.48 331.76,363.46 332.44,363.45 333.12,363.43 333.81,363.41 334.49,363.38 335.17,363.36 335.86,363.33 336.54,363.30 337.22,363.26 337.90,363.22 338.59,363.17 339.27,363.11 339.95,363.04 340.64,362.96 341.32,362.86 342.00,362.74 342.68,362.60 343.37,362.43 344.05,362.23 344.73,361.98 345.42,361.69 346.10,361.35 346.78,360.94 347.46,360.47 348.15,359.91 348.83,359.27 349.51,358.53 350.20,357.67 350.88,356.70 351.56,355.60 352.25,354.37 352.93,353.00 353.61,351.48 354.29,349.82 354.98,348.01 355.66,346.06 356.34,343.98 357.03,341.77 357.71,339.46 358.39,337.05 359.07,334.58 359.76,332.07 360.44,329.54 361.12,327.04 361.81,324.60 362.49,322.25 363.17,320.04 363.85,318.01 364.54,316.19 365.22,314.62 365.90,313.35 366.59,312.39 367.27,311.77 367.95,311.51 368.64,311.61 369.32,312.08 370.00,312.89 370.68,314.03 371.37,315.48 372.05,317.19 372.73,319.14 373.42,321.28 374.10,323.57 374.78,325.98 375.46,328.46 376.15,330.97 376.83,333.50 377.51,335.99 378.20,338.43 378.88,340.78 379.56,343.04 380.24,345.18 380.93,347.19 381.61,349.06 382.29,350.78 382.98,352.36 383.66,353.80 384.34,355.09 385.03,356.24 385.71,357.27 386.39,358.17 387.07,358.96 387.76,359.65 388.44,360.24 389.12,360.75 389.81,361.18 390.49,361.55 391.17,361.86 391.85,362.13 392.54,362.35 393.22,362.53 393.90,362.68 394.59,362.81 395.27,362.92 395.95,363.01 396.63,363.08 397.32,363.14 398.00,363.20 398.68,363.24 399.37,363.28 400.05,363.32 400.73,363.35 401.42,363.37 402.10,363.40 402.78,363.42 403.46,363.44 404.15,363.46 404.83,363.47 405.51,363.49 406.20,363.50 406.88,363.51 407.56,363.53 408.24,363.54 408.93,363.55 409.61,363.56 410.29,363.57 410.98,363.58 411.66,363.59 412.34,363.60 413.02,363.61 413.71,363.62 414.39,363.63 415.07,363.63 415.76,363.64 416.44,363.65 417.12,363.65 417.81,363.66 418.49,363.67 419.17,363.67 419.85,363.68 420.54,363.68 421.22,363.69 421.90,363.69 422.59,363.70 423.27,363.70 423.95,363.71 424.63,363.71 425.32,363.72 426.00,363.72" fill="none" stroke="#4f8cad" stroke-width="0.8" stroke-linejoin="round" stroke-linecap="round" />
<polyline points="290.10,363.84 290.78,363.84 291.47,363.84 292.15,363.84 292.83,363.84 293.51,363.84 294.20,363.83 294.88,363.83 295.56,363.83 296.25,363.83 296.93,363.83 297.61,363.83 298.29,363.83 298.98,363.83 299.66,363.82 300.34,363.82 301.03,363.82 301.71,363.82 302.39,363.82 303.08,363.82 303.76,363.82 304.44,363.82 305.12,363.81 305.81,363.81 306.49,363.81 307.17,363.81 307.86,363.81 308.54,363.81 309.22,363.80 309.90,363.80 310.59,363.80 311.27,363.80 311.95,363.80 312.64,363.79 313.32,363.79 314.00,363.79 314.68,363.79 315.37,363.79 316.05,363.78 316.73,363.78 317.42,363.78 318.10,363.78 318.78,363.77 319.47,363.77 320.15,363.77 320.83,363.76 321.51,363.76 322.20,363.76 322.88,363.75 323.56,363.75 324.25,363.75 324.93,363.74 325.61,363.74 326.29,363.74 326.98,363.73 327.66,363.73 328.34,363.72 329.03,363.72 329.71,363.72 330.39,363.71 331.07,363.71 331.76,363.70 332.44,363.69 333.12,363.69 333.81,363.68 334.49,363.68 335.17,363.67 335.86,363.66 336.54,363.66 337.22,363.65 337.90,363.64 338.59,363.63 339.27,363.63 339.95,363.62 340.64,363.61 341.32,363.60 342.00,363.59 342.68,363.58 343.37,363.56 344.05,363.55 344.73,363.54 345.42,363.52 346.10,363.51 346.78,363.49 347.46,363.47 348.15,363.45 348.83,363.43 349.51,363.40 350.20,363.37 350.88,363.33 351.56,363.29 352.25,363.24 352.93,363.18 353.61,363.11 354.29,363.03 354.98,362.93 355.66,362.80 356.34,362.66 357.03,362.48 357.71,362.28 358.39,362.03 359.07,361.74 359.76,361.39 360.44,360.99 361.12,360.52 361.81,359.97 362.49,359.34 363.17,358.62 363.85,357.80 364.54,356.88 365.22,355.84 365.90,354.69 366.59,353.42 367.27,352.03 367.95,350.53 368.64,348.90 369.32,347.18 370.00,345.35 370.68,343.44 371.37,341.46 372.05,339.43 372.73,337.37 373.42,335.31 374.10,333.28 374.78,331.30 375.46,329.41 376.15,327.63 376.83,326.01 377.51,324.58 378.20,323.36 378.88,322.38 379.56,321.67 380.24,321.24 380.93,321.10 381.61,321.26 382.29,321.71 382.98,322.45 383.66,323.45 384.34,324.69 385.03,326.14 385.71,327.77 386.39,329.56 387.07,331.46 387.76,333.44 388.44,335.48 389.12,337.54 389.81,339.59 390.49,341.62 391.17,343.60 391.85,345.50 392.54,347.32 393.22,349.04 393.90,350.65 394.59,352.15 395.27,353.53 395.95,354.79 396.63,355.93 397.32,356.96 398.00,357.87 398.68,358.68 399.37,359.39 400.05,360.02 400.73,360.56 401.42,361.02 402.10,361.42 402.78,361.76 403.46,362.05 404.15,362.29 404.83,362.50 405.51,362.67 406.20,362.81 406.88,362.93 407.56,363.03 408.24,363.12 408.93,363.19 409.61,363.25 410.29,363.30 410.98,363.34 411.66,363.37 412.34,363.40 413.02,363.43 413.71,363.45 414.39,363.47 415.07,363.49 415.76,363.51 416.44,363.53 417.12,363.54 417.81,363.55 418.49,363.57 419.17,363.58 419.85,363.59 420.54,363.60 421.22,363.61 421.90,363.62 422.59,363.63 423.27,363.63 423.95,363.64 424.63,363.65 425.32,363.66 426.00,363.66" fill="none" stroke="#85c785" stroke-width="0.8" stroke-linejoin="round" stroke-linecap="round" />
<polyline points="290.00,364.30 290.68,364.31 291.37,364.32 292.05,364.34 292.73,364.35 293.42,364.36 294.10,364.37 294.78,364.38 295.47,364.38 296.15,364.39 296.83,364.40 297.52,364.41 298.20,364.42 298.88,364.42 299.57,364.43 300.25,364.44 300.93,364.44 301.62,364.45 302.30,364.45 302.98,364.46 303.67,364.46 304.35,364.47 305.04,364.47 305.72,364.47 306.40,364.48 307.09,364.48 307.77,364.48 308.45,364.48 309.14,364.49 309.82,364.49 310.50,364.49 311.19,364.49 311.87,364.49 312.55,364.49 313.24,364.50 313.92,364.50 314.60,364.50 315.29,364.50 315.97,364.50 316.65,364.50 317.34,364.50 318.02,364.50 318.70,364.50 319.39,364.50 320.07,364.50 320.75,364.50 321.44,364.50 322.12,364.50 322.80,364.50 323.49,364.46 324.17,364.38 324.85,364.26 325.54,364.11 326.22,363.93 326.90,363.72 327.59,363.49 328.27,363.23 328.95,362.96 329.64,362.66 330.32,362.35 331.01,362.03 331.69,361.70 332.37,361.36 333.06,361.00 333.74,360.56 334.42,360.05 335.11,359.47 335.79,358.83 336.47,358.13 337.16,357.38 337.84,356.58 338.52,355.74 339.21,354.86 339.89,353.95 340.57,352.96 341.26,351.80 341.94,350.52 342.62,349.12 343.31,347.64 343.99,346.11 344.67,344.55 345.36,342.98 346.04,341.35 346.72,339.64 347.41,337.83 348.09,335.92 348.77,333.88 349.46,331.58 350.14,328.98 350.82,326.24 351.51,323.54 352.19,321.03 352.87,318.83 353.56,316.76 354.24,314.80 354.92,312.91 355.61,311.09 356.29,309.33 356.97,307.61 357.66,305.91 358.34,304.17 359.03,302.42 359.71,300.69 360.39,299.05 361.08,297.53 361.76,296.19 362.44,295.08 363.13,294.12 363.81,293.16 364.49,292.22 365.18,291.33 365.86,290.51 366.54,289.78 367.23,289.17 367.91,288.71 368.59,288.41 369.28,288.30 369.96,288.52 370.64,289.16 371.33,290.13 372.01,291.35 372.69,292.74 373.38,294.20 374.06,295.66 374.74,297.03 375.43,298.27 376.11,299.54 376.79,300.84 377.48,302.19 378.16,303.57 378.84,304.99 379.53,306.46 380.21,307.97 380.89,309.51 381.58,311.10 382.26,312.73 382.94,314.43 383.63,316.19 384.31,318.04 384.99,319.99 385.68,322.11 386.36,324.46 387.05,326.95 387.73,329.50 388.41,332.05 389.10,334.51 389.78,336.80 390.46,338.94 391.15,341.10 391.83,343.25 392.51,345.32 393.20,347.25 393.88,349.00 394.56,350.50 395.25,351.71 395.93,352.81 396.61,353.85 397.30,354.82 397.98,355.74 398.66,356.58 399.35,357.36 400.03,358.07 400.71,358.70 401.40,359.26 402.08,359.74 402.76,360.15 403.45,360.54 404.13,360.91 404.81,361.27 405.50,361.62 406.18,361.96 406.86,362.28 407.55,362.58 408.23,362.87 408.91,363.13 409.60,363.38 410.28,363.61 410.96,363.81 411.65,363.99 412.33,364.15 413.02,364.28 413.70,364.38 414.38,364.46 415.07,364.50 415.75,364.54 416.43,364.57 417.12,364.60 417.80,364.63 418.48,364.65 419.17,364.68 419.85,364.70 420.53,364.72 421.22,364.74 421.90,364.75 422.58,364.77 423.27,364.78 423.95,364.79 424.63,364.79 425.32,364.80 426.00,364.80" fill="none" stroke="#5c2f62" stroke-width="1.15" stroke-linejoin="round" stroke-linecap="round" />
<polyline points="290.50,376.20 291.18,376.18 291.86,376.17 292.54,376.16 293.22,376.14 293.90,376.13 294.59,376.12 295.27,376.11 295.95,376.10 296.63,376.09 297.31,376.08 297.99,376.07 298.67,376.06 299.35,376.05 300.03,376.05 300.71,376.04 301.39,376.03 302.08,376.03 302.76,376.02 303.44,376.02 304.12,376.02 304.80,376.01 305.48,376.01 306.16,376.01 306.84,376.00 307.52,376.00 308.20,376.00 308.88,376.00 309.57,376.00 310.25,376.00 310.93,376.00 311.61,376.01 312.29,376.01 312.97,376.02 313.65,376.03 314.33,376.04 315.01,376.05 315.69,376.06 316.37,376.07 317.06,376.09 317.74,376.10 318.42,376.11 319.10,376.13 319.78,376.15 320.46,376.16 321.14,376.18 321.82,376.19 322.50,376.21 323.18,376.22 323.86,376.23 324.55,376.25 325.23,376.26 325.91,376.27 326.59,376.28 327.27,376.28 327.95,376.29 328.63,376.30 329.31,376.30 329.99,376.30 330.67,376.30 331.35,376.29 332.04,376.27 332.72,376.26 333.40,376.23 334.08,376.21 334.76,376.18 335.44,376.15 336.12,376.12 336.80,376.08 337.48,376.05 338.16,376.02 338.84,375.98 339.53,375.95 340.21,375.92 340.89,375.89 341.57,375.87 342.25,375.84 342.93,375.83 343.61,375.81 344.29,375.80 344.97,375.80 345.65,375.81 346.33,375.82 347.02,375.85 347.70,375.88 348.38,375.92 349.06,375.96 349.74,376.00 350.42,376.04 351.10,376.07 351.78,376.09 352.46,376.10 353.14,376.07 353.82,375.91 354.51,375.65 355.19,375.32 355.87,374.95 356.55,374.57 357.23,374.22 357.91,373.92 358.59,373.70 359.27,373.60 359.95,373.68 360.63,373.96 361.31,374.39 361.99,374.90 362.68,375.42 363.36,375.91 364.04,376.38 364.72,376.94 365.40,377.52 366.08,378.05 366.76,378.44 367.44,378.60 368.12,378.44 368.80,377.99 369.48,377.37 370.17,376.70 370.85,376.11 371.53,375.61 372.21,375.04 372.89,374.52 373.57,374.13 374.25,374.00 374.93,374.21 375.61,374.71 376.29,375.36 376.97,376.04 377.66,376.63 378.34,377.30 379.02,378.05 379.70,378.74 380.38,379.23 381.06,379.40 381.74,379.17 382.42,378.65 383.10,377.94 383.78,377.17 384.46,376.45 385.15,375.90 385.83,375.37 386.51,374.82 387.19,374.32 387.87,373.91 388.55,373.65 389.23,373.62 389.91,373.81 390.59,374.18 391.27,374.65 391.95,375.14 392.64,375.59 393.32,376.14 394.00,376.76 394.68,377.34 395.36,377.72 396.04,377.79 396.72,377.65 397.40,377.39 398.08,377.08 398.76,376.77 399.44,376.52 400.13,376.38 400.81,376.30 401.49,376.22 402.17,376.15 402.85,376.09 403.53,376.04 404.21,376.01 404.89,376.00 405.57,376.00 406.25,376.00 406.93,376.00 407.62,376.00 408.30,376.00 408.98,376.00 409.66,376.00 410.34,376.00 411.02,376.00 411.70,376.00 412.38,376.00 413.06,376.01 413.74,376.01 414.42,376.01 415.11,376.01 415.79,376.01 416.47,376.02 417.15,376.02 417.83,376.02 418.51,376.03 419.19,376.03 419.87,376.04 420.55,376.04 421.23,376.05 421.91,376.05 422.60,376.06 423.28,376.07 423.96,376.07 424.64,376.08 425.32,376.09 426.00,376.10" fill="none" stroke="#8a8a8a" stroke-width="0.7" stroke-linejoin="round" stroke-linecap="round" />
<text x="293.6" y="300.5" font-size="6.3" fill="#2b2b2b" stroke="#2b2b2b" stroke-width="0.12" textLength="26.2" lengthAdjust="spacingAndGlyphs">Wild Type</text>
<line x1="293.6" y1="310.2" x2="307.7" y2="310.2" stroke="#5c2f62" stroke-width="1.4" />
<text x="310.8" y="312.4" font-size="6.3" fill="#2b2b2b" stroke="#2b2b2b" stroke-width="0.12" textLength="22" lengthAdjust="spacingAndGlyphs">A1A2A3</text>
<line x1="293.6" y1="319.5" x2="307.7" y2="319.5" stroke="#4f8cad" stroke-width="0.8" />
<text x="310.8" y="321.7" font-size="6.3" fill="#2b2b2b" stroke="#2b2b2b" stroke-width="0.12" textLength="6.8" lengthAdjust="spacingAndGlyphs">A1</text>
<line x1="293.6" y1="328.6" x2="307.7" y2="328.6" stroke="#d4587a" stroke-width="0.8" />
<text x="310.8" y="330.8" font-size="6.3" fill="#2b2b2b" stroke="#2b2b2b" stroke-width="0.12" textLength="6.8" lengthAdjust="spacingAndGlyphs">A2</text>
<line x1="293.6" y1="337.5" x2="307.7" y2="337.5" stroke="#85c785" stroke-width="0.8" />
<text x="310.8" y="339.7" font-size="6.3" fill="#2b2b2b" stroke="#2b2b2b" stroke-width="0.12" textLength="6.8" lengthAdjust="spacingAndGlyphs">A3</text>
<line x1="289.6" y1="397.3" x2="289.6" y2="491.2" stroke="#1a1a1a" stroke-width="1.0" />
<line x1="289.6" y1="472" x2="426.5" y2="472" stroke="#1a1a1a" stroke-width="1.2" />
<line x1="289.6" y1="491.2" x2="426.5" y2="491.2" stroke="#1a1a1a" stroke-width="1.0" />
<line x1="309.4" y1="472" x2="309.4" y2="474.6" stroke="#1a1a1a" stroke-width="0.8" />
<line x1="309.4" y1="491.2" x2="309.4" y2="493.8" stroke="#1a1a1a" stroke-width="0.8" />
<line x1="338.6" y1="472" x2="338.6" y2="474.6" stroke="#1a1a1a" stroke-width="0.8" />
<line x1="338.6" y1="491.2" x2="338.6" y2="493.8" stroke="#1a1a1a" stroke-width="0.8" />
<line x1="367.8" y1="472" x2="367.8" y2="474.6" stroke="#1a1a1a" stroke-width="0.8" />
<line x1="367.8" y1="491.2" x2="367.8" y2="493.8" stroke="#1a1a1a" stroke-width="0.8" />
<line x1="397" y1="472" x2="397" y2="474.6" stroke="#1a1a1a" stroke-width="0.8" />
<line x1="397" y1="491.2" x2="397" y2="493.8" stroke="#1a1a1a" stroke-width="0.8" />
<line x1="426.2" y1="472" x2="426.2" y2="474.6" stroke="#1a1a1a" stroke-width="0.8" />
<line x1="426.2" y1="491.2" x2="426.2" y2="493.8" stroke="#1a1a1a" stroke-width="0.8" />
<line x1="286.4" y1="470.7" x2="289.6" y2="470.7" stroke="#1a1a1a" stroke-width="0.8" />
<text x="283.3" y="473" font-size="7.31" text-anchor="end" fill="#2a2a2a" stroke="#2a2a2a" stroke-width="0.25" textLength="3.62" lengthAdjust="spacingAndGlyphs">0</text>
<line x1="286.4" y1="449.53" x2="289.6" y2="449.53" stroke="#1a1a1a" stroke-width="0.8" />
<text x="283.3" y="451.83" font-size="7.31" text-anchor="end" fill="#2a2a2a" stroke="#2a2a2a" stroke-width="0.25" textLength="7.24" lengthAdjust="spacingAndGlyphs">20</text>
<line x1="286.4" y1="428.37" x2="289.6" y2="428.37" stroke="#1a1a1a" stroke-width="0.8" />
<text x="283.3" y="430.67" font-size="7.31" text-anchor="end" fill="#2a2a2a" stroke="#2a2a2a" stroke-width="0.25" textLength="7.24" lengthAdjust="spacingAndGlyphs">40</text>
<line x1="286.4" y1="407.2" x2="289.6" y2="407.2" stroke="#1a1a1a" stroke-width="0.8" />
<text x="283.3" y="409.5" font-size="7.31" text-anchor="end" fill="#2a2a2a" stroke="#2a2a2a" stroke-width="0.25" textLength="7.24" lengthAdjust="spacingAndGlyphs">60</text>
<line x1="286.4" y1="477.3" x2="289.6" y2="477.3" stroke="#1a1a1a" stroke-width="0.8" />
<line x1="286.4" y1="482.6" x2="289.6" y2="482.6" stroke="#1a1a1a" stroke-width="0.8" />
<line x1="286.4" y1="487.9" x2="289.6" y2="487.9" stroke="#1a1a1a" stroke-width="0.8" />
<text x="283" y="477.3" font-size="5.26" text-anchor="middle" fill="#2a2a2a" stroke="#2a2a2a" stroke-width="0.25" textLength="2.6" lengthAdjust="spacingAndGlyphs" transform="rotate(-90 283 477.3)">3</text>
<text x="283" y="482.6" font-size="5.26" text-anchor="middle" fill="#2a2a2a" stroke="#2a2a2a" stroke-width="0.25" textLength="2.6" lengthAdjust="spacingAndGlyphs" transform="rotate(-90 283 482.6)">0</text>
<text x="283" y="487.9" font-size="5.26" text-anchor="middle" fill="#2a2a2a" stroke="#2a2a2a" stroke-width="0.25" textLength="4.16" lengthAdjust="spacingAndGlyphs" transform="rotate(-90 283 487.9)">-3</text>
<text x="267.4" y="432" font-size="8" text-anchor="middle" fill="#262626" stroke="#262626" stroke-width="0.25" textLength="41.5" lengthAdjust="spacingAndGlyphs" transform="rotate(-90 267.4 432)">C<tspan font-size="5" dy="1">p</tspan><tspan dy="-1"> (kJ/mol•K)</tspan></text>
<text x="270.8" y="481" font-size="8" text-anchor="middle" fill="#262626" stroke="#262626" stroke-width="0.25" textLength="28.4" lengthAdjust="spacingAndGlyphs" transform="rotate(-90 270.8 481)">Residuals</text>
<text x="310.2" y="503.3" font-size="7.31" text-anchor="middle" fill="#2a2a2a" stroke="#2a2a2a" stroke-width="0.25" textLength="7.24" lengthAdjust="spacingAndGlyphs">40</text>
<text x="339.4" y="503.3" font-size="7.31" text-anchor="middle" fill="#2a2a2a" stroke="#2a2a2a" stroke-width="0.25" textLength="7.24" lengthAdjust="spacingAndGlyphs">50</text>
<text x="368.6" y="503.3" font-size="7.31" text-anchor="middle" fill="#2a2a2a" stroke="#2a2a2a" stroke-width="0.25" textLength="7.24" lengthAdjust="spacingAndGlyphs">60</text>
<text x="397.8" y="503.3" font-size="7.31" text-anchor="middle" fill="#2a2a2a" stroke="#2a2a2a" stroke-width="0.25" textLength="7.24" lengthAdjust="spacingAndGlyphs">70</text>
<text x="427" y="503.3" font-size="7.31" text-anchor="middle" fill="#2a2a2a" stroke="#2a2a2a" stroke-width="0.25" textLength="7.24" lengthAdjust="spacingAndGlyphs">80</text>
<text x="359" y="515.4" font-size="8.6" text-anchor="middle" fill="#262626" stroke="#262626" stroke-width="0.25" textLength="51.3" lengthAdjust="spacingAndGlyphs">Temperature (°C)</text>
<polyline points="290.10,470.47 290.78,470.46 291.47,470.45 292.15,470.45 292.83,470.44 293.51,470.43 294.20,470.43 294.88,470.42 295.56,470.41 296.25,470.40 296.93,470.39 297.61,470.38 298.29,470.38 298.98,470.37 299.66,470.36 300.34,470.34 301.03,470.33 301.71,470.32 302.39,470.31 303.08,470.30 303.76,470.28 304.44,470.27 305.12,470.25 305.81,470.24 306.49,470.22 307.17,470.20 307.86,470.18 308.54,470.16 309.22,470.14 309.90,470.12 310.59,470.10 311.27,470.07 311.95,470.04 312.64,470.01 313.32,469.98 314.00,469.94 314.68,469.90 315.37,469.86 316.05,469.81 316.73,469.75 317.42,469.68 318.10,469.60 318.78,469.51 319.47,469.41 320.15,469.29 320.83,469.15 321.51,468.99 322.20,468.79 322.88,468.57 323.56,468.31 324.25,468.00 324.93,467.65 325.61,467.25 326.29,466.79 326.98,466.26 327.66,465.67 328.34,465.00 329.03,464.26 329.71,463.44 330.39,462.55 331.07,461.57 331.76,460.52 332.44,459.40 333.12,458.21 333.81,456.97 334.49,455.68 335.17,454.36 335.86,453.03 336.54,451.71 337.22,450.42 337.90,449.18 338.59,448.02 339.27,446.97 339.95,446.06 340.64,445.32 341.32,444.76 342.00,444.42 342.68,444.30 343.37,444.41 344.05,444.74 344.73,445.29 345.42,446.02 346.10,446.93 346.78,447.97 347.46,449.13 348.15,450.36 348.83,451.65 349.51,452.97 350.20,454.30 350.88,455.62 351.56,456.91 352.25,458.15 352.93,459.34 353.61,460.47 354.29,461.52 354.98,462.50 355.66,463.40 356.34,464.23 357.03,464.97 357.71,465.64 358.39,466.24 359.07,466.76 359.76,467.23 360.44,467.63 361.12,467.99 361.81,468.29 362.49,468.56 363.17,468.78 363.85,468.98 364.54,469.14 365.22,469.28 365.90,469.41 366.59,469.51 367.27,469.60 367.95,469.68 368.64,469.74 369.32,469.80 370.00,469.85 370.68,469.90 371.37,469.94 372.05,469.98 372.73,470.01 373.42,470.04 374.10,470.07 374.78,470.10 375.46,470.12 376.15,470.14 376.83,470.16 377.51,470.18 378.20,470.20 378.88,470.22 379.56,470.24 380.24,470.25 380.93,470.27 381.61,470.28 382.29,470.30 382.98,470.31 383.66,470.32 384.34,470.33 385.03,470.34 385.71,470.35 386.39,470.36 387.07,470.37 387.76,470.38 388.44,470.39 389.12,470.40 389.81,470.41 390.49,470.42 391.17,470.43 391.85,470.43 392.54,470.44 393.22,470.45 393.90,470.45 394.59,470.46 395.27,470.47 395.95,470.47 396.63,470.48 397.32,470.48 398.00,470.49 398.68,470.49 399.37,470.50 400.05,470.50 400.73,470.51 401.42,470.51 402.10,470.52 402.78,470.52 403.46,470.52 404.15,470.53 404.83,470.53 405.51,470.53 406.20,470.54 406.88,470.54 407.56,470.54 408.24,470.55 408.93,470.55 409.61,470.55 410.29,470.56 410.98,470.56 411.66,470.56 412.34,470.56 413.02,470.57 413.71,470.57 414.39,470.57 415.07,470.57 415.76,470.58 416.44,470.58 417.12,470.58 417.81,470.58 418.49,470.59 419.17,470.59 419.85,470.59 420.54,470.59 421.22,470.59 421.90,470.59 422.59,470.60 423.27,470.60 423.95,470.60 424.63,470.60 425.32,470.60 426.00,470.60" fill="none" stroke="#d4587a" stroke-width="0.8" stroke-linejoin="round" stroke-linecap="round" />
<polyline points="290.10,470.55 290.78,470.55 291.47,470.54 292.15,470.54 292.83,470.54 293.51,470.53 294.20,470.53 294.88,470.52 295.56,470.52 296.25,470.52 296.93,470.51 297.61,470.51 298.29,470.50 298.98,470.50 299.66,470.49 300.34,470.49 301.03,470.48 301.71,470.48 302.39,470.47 303.08,470.47 303.76,470.46 304.44,470.45 305.12,470.45 305.81,470.44 306.49,470.43 307.17,470.43 307.86,470.42 308.54,470.41 309.22,470.40 309.90,470.39 310.59,470.39 311.27,470.38 311.95,470.37 312.64,470.36 313.32,470.34 314.00,470.33 314.68,470.32 315.37,470.31 316.05,470.30 316.73,470.28 317.42,470.27 318.10,470.25 318.78,470.24 319.47,470.22 320.15,470.20 320.83,470.18 321.51,470.16 322.20,470.14 322.88,470.12 323.56,470.09 324.25,470.07 324.93,470.04 325.61,470.01 326.29,469.97 326.98,469.93 327.66,469.89 328.34,469.84 329.03,469.79 329.71,469.72 330.39,469.65 331.07,469.57 331.76,469.47 332.44,469.36 333.12,469.23 333.81,469.08 334.49,468.90 335.17,468.69 335.86,468.44 336.54,468.16 337.22,467.83 337.90,467.45 338.59,467.02 339.27,466.53 339.95,465.97 340.64,465.34 341.32,464.64 342.00,463.86 342.68,463.01 343.37,462.08 344.05,461.07 344.73,459.99 345.42,458.85 346.10,457.65 346.78,456.41 347.46,455.13 348.15,453.83 348.83,452.53 349.51,451.26 350.20,450.03 350.88,448.87 351.56,447.81 352.25,446.88 352.93,446.10 353.61,445.50 354.29,445.10 354.98,444.91 355.66,444.95 356.34,445.21 357.03,445.68 357.71,446.35 358.39,447.18 359.07,448.17 359.76,449.26 360.44,450.45 361.12,451.70 361.81,452.98 362.49,454.28 363.17,455.57 363.85,456.84 364.54,458.07 365.22,459.25 365.90,460.37 366.59,461.43 367.27,462.41 367.95,463.31 368.64,464.14 369.32,464.89 370.00,465.56 370.68,466.17 371.37,466.70 372.05,467.18 372.73,467.59 373.42,467.95 374.10,468.26 374.78,468.53 375.46,468.76 376.15,468.96 376.83,469.13 377.51,469.28 378.20,469.40 378.88,469.51 379.56,469.60 380.24,469.68 380.93,469.75 381.61,469.81 382.29,469.86 382.98,469.91 383.66,469.95 384.34,469.98 385.03,470.02 385.71,470.05 386.39,470.08 387.07,470.10 387.76,470.13 388.44,470.15 389.12,470.17 389.81,470.19 390.49,470.21 391.17,470.23 391.85,470.24 392.54,470.26 393.22,470.27 393.90,470.29 394.59,470.30 395.27,470.31 395.95,470.33 396.63,470.34 397.32,470.35 398.00,470.36 398.68,470.37 399.37,470.38 400.05,470.39 400.73,470.40 401.42,470.41 402.10,470.41 402.78,470.42 403.46,470.43 404.15,470.44 404.83,470.44 405.51,470.45 406.20,470.46 406.88,470.46 407.56,470.47 408.24,470.47 408.93,470.48 409.61,470.49 410.29,470.49 410.98,470.50 411.66,470.50 412.34,470.51 413.02,470.51 413.71,470.51 414.39,470.52 415.07,470.52 415.76,470.53 416.44,470.53 417.12,470.53 417.81,470.54 418.49,470.54 419.17,470.54 419.85,470.55 420.54,470.55 421.22,470.55 421.90,470.56 422.59,470.56 423.27,470.56 423.95,470.56 424.63,470.57 425.32,470.57 426.00,470.57" fill="none" stroke="#4f8cad" stroke-width="0.8" stroke-linejoin="round" stroke-linecap="round" />
<polyline points="290.10,470.65 290.78,470.65 291.47,470.65 292.15,470.65 292.83,470.65 293.51,470.65 294.20,470.65 294.88,470.64 295.56,470.64 296.25,470.64 296.93,470.64 297.61,470.64 298.29,470.64 298.98,470.64 299.66,470.64 300.34,470.64 301.03,470.64 301.71,470.63 302.39,470.63 303.08,470.63 303.76,470.63 304.44,470.63 305.12,470.63 305.81,470.63 306.49,470.63 307.17,470.63 307.86,470.62 308.54,470.62 309.22,470.62 309.90,470.62 310.59,470.62 311.27,470.62 311.95,470.61 312.64,470.61 313.32,470.61 314.00,470.61 314.68,470.61 315.37,470.61 316.05,470.60 316.73,470.60 317.42,470.60 318.10,470.60 318.78,470.60 319.47,470.59 320.15,470.59 320.83,470.59 321.51,470.59 322.20,470.58 322.88,470.58 323.56,470.58 324.25,470.58 324.93,470.57 325.61,470.57 326.29,470.57 326.98,470.56 327.66,470.56 328.34,470.56 329.03,470.55 329.71,470.55 330.39,470.55 331.07,470.54 331.76,470.54 332.44,470.53 333.12,470.53 333.81,470.53 334.49,470.52 335.17,470.52 335.86,470.51 336.54,470.51 337.22,470.50 337.90,470.49 338.59,470.49 339.27,470.48 339.95,470.47 340.64,470.47 341.32,470.46 342.00,470.45 342.68,470.44 343.37,470.44 344.05,470.43 344.73,470.42 345.42,470.41 346.10,470.40 346.78,470.39 347.46,470.37 348.15,470.36 348.83,470.35 349.51,470.34 350.20,470.32 350.88,470.31 351.56,470.29 352.25,470.27 352.93,470.25 353.61,470.23 354.29,470.20 354.98,470.17 355.66,470.14 356.34,470.10 357.03,470.06 357.71,470.01 358.39,469.95 359.07,469.87 359.76,469.78 360.44,469.67 361.12,469.54 361.81,469.38 362.49,469.18 363.17,468.94 363.85,468.65 364.54,468.30 365.22,467.88 365.90,467.38 366.59,466.79 367.27,466.11 367.95,465.31 368.64,464.39 369.32,463.35 370.00,462.17 370.68,460.85 371.37,459.40 372.05,457.80 372.73,456.08 373.42,454.23 374.10,452.28 374.78,450.24 375.46,448.14 376.15,446.02 376.83,443.89 377.51,441.81 378.20,439.82 378.88,437.95 379.56,436.25 380.24,434.78 380.93,433.56 381.61,432.64 382.29,432.05 382.98,431.81 383.66,431.92 384.34,432.39 385.03,433.19 385.71,434.30 386.39,435.69 387.07,437.31 387.76,439.12 388.44,441.08 389.12,443.13 389.81,445.25 390.49,447.38 391.17,449.49 391.85,451.55 392.54,453.53 393.22,455.42 393.90,457.19 394.59,458.84 395.27,460.34 395.95,461.71 396.63,462.94 397.32,464.03 398.00,464.99 398.68,465.83 399.37,466.56 400.05,467.18 400.73,467.71 401.42,468.15 402.10,468.53 402.78,468.84 403.46,469.10 404.15,469.31 404.83,469.48 405.51,469.63 406.20,469.74 406.88,469.84 407.56,469.92 408.24,469.99 408.93,470.04 409.61,470.09 410.29,470.13 410.98,470.16 411.66,470.19 412.34,470.22 413.02,470.24 413.71,470.26 414.39,470.28 415.07,470.30 415.76,470.32 416.44,470.33 417.12,470.34 417.81,470.36 418.49,470.37 419.17,470.38 419.85,470.39 420.54,470.40 421.22,470.41 421.90,470.42 422.59,470.43 423.27,470.44 423.95,470.45 424.63,470.46 425.32,470.46 426.00,470.47" fill="none" stroke="#85c785" stroke-width="0.8" stroke-linejoin="round" stroke-linecap="round" />
<polyline points="290.00,471.00 290.68,471.00 291.37,471.00 292.05,471.00 292.73,470.99 293.42,470.99 294.10,470.99 294.78,470.98 295.47,470.97 296.15,470.97 296.83,470.96 297.52,470.95 298.20,470.94 298.88,470.93 299.57,470.92 300.25,470.90 300.93,470.89 301.62,470.87 302.30,470.86 302.98,470.84 303.67,470.82 304.35,470.81 305.04,470.79 305.72,470.76 306.40,470.74 307.09,470.72 307.77,470.70 308.45,470.67 309.14,470.64 309.82,470.62 310.50,470.59 311.19,470.56 311.87,470.53 312.55,470.50 313.24,470.44 313.92,470.35 314.60,470.22 315.29,470.06 315.97,469.87 316.65,469.65 317.34,469.40 318.02,469.14 318.70,468.85 319.39,468.54 320.07,468.22 320.75,467.89 321.44,467.55 322.12,467.20 322.80,466.84 323.49,466.43 324.17,465.96 324.85,465.45 325.54,464.88 326.22,464.26 326.90,463.60 327.59,462.88 328.27,462.12 328.95,461.31 329.64,460.47 330.32,459.56 331.01,458.48 331.69,457.25 332.37,455.89 333.06,454.43 333.74,452.90 334.42,451.33 335.11,449.75 335.79,448.00 336.47,446.06 337.16,444.07 337.84,442.17 338.52,440.49 339.21,439.08 339.89,437.76 340.57,436.54 341.26,435.43 341.94,434.44 342.62,433.61 343.31,432.81 343.99,432.00 344.67,431.24 345.36,430.57 346.04,430.03 346.72,429.66 347.41,429.50 348.09,429.58 348.77,429.86 349.46,430.30 350.14,430.88 350.82,431.57 351.51,432.34 352.19,433.15 352.87,433.97 353.56,434.78 354.24,435.60 354.92,436.57 355.61,437.66 356.29,438.82 356.97,440.04 357.66,441.26 358.34,442.45 359.03,443.58 359.71,444.60 360.39,445.53 361.08,446.52 361.76,447.55 362.44,448.57 363.13,449.53 363.81,450.40 364.49,451.12 365.18,451.65 365.86,451.95 366.54,451.98 367.23,451.82 367.91,451.51 368.59,451.08 369.28,450.55 369.96,449.96 370.64,449.33 371.33,448.68 372.01,447.84 372.69,446.76 373.38,445.51 374.06,444.16 374.74,442.78 375.43,441.44 376.11,440.23 376.79,439.11 377.48,437.94 378.16,436.79 378.84,435.71 379.53,434.75 380.21,434.00 380.89,433.44 381.58,432.93 382.26,432.48 382.94,432.15 383.63,432.00 384.31,432.09 384.99,432.42 385.68,432.96 386.36,433.64 387.05,434.43 387.73,435.33 388.41,436.80 389.10,438.81 389.78,441.14 390.46,443.58 391.15,445.92 391.83,448.19 392.51,450.67 393.20,453.19 393.88,455.57 394.56,457.66 395.25,459.30 395.93,460.78 396.61,462.17 397.30,463.45 397.98,464.60 398.66,465.59 399.35,466.41 400.03,467.02 400.71,467.52 401.40,467.99 402.08,468.42 402.76,468.82 403.45,469.17 404.13,469.50 404.81,469.78 405.50,470.02 406.18,470.23 406.86,470.39 407.55,470.51 408.23,470.60 408.91,470.69 409.60,470.78 410.28,470.86 410.96,470.93 411.65,471.00 412.33,471.07 413.02,471.13 413.70,471.18 414.38,471.23 415.07,471.28 415.75,471.32 416.43,471.36 417.12,471.40 417.80,471.43 418.48,471.45 419.17,471.48 419.85,471.50 420.53,471.51 421.22,471.53 421.90,471.55 422.58,471.56 423.27,471.57 423.95,471.58 424.63,471.59 425.32,471.60 426.00,471.60" fill="none" stroke="#5c2f62" stroke-width="1.15" stroke-linejoin="round" stroke-linecap="round" />
<polyline points="290.50,482.20 291.04,482.27 291.59,482.33 292.13,482.39 292.68,482.44 293.22,482.49 293.77,482.54 294.31,482.58 294.85,482.62 295.40,482.66 295.94,482.69 296.49,482.72 297.03,482.74 297.57,482.76 298.12,482.78 298.66,482.79 299.21,482.80 299.75,482.80 300.30,482.80 300.84,482.79 301.38,482.78 301.93,482.75 302.47,482.73 303.02,482.69 303.56,482.65 304.10,482.60 304.65,482.55 305.19,482.50 305.74,482.44 306.28,482.37 306.83,482.31 307.37,482.24 307.91,482.16 308.46,482.09 309.00,482.01 309.55,481.93 310.09,481.85 310.63,481.77 311.18,481.69 311.72,481.60 312.27,481.52 312.81,481.44 313.36,481.36 313.90,481.28 314.44,481.20 314.99,481.12 315.53,481.05 316.08,480.98 316.62,480.91 317.16,480.85 317.71,480.79 318.25,480.73 318.80,480.66 319.34,480.59 319.89,480.52 320.43,480.45 320.97,480.37 321.52,480.30 322.06,480.22 322.61,480.15 323.15,480.07 323.69,480.00 324.24,479.93 324.78,479.86 325.33,479.79 325.87,479.73 326.42,479.67 326.96,479.61 327.50,479.56 328.05,479.52 328.59,479.48 329.14,479.45 329.68,479.43 330.22,479.41 330.77,479.40 331.31,479.42 331.86,479.52 332.40,479.72 332.95,479.99 333.49,480.32 334.03,480.71 334.58,481.14 335.12,481.64 335.67,482.72 336.21,483.80 336.76,483.83 337.30,482.76 337.84,481.72 338.39,481.48 338.93,481.38 339.48,481.30 340.02,481.19 340.56,481.02 341.11,480.77 341.65,480.50 342.20,480.21 342.74,479.93 343.29,479.69 343.83,479.51 344.37,479.41 344.92,479.42 345.46,479.54 346.01,479.76 346.55,480.04 347.09,480.36 347.64,480.70 348.18,481.05 348.73,481.36 349.27,481.64 349.82,481.96 350.36,482.31 350.90,482.67 351.45,483.02 351.99,483.35 352.54,483.63 353.08,483.84 353.62,483.97 354.17,483.99 354.71,483.88 355.26,483.65 355.80,483.33 356.35,482.95 356.89,482.55 357.43,482.15 357.98,481.79 358.52,481.49 359.07,481.21 359.61,480.91 360.15,480.61 360.70,480.31 361.24,480.03 361.79,479.79 362.33,479.59 362.88,479.46 363.42,479.40 363.96,479.42 364.51,479.48 365.05,479.59 365.60,479.73 366.14,479.90 366.68,480.09 367.23,480.31 367.77,480.54 368.32,480.77 368.86,481.01 369.41,481.25 369.95,481.48 370.49,481.73 371.04,482.04 371.58,482.39 372.13,482.78 372.67,483.19 373.21,483.60 373.76,483.99 374.30,484.37 374.85,484.71 375.39,484.99 375.94,485.21 376.48,485.35 377.02,485.40 377.57,485.28 378.11,484.97 378.66,484.52 379.20,483.96 379.74,483.33 380.29,482.69 380.83,482.07 381.38,481.51 381.92,481.05 382.47,480.68 383.01,480.28 383.55,479.88 384.10,479.50 384.64,479.16 385.19,478.88 385.73,478.69 386.28,478.60 386.82,478.65 387.36,478.85 387.91,479.18 388.45,479.60 389.00,480.09 389.54,480.62 390.08,481.16 390.63,481.67 391.17,482.15 391.72,482.72 392.26,483.38 392.81,484.09 393.35,484.79 393.89,485.45 394.44,486.01 394.98,486.43 395.53,486.67 396.07,486.69 396.61,486.62 397.16,486.49 397.70,486.30 398.25,486.07 398.79,485.81 399.34,485.52 399.88,485.22 400.42,484.92 400.97,484.62 401.51,484.34 402.06,484.08 402.60,483.85 403.14,483.66 403.69,483.53 404.23,483.45 404.78,483.38 405.32,483.32 405.87,483.26 406.41,483.20 406.95,483.15 407.50,483.09 408.04,483.05 408.59,483.00 409.13,482.96 409.67,482.92 410.22,482.88 410.76,482.85 411.31,482.81 411.85,482.78 412.40,482.75 412.94,482.72 413.48,482.69 414.03,482.66 414.57,482.62 415.12,482.59 415.66,482.56 416.20,482.53 416.75,482.50 417.29,482.47 417.84,482.44 418.38,482.41 418.93,482.38 419.47,482.36 420.01,482.33 420.56,482.31 421.10,482.28 421.65,482.26 422.19,482.23 422.73,482.21 423.28,482.19 423.82,482.17 424.37,482.15 424.91,482.13 425.46,482.12 426.00,482.10" fill="none" stroke="#8a8a8a" stroke-width="0.7" stroke-linejoin="round" stroke-linecap="round" />
<text x="293" y="404.9" font-size="6.3" fill="#2b2b2b" stroke="#2b2b2b" stroke-width="0.12" textLength="44.2" lengthAdjust="spacingAndGlyphs">C1669S/C1670S</text>
<line x1="293" y1="417" x2="307.7" y2="417" stroke="#5c2f62" stroke-width="1.4" />
<text x="310.8" y="419.2" font-size="6.3" fill="#2b2b2b" stroke="#2b2b2b" stroke-width="0.12" textLength="22" lengthAdjust="spacingAndGlyphs">A1A2A3</text>
<line x1="293" y1="425.8" x2="307.7" y2="425.8" stroke="#4f8cad" stroke-width="0.8" />
<text x="310.8" y="428" font-size="6.3" fill="#2b2b2b" stroke="#2b2b2b" stroke-width="0.12" textLength="6.8" lengthAdjust="spacingAndGlyphs">A1</text>
<line x1="293" y1="434.7" x2="307.7" y2="434.7" stroke="#d4587a" stroke-width="0.8" />
<text x="310.8" y="436.9" font-size="6.3" fill="#2b2b2b" stroke="#2b2b2b" stroke-width="0.12" textLength="6.8" lengthAdjust="spacingAndGlyphs">A2</text>
<line x1="293" y1="443.5" x2="307.7" y2="443.5" stroke="#85c785" stroke-width="0.8" />
<text x="310.8" y="445.7" font-size="6.3" fill="#2b2b2b" stroke="#2b2b2b" stroke-width="0.12" textLength="6.8" lengthAdjust="spacingAndGlyphs">A3</text>
<line x1="356.6" y1="333.75" x2="356.6" y2="409" stroke="#d4587a" stroke-width="0.8" />
<line x1="342.9" y1="407.2" x2="342.9" y2="444.5" stroke="#d4587a" stroke-width="0.8" />
<line x1="368.2" y1="312.5" x2="368.2" y2="415.7" stroke="#4f8cad" stroke-width="0.8" />
<line x1="355.1" y1="413.1" x2="355.1" y2="445.5" stroke="#4f8cad" stroke-width="0.8" />
<line x1="380.7" y1="322.5" x2="380.7" y2="388.5" stroke="#85c785" stroke-width="0.8" />
<line x1="382.2" y1="388.5" x2="382.2" y2="431.5" stroke="#85c785" stroke-width="0.8" />
<path d="M382.2,387.6 l-1.3,2.4 h2.6 z" fill="#7cc07c"/>
<path d="M343.6,407.5 L355.3,407.5 M343.6,407.5 l2,-1.3 M343.6,407.5 l2,1.3 M355.3,407.5 l-2,-1.3 M355.3,407.5 l-2,1.3" stroke="#222" stroke-width="0.8" fill="none"/>
<path d="M356.3,413.7 L367.1,413.7 M356.3,413.7 l2,-1.3 M356.3,413.7 l2,1.3 M367.1,413.7 l-2,-1.3 M367.1,413.7 l-2,1.3" stroke="#222" stroke-width="0.8" fill="none"/>
<rect x="437.7" y="266" width="2" height="8" fill="#000" />
<line x1="463.7" y1="282" x2="463.7" y2="329.2" stroke="#1a1a1a" stroke-width="1.0" />
<line x1="463.7" y1="329.2" x2="519.5" y2="329.2" stroke="#1a1a1a" stroke-width="1.0" />
<line x1="461.1" y1="286" x2="463.7" y2="286" stroke="#1a1a1a" stroke-width="0.8" />
<text x="457.5" y="288.2" font-size="6.86" text-anchor="end" fill="#2a2a2a" stroke="#2a2a2a" stroke-width="0.25" textLength="6.79" lengthAdjust="spacingAndGlyphs">56</text>
<line x1="461.1" y1="305.8" x2="463.7" y2="305.8" stroke="#1a1a1a" stroke-width="0.8" />
<text x="457.5" y="308" font-size="6.86" text-anchor="end" fill="#2a2a2a" stroke="#2a2a2a" stroke-width="0.25" textLength="6.79" lengthAdjust="spacingAndGlyphs">52</text>
<line x1="461.1" y1="325" x2="463.7" y2="325" stroke="#1a1a1a" stroke-width="0.8" />
<text x="457.5" y="327.2" font-size="6.86" text-anchor="end" fill="#2a2a2a" stroke="#2a2a2a" stroke-width="0.25" textLength="6.79" lengthAdjust="spacingAndGlyphs">48</text>
<rect x="466.2" y="285" width="14.4" height="43.7" fill="#124d8e" />
<rect x="484.4" y="305.8" width="14.4" height="22.9" fill="#d20a2e" />
<rect x="503" y="306.7" width="14.3" height="22" fill="#3aa83a" />
<line x1="473.4" y1="283" x2="473.4" y2="286.5" stroke="#222" stroke-width="0.6" />
<line x1="471.9" y1="283" x2="474.9" y2="283" stroke="#222" stroke-width="0.6" />
<line x1="471.9" y1="286.5" x2="474.9" y2="286.5" stroke="#222" stroke-width="0.6" />
<line x1="491.5" y1="304" x2="491.5" y2="306.5" stroke="#222" stroke-width="0.6" />
<line x1="490" y1="304" x2="493" y2="304" stroke="#222" stroke-width="0.6" />
<line x1="490" y1="306.5" x2="493" y2="306.5" stroke="#222" stroke-width="0.6" />
<line x1="509.8" y1="297.5" x2="509.8" y2="307" stroke="#222" stroke-width="0.6" />
<line x1="508.3" y1="297.5" x2="511.3" y2="297.5" stroke="#222" stroke-width="0.6" />
<line x1="508.3" y1="307" x2="511.3" y2="307" stroke="#222" stroke-width="0.6" />
<path d="M472.50,279.80 h1.8 M473.40,278.90 v1.8 M472.75,279.15 l1.3,1.3 M472.75,280.45 l1.3,-1.3" stroke="#3a3a3a" stroke-width="0.55"/>
<path d="M490.60,300.40 h1.8 M491.50,299.50 v1.8 M490.85,299.75 l1.3,1.3 M490.85,301.05 l1.3,-1.3" stroke="#3a3a3a" stroke-width="0.55"/>
<line x1="473.4" y1="329.2" x2="473.4" y2="332.4" stroke="#1a1a1a" stroke-width="0.7" />
<line x1="491.5" y1="329.2" x2="491.5" y2="332.4" stroke="#1a1a1a" stroke-width="0.7" />
<line x1="509.8" y1="329.2" x2="509.8" y2="332.4" stroke="#1a1a1a" stroke-width="0.7" />
<text x="519.3" y="280.2" font-size="6.4" text-anchor="end" fill="#4a6a90" stroke="#4a6a90" stroke-width="0.12" textLength="7.4" lengthAdjust="spacingAndGlyphs">A1</text>
<text x="442.5" y="306.6" font-size="7.4" text-anchor="middle" fill="#262626" stroke="#262626" stroke-width="0.25" transform="rotate(-90 442.5 306.6)">T<tspan font-size="4.6" dy="1.2">eq</tspan><tspan dy="-1.2"> (°C)</tspan></text>
<line x1="463.7" y1="350.9" x2="463.7" y2="396.4" stroke="#1a1a1a" stroke-width="1.0" />
<line x1="463.7" y1="396.4" x2="519.5" y2="396.4" stroke="#1a1a1a" stroke-width="1.0" />
<line x1="461.1" y1="353.2" x2="463.7" y2="353.2" stroke="#1a1a1a" stroke-width="0.8" />
<text x="457.5" y="355.4" font-size="6.86" text-anchor="end" fill="#2a2a2a" stroke="#2a2a2a" stroke-width="0.25" textLength="6.79" lengthAdjust="spacingAndGlyphs">56</text>
<line x1="461.1" y1="372.5" x2="463.7" y2="372.5" stroke="#1a1a1a" stroke-width="0.8" />
<text x="457.5" y="374.7" font-size="6.86" text-anchor="end" fill="#2a2a2a" stroke="#2a2a2a" stroke-width="0.25" textLength="6.79" lengthAdjust="spacingAndGlyphs">52</text>
<line x1="461.1" y1="392.1" x2="463.7" y2="392.1" stroke="#1a1a1a" stroke-width="0.8" />
<text x="457.5" y="394.3" font-size="6.86" text-anchor="end" fill="#2a2a2a" stroke="#2a2a2a" stroke-width="0.25" textLength="6.79" lengthAdjust="spacingAndGlyphs">48</text>
<rect x="466" y="367.9" width="14.2" height="28" fill="#124d8e" />
<rect x="484.5" y="391.7" width="14.4" height="4.2" fill="#d20a2e" />
<rect x="503.5" y="373.9" width="13.9" height="22" fill="#3aa83a" />
<line x1="473.4" y1="366.1" x2="473.4" y2="369" stroke="#222" stroke-width="0.6" />
<line x1="471.9" y1="366.1" x2="474.9" y2="366.1" stroke="#222" stroke-width="0.6" />
<line x1="471.9" y1="369" x2="474.9" y2="369" stroke="#222" stroke-width="0.6" />
<line x1="491.5" y1="390" x2="491.5" y2="392.5" stroke="#222" stroke-width="0.6" />
<line x1="490" y1="390" x2="493" y2="390" stroke="#222" stroke-width="0.6" />
<line x1="490" y1="392.5" x2="493" y2="392.5" stroke="#222" stroke-width="0.6" />
<line x1="509.8" y1="371.3" x2="509.8" y2="374.5" stroke="#222" stroke-width="0.6" />
<line x1="508.3" y1="371.3" x2="511.3" y2="371.3" stroke="#222" stroke-width="0.6" />
<line x1="508.3" y1="374.5" x2="511.3" y2="374.5" stroke="#222" stroke-width="0.6" />
<path d="M472.50,363.20 h1.8 M473.40,362.30 v1.8 M472.75,362.55 l1.3,1.3 M472.75,363.85 l1.3,-1.3" stroke="#3a3a3a" stroke-width="0.55"/>
<path d="M490.60,386.90 h1.8 M491.50,386.00 v1.8 M490.85,386.25 l1.3,1.3 M490.85,387.55 l1.3,-1.3" stroke="#3a3a3a" stroke-width="0.55"/>
<line x1="473.4" y1="396.4" x2="473.4" y2="399.6" stroke="#1a1a1a" stroke-width="0.7" />
<line x1="491.5" y1="396.4" x2="491.5" y2="399.6" stroke="#1a1a1a" stroke-width="0.7" />
<line x1="509.8" y1="396.4" x2="509.8" y2="399.6" stroke="#1a1a1a" stroke-width="0.7" />
<text x="519.3" y="348" font-size="6.4" text-anchor="end" fill="#d0203a" stroke="#d0203a" stroke-width="0.12" textLength="7.4" lengthAdjust="spacingAndGlyphs">A2</text>
<text x="442.5" y="372.7" font-size="7.4" text-anchor="middle" fill="#262626" stroke="#262626" stroke-width="0.25" transform="rotate(-90 442.5 372.7)">T<tspan font-size="4.6" dy="1.2">eq</tspan><tspan dy="-1.2"> (°C)</tspan></text>
<line x1="463.7" y1="419.5" x2="463.7" y2="464.2" stroke="#1a1a1a" stroke-width="1.0" />
<line x1="463.7" y1="464.2" x2="519.5" y2="464.2" stroke="#1a1a1a" stroke-width="1.0" />
<line x1="461.1" y1="422" x2="463.7" y2="422" stroke="#1a1a1a" stroke-width="0.8" />
<text x="457.5" y="424.2" font-size="6.86" text-anchor="end" fill="#2a2a2a" stroke="#2a2a2a" stroke-width="0.25" textLength="6.79" lengthAdjust="spacingAndGlyphs">68</text>
<line x1="461.1" y1="443.3" x2="463.7" y2="443.3" stroke="#1a1a1a" stroke-width="0.8" />
<text x="457.5" y="445.5" font-size="6.86" text-anchor="end" fill="#2a2a2a" stroke="#2a2a2a" stroke-width="0.25" textLength="6.79" lengthAdjust="spacingAndGlyphs">64</text>
<line x1="461.1" y1="463.5" x2="463.7" y2="463.5" stroke="#1a1a1a" stroke-width="0.8" />
<text x="457.5" y="465.7" font-size="6.86" text-anchor="end" fill="#2a2a2a" stroke="#2a2a2a" stroke-width="0.25" textLength="6.79" lengthAdjust="spacingAndGlyphs">60</text>
<rect x="466.3" y="455.7" width="14.3" height="8" fill="#124d8e" />
<rect x="484.4" y="451" width="14.3" height="12.7" fill="#d20a2e" />
<rect x="503.1" y="426" width="14.3" height="37.7" fill="#3aa83a" />
<line x1="473.4" y1="454" x2="473.4" y2="456.5" stroke="#222" stroke-width="0.6" />
<line x1="471.9" y1="454" x2="474.9" y2="454" stroke="#222" stroke-width="0.6" />
<line x1="471.9" y1="456.5" x2="474.9" y2="456.5" stroke="#222" stroke-width="0.6" />
<line x1="491.5" y1="449.5" x2="491.5" y2="452" stroke="#222" stroke-width="0.6" />
<line x1="490" y1="449.5" x2="493" y2="449.5" stroke="#222" stroke-width="0.6" />
<line x1="490" y1="452" x2="493" y2="452" stroke="#222" stroke-width="0.6" />
<line x1="509.8" y1="420" x2="509.8" y2="427" stroke="#222" stroke-width="0.6" />
<line x1="508.3" y1="420" x2="511.3" y2="420" stroke="#222" stroke-width="0.6" />
<line x1="508.3" y1="427" x2="511.3" y2="427" stroke="#222" stroke-width="0.6" />
<path d="M472.50,451.50 h1.8 M473.40,450.60 v1.8 M472.75,450.85 l1.3,1.3 M472.75,452.15 l1.3,-1.3" stroke="#3a3a3a" stroke-width="0.55"/>
<path d="M490.60,447.00 h1.8 M491.50,446.10 v1.8 M490.85,446.35 l1.3,1.3 M490.85,447.65 l1.3,-1.3" stroke="#3a3a3a" stroke-width="0.55"/>
<line x1="473.4" y1="464.2" x2="473.4" y2="467.4" stroke="#1a1a1a" stroke-width="0.7" />
<line x1="491.5" y1="464.2" x2="491.5" y2="467.4" stroke="#1a1a1a" stroke-width="0.7" />
<line x1="509.8" y1="464.2" x2="509.8" y2="467.4" stroke="#1a1a1a" stroke-width="0.7" />
<text x="519.3" y="414.7" font-size="6.4" text-anchor="end" fill="#3aa63a" stroke="#3aa63a" stroke-width="0.12" textLength="7.4" lengthAdjust="spacingAndGlyphs">A3</text>
<text x="442.5" y="440.8" font-size="7.4" text-anchor="middle" fill="#262626" stroke="#262626" stroke-width="0.25" transform="rotate(-90 442.5 440.8)">T<tspan font-size="4.6" dy="1.2">eq</tspan><tspan dy="-1.2"> (°C)</tspan></text>
<text x="475.5" y="472.5" font-size="6.3" text-anchor="end" fill="#2b2b2b" stroke="#2b2b2b" stroke-width="0.12" textLength="28.5" lengthAdjust="spacingAndGlyphs" transform="rotate(-45 475.5 472.5)">Wild Type</text>
<text x="493.8" y="472" font-size="6.3" text-anchor="end" fill="#2b2b2b" stroke="#2b2b2b" stroke-width="0.12" textLength="48.5" lengthAdjust="spacingAndGlyphs" transform="rotate(-45 493.8 472)">C1669S/C1670S</text>
<text x="513.8" y="472.5" font-size="6.3" text-anchor="end" fill="#2b2b2b" stroke="#2b2b2b" stroke-width="0.12" textLength="45.5" lengthAdjust="spacingAndGlyphs" transform="rotate(-45 513.8 472.5)">Single Domains</text>
<rect x="73" y="533.5" width="2" height="5.2" fill="#333" />
</svg></body></html>
